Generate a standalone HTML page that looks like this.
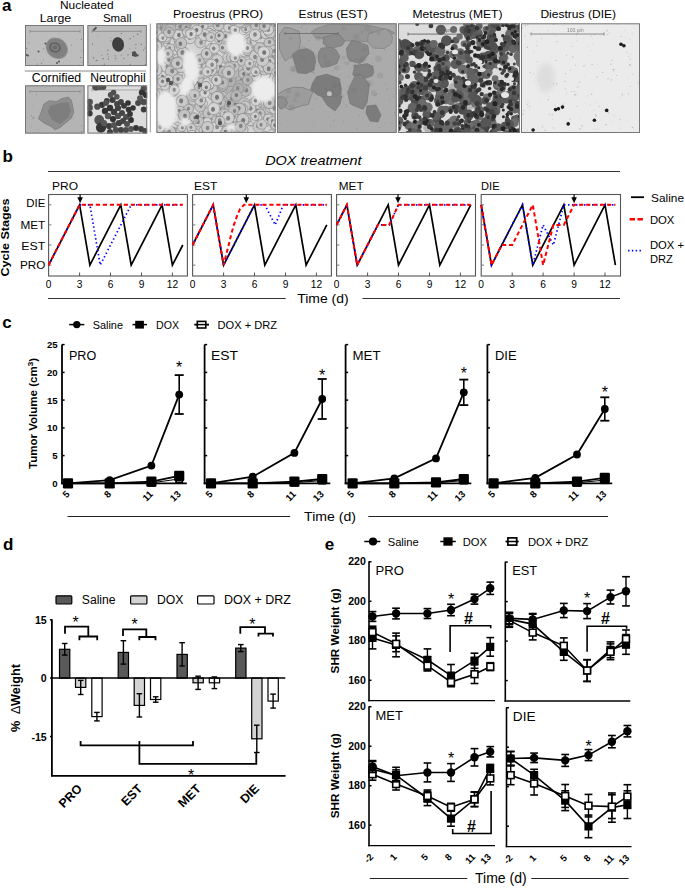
<!DOCTYPE html>
<html><head><meta charset="utf-8"><style>
html,body{margin:0;padding:0;background:#fff;}
body{width:685px;height:888px;overflow:hidden;}
svg{display:block;font-family:"Liberation Sans", sans-serif;}
</style></head><body>
<svg width="685" height="888" viewBox="0 0 685 888">
<rect width="685" height="888" fill="#fff"/>
<text x="2.0" y="11.2" font-size="17" font-weight="bold" text-anchor="start" fill="#000">a</text>
<text x="60.0" y="9.2" font-size="10.5" text-anchor="start" fill="#000" textLength="53.5" lengthAdjust="spacingAndGlyphs">Nucleated</text>
<text x="39.7" y="22.2" font-size="10.5" text-anchor="start" fill="#000" textLength="31.5" lengthAdjust="spacingAndGlyphs">Large</text>
<text x="102.9" y="22.3" font-size="10.8" text-anchor="start" fill="#000" textLength="28.6" lengthAdjust="spacingAndGlyphs">Small</text>
<text x="31.8" y="82.1" font-size="12.4" text-anchor="start" fill="#000" textLength="49.3" lengthAdjust="spacingAndGlyphs">Cornified</text>
<text x="90.2" y="82.1" font-size="12.4" text-anchor="start" fill="#000" textLength="55.4" lengthAdjust="spacingAndGlyphs">Neutrophil</text>
<line x1="24.7" y1="71.0" x2="146.2" y2="71.0" stroke="#888" stroke-width="1"/>
<line x1="150.3" y1="23.5" x2="150.3" y2="132.5" stroke="#999" stroke-width="1"/>
<text x="172.9" y="17.5" font-size="11.8" text-anchor="start" fill="#000" textLength="90.2" lengthAdjust="spacingAndGlyphs">Proestrus (PRO)</text>
<text x="298.6" y="17.5" font-size="11.8" text-anchor="start" fill="#000" textLength="69.1" lengthAdjust="spacingAndGlyphs">Estrus (EST)</text>
<text x="412.5" y="17.5" font-size="11.8" text-anchor="start" fill="#000" textLength="89.9" lengthAdjust="spacingAndGlyphs">Metestrus (MET)</text>
<text x="540.4" y="17.5" font-size="11.8" text-anchor="start" fill="#000" textLength="75.7" lengthAdjust="spacingAndGlyphs">Diestrus (DIE)</text>
<filter id="bl0" x="-20%" y="-20%" width="140%" height="140%"><feGaussianBlur stdDeviation="0.8"/></filter>
<clipPath id="cL"><rect x="25" y="25" width="59" height="41"/></clipPath>
<rect x="25" y="25" width="59" height="41" fill="#bdbdbd"/>
<g clip-path="url(#cL)">
<line x1="30.0" y1="31.4" x2="80.0" y2="31.4" stroke="#888" stroke-width="0.8"/>
<line x1="30.0" y1="29.9" x2="30.0" y2="32.9" stroke="#888" stroke-width="0.8"/>
<line x1="80.0" y1="29.9" x2="80.0" y2="32.9" stroke="#888" stroke-width="0.8"/>
<circle cx="61.8" cy="57.5" r="0.70" fill="#8a8a8a"/>
<circle cx="80.6" cy="57.4" r="0.76" fill="#8a8a8a"/>
<circle cx="26.7" cy="48.4" r="0.77" fill="#8a8a8a"/>
<circle cx="63.3" cy="62.7" r="0.36" fill="#8a8a8a"/>
<circle cx="52.7" cy="41.1" r="0.57" fill="#8a8a8a"/>
<circle cx="58.9" cy="33.4" r="0.41" fill="#8a8a8a"/>
<circle cx="41.5" cy="63.2" r="0.68" fill="#8a8a8a"/>
<circle cx="34.4" cy="59.3" r="0.37" fill="#8a8a8a"/>
<circle cx="61.4" cy="37.2" r="0.30" fill="#8a8a8a"/>
<circle cx="76.4" cy="39.9" r="0.41" fill="#8a8a8a"/>
<circle cx="83.0" cy="61.8" r="0.44" fill="#8a8a8a"/>
<circle cx="81.7" cy="50.8" r="0.64" fill="#8a8a8a"/>
<circle cx="37.1" cy="64.1" r="0.65" fill="#8a8a8a"/>
<circle cx="82.0" cy="62.5" r="0.45" fill="#8a8a8a"/>
<circle cx="46.3" cy="38.5" r="0.37" fill="#8a8a8a"/>
<circle cx="28.8" cy="42.9" r="0.60" fill="#8a8a8a"/>
<circle cx="25.2" cy="55.4" r="0.47" fill="#8a8a8a"/>
<circle cx="43.3" cy="60.0" r="0.54" fill="#8a8a8a"/>
<circle cx="43.6" cy="48.9" r="0.65" fill="#8a8a8a"/>
<circle cx="28.4" cy="65.2" r="0.31" fill="#8a8a8a"/>
<circle cx="69.2" cy="60.9" r="0.31" fill="#8a8a8a"/>
<circle cx="71.5" cy="45.1" r="0.59" fill="#8a8a8a"/>
<circle cx="25.5" cy="34.5" r="0.39" fill="#8a8a8a"/>
<circle cx="81.4" cy="39.5" r="0.68" fill="#8a8a8a"/>
<circle cx="79.8" cy="64.1" r="0.47" fill="#8a8a8a"/>
<ellipse cx="56.8" cy="48.2" rx="11.2" ry="9.6" fill="#808080" stroke="#8e8e8e" stroke-width="1" transform="rotate(40 56.8 48.2)"/>
<ellipse cx="55" cy="47.5" rx="5" ry="4.2" fill="none" stroke="#5e5e5e" stroke-width="1.6" transform="rotate(20 55 47.5)"/>
<ellipse cx="55" cy="47.5" rx="2.5" ry="2" fill="#6a6a6a"/>
<circle cx="38.5" cy="51.5" r="1" fill="#555"/>
<circle cx="26.5" cy="55" r="1" fill="#555"/>
<circle cx="28" cy="55.5" r="1" fill="#555"/>
<circle cx="57" cy="63" r="1" fill="#555"/>
<circle cx="59" cy="61.5" r="1" fill="#555"/>
<circle cx="45.5" cy="43.5" r="1" fill="#555"/>
</g>
<rect x="25.5" y="25.5" width="58" height="40" fill="none" stroke="#777" stroke-width="1"/>
<clipPath id="cS"><rect x="87.4" y="25" width="59.4" height="41"/></clipPath>
<rect x="87.4" y="25" width="59.4" height="41" fill="#bcbcbc"/>
<g clip-path="url(#cS)">
<line x1="92.0" y1="31.4" x2="141.0" y2="31.4" stroke="#888" stroke-width="0.8"/>
<line x1="92.0" y1="29.9" x2="92.0" y2="32.9" stroke="#888" stroke-width="0.8"/>
<line x1="141.0" y1="29.9" x2="141.0" y2="32.9" stroke="#888" stroke-width="0.8"/>
<circle cx="107.9" cy="50.3" r="0.69" fill="#777"/>
<circle cx="93.4" cy="57.7" r="0.70" fill="#777"/>
<circle cx="137.7" cy="34.2" r="0.77" fill="#777"/>
<circle cx="92.4" cy="44.2" r="0.61" fill="#777"/>
<circle cx="141.2" cy="44.2" r="0.76" fill="#777"/>
<circle cx="119.2" cy="43.3" r="0.46" fill="#777"/>
<circle cx="97.5" cy="35.6" r="0.37" fill="#777"/>
<circle cx="127.7" cy="65.9" r="0.38" fill="#777"/>
<circle cx="89.9" cy="65.6" r="0.57" fill="#777"/>
<circle cx="110.9" cy="40.8" r="0.60" fill="#777"/>
<circle cx="135.8" cy="48.0" r="0.51" fill="#777"/>
<circle cx="90.3" cy="63.2" r="0.32" fill="#777"/>
<circle cx="116.1" cy="60.7" r="0.37" fill="#777"/>
<circle cx="130.2" cy="64.3" r="0.62" fill="#777"/>
<circle cx="133.5" cy="36.5" r="0.52" fill="#777"/>
<circle cx="95.8" cy="60.9" r="0.45" fill="#777"/>
<circle cx="113.7" cy="66.0" r="0.73" fill="#777"/>
<circle cx="144.6" cy="48.0" r="0.54" fill="#777"/>
<circle cx="130.0" cy="48.8" r="0.45" fill="#777"/>
<circle cx="110.8" cy="37.8" r="0.49" fill="#777"/>
<circle cx="145.3" cy="64.7" r="0.61" fill="#777"/>
<circle cx="116.5" cy="44.2" r="0.34" fill="#777"/>
<circle cx="103.1" cy="58.8" r="0.73" fill="#777"/>
<circle cx="108.3" cy="58.9" r="0.69" fill="#777"/>
<circle cx="128.0" cy="54.9" r="0.68" fill="#777"/>
<circle cx="108.4" cy="56.2" r="0.44" fill="#777"/>
<circle cx="115.7" cy="58.4" r="0.65" fill="#777"/>
<circle cx="104.3" cy="64.2" r="0.62" fill="#777"/>
<circle cx="121.3" cy="33.4" r="0.57" fill="#777"/>
<circle cx="101.8" cy="55.2" r="0.53" fill="#777"/>
<circle cx="135.2" cy="54.4" r="0.70" fill="#777"/>
<circle cx="107.5" cy="54.3" r="0.67" fill="#777"/>
<circle cx="135.9" cy="44.6" r="0.72" fill="#777"/>
<circle cx="138.3" cy="55.7" r="0.79" fill="#777"/>
<circle cx="143.4" cy="50.1" r="0.56" fill="#777"/>
<circle cx="96.8" cy="60.6" r="0.77" fill="#777"/>
<circle cx="115.2" cy="55.8" r="0.66" fill="#777"/>
<circle cx="130.1" cy="38.7" r="0.69" fill="#777"/>
<circle cx="121.3" cy="55.0" r="0.51" fill="#777"/>
<circle cx="123.8" cy="58.6" r="0.62" fill="#777"/>
<ellipse cx="118.1" cy="44.4" rx="5.9" ry="7.3" fill="#3e3e3e" transform="rotate(-12 118.1 44.4)"/>
<path d="M132 52 L135 51 L137 54 L139 55 L136 57 L132 56 Z" fill="#505050"/>
<path d="M92.5 30 L96 26.5 L97 28 L94 31 Z" fill="#4a4a4a"/>
</g>
<rect x="87.9" y="25.5" width="58.4" height="40" fill="none" stroke="#777" stroke-width="1"/>
<clipPath id="cC"><rect x="25" y="85.3" width="59.6" height="48.3"/></clipPath>
<rect x="25" y="85.3" width="59.6" height="48.3" fill="#b4b4b4"/>
<g clip-path="url(#cC)">
<line x1="30.0" y1="91.5" x2="80.0" y2="91.5" stroke="#888" stroke-width="0.8"/>
<line x1="30.0" y1="90.0" x2="30.0" y2="93.0" stroke="#888" stroke-width="0.8"/>
<line x1="80.0" y1="90.0" x2="80.0" y2="93.0" stroke="#888" stroke-width="0.8"/>
<circle cx="67.5" cy="94.1" r="0.38" fill="#8a8a8a"/>
<circle cx="51.0" cy="119.0" r="0.41" fill="#8a8a8a"/>
<circle cx="65.5" cy="118.2" r="0.32" fill="#8a8a8a"/>
<circle cx="52.8" cy="102.0" r="0.33" fill="#8a8a8a"/>
<circle cx="32.9" cy="105.7" r="0.39" fill="#8a8a8a"/>
<circle cx="36.4" cy="94.4" r="0.53" fill="#8a8a8a"/>
<circle cx="47.4" cy="117.5" r="0.60" fill="#8a8a8a"/>
<circle cx="39.0" cy="129.1" r="0.30" fill="#8a8a8a"/>
<circle cx="48.9" cy="104.1" r="0.51" fill="#8a8a8a"/>
<circle cx="31.8" cy="126.3" r="0.49" fill="#8a8a8a"/>
<circle cx="27.1" cy="117.5" r="0.35" fill="#8a8a8a"/>
<circle cx="57.2" cy="106.6" r="0.59" fill="#8a8a8a"/>
<circle cx="81.5" cy="125.7" r="0.51" fill="#8a8a8a"/>
<circle cx="73.0" cy="118.7" r="0.48" fill="#8a8a8a"/>
<circle cx="33.4" cy="116.8" r="0.58" fill="#8a8a8a"/>
<circle cx="81.5" cy="131.7" r="0.60" fill="#8a8a8a"/>
<circle cx="45.7" cy="128.7" r="0.30" fill="#8a8a8a"/>
<circle cx="31.4" cy="115.6" r="0.61" fill="#8a8a8a"/>
<circle cx="33.3" cy="118.2" r="0.75" fill="#8a8a8a"/>
<circle cx="47.2" cy="110.3" r="0.41" fill="#8a8a8a"/>
<path d="M38.5 118.8 L41.2 112.1 L43.9 103.9 L49.3 100.7 L56.6 101.6 L62 98.5 L68.3 97.1 L71.1 99.8 L72 103 L73.8 112.1 L71.1 118.4 L65.6 122.9 L60.2 127.4 L55.2 129.7 L51.1 126.5 L43.9 122.9 Z" fill="#8e8e8e" stroke="#7c7c7c" stroke-width="0.8"/>
<path d="M50 106 L60 103 L68 102 L71 110 L68 118 L60 124 L52 120 L48 112 Z" fill="#7e7e7e"/>
</g>
<rect x="25.5" y="85.8" width="58.6" height="47.3" fill="none" stroke="#777" stroke-width="1"/>
<clipPath id="cN"><rect x="87.4" y="85.3" width="59.8" height="48.3"/></clipPath>
<rect x="87.4" y="85.3" width="59.8" height="48.3" fill="#dcdcdc"/>
<g clip-path="url(#cN)">
<line x1="92.0" y1="90.0" x2="141.0" y2="90.0" stroke="#999" stroke-width="0.8"/>
<line x1="92.0" y1="88.5" x2="92.0" y2="91.5" stroke="#999" stroke-width="0.8"/>
<line x1="141.0" y1="88.5" x2="141.0" y2="91.5" stroke="#999" stroke-width="0.8"/>
<circle cx="96.0" cy="86.8" r="3.8" fill="#4e4e4e"/>
<circle cx="100.0" cy="87.0" r="3.1" fill="#555555"/>
<circle cx="103.5" cy="87.2" r="2.8" fill="#4f4f4f"/>
<circle cx="113.5" cy="92.5" r="2.8" fill="#4e4e4e"/>
<circle cx="110.6" cy="94.9" r="2.8" fill="#525252"/>
<circle cx="116.8" cy="96.8" r="2.8" fill="#575757"/>
<circle cx="112.5" cy="100.1" r="3.0" fill="#3e3e3e"/>
<circle cx="106.8" cy="101.0" r="2.9" fill="#3d3d3d"/>
<circle cx="89.7" cy="102.0" r="3.2" fill="#525252"/>
<circle cx="89.7" cy="107.7" r="3.2" fill="#505050"/>
<circle cx="89.7" cy="113.4" r="3.0" fill="#3d3d3d"/>
<circle cx="102.0" cy="104.8" r="3.1" fill="#383838"/>
<circle cx="97.3" cy="106.7" r="3.1" fill="#4e4e4e"/>
<circle cx="121.0" cy="102.0" r="2.9" fill="#454545"/>
<circle cx="124.0" cy="105.8" r="2.9" fill="#3b3b3b"/>
<circle cx="128.6" cy="109.6" r="2.9" fill="#373737"/>
<circle cx="143.8" cy="88.7" r="3.2" fill="#545454"/>
<circle cx="141.9" cy="92.5" r="3.1" fill="#343434"/>
<circle cx="140.0" cy="98.2" r="3.0" fill="#585858"/>
<circle cx="138.1" cy="103.0" r="3.0" fill="#4b4b4b"/>
<circle cx="143.8" cy="102.0" r="3.2" fill="#4e4e4e"/>
<circle cx="143.8" cy="109.6" r="3.0" fill="#3c3c3c"/>
<circle cx="146.0" cy="95.0" r="3.1" fill="#323232"/>
<circle cx="99.2" cy="120.0" r="4.9" fill="#535353"/>
<circle cx="101.0" cy="127.6" r="5.1" fill="#363636"/>
<circle cx="105.0" cy="111.0" r="3.2" fill="#353535"/>
<circle cx="110.0" cy="108.0" r="3.2" fill="#343434"/>
<circle cx="114.0" cy="112.0" r="3.2" fill="#3e3e3e"/>
<circle cx="118.0" cy="108.0" r="3.1" fill="#414141"/>
<circle cx="108.0" cy="116.0" r="3.2" fill="#585858"/>
<circle cx="113.0" cy="119.0" r="3.1" fill="#333333"/>
<circle cx="118.0" cy="116.0" r="3.1" fill="#4f4f4f"/>
<circle cx="122.0" cy="113.0" r="3.0" fill="#464646"/>
<circle cx="126.0" cy="117.0" r="3.0" fill="#4e4e4e"/>
<circle cx="104.0" cy="123.0" r="3.1" fill="#575757"/>
<circle cx="109.0" cy="126.0" r="3.1" fill="#3e3e3e"/>
<circle cx="114.0" cy="125.0" r="3.1" fill="#535353"/>
<circle cx="119.0" cy="123.0" r="3.1" fill="#404040"/>
<circle cx="123.0" cy="121.0" r="3.0" fill="#444444"/>
<circle cx="127.0" cy="124.0" r="3.0" fill="#515151"/>
<circle cx="131.0" cy="120.0" r="2.9" fill="#323232"/>
<circle cx="130.0" cy="114.0" r="2.9" fill="#373737"/>
<circle cx="116.0" cy="130.0" r="3.1" fill="#4f4f4f"/>
<circle cx="121.0" cy="130.0" r="3.0" fill="#434343"/>
<circle cx="126.0" cy="130.0" r="3.0" fill="#4c4c4c"/>
<circle cx="131.0" cy="129.0" r="2.9" fill="#555555"/>
<circle cx="136.0" cy="128.0" r="2.9" fill="#373737"/>
<circle cx="141.0" cy="129.0" r="2.9" fill="#424242"/>
<circle cx="145.0" cy="131.0" r="2.9" fill="#464646"/>
<circle cx="110.0" cy="132.0" r="3.0" fill="#404040"/>
<circle cx="106.0" cy="103.0" r="2.9" fill="#525252"/>
<circle cx="117.0" cy="104.0" r="2.9" fill="#444444"/>
<circle cx="128.0" cy="103.0" r="2.8" fill="#333333"/>
<circle cx="133.0" cy="108.0" r="2.8" fill="#363636"/>
</g>
<rect x="87.9" y="85.8" width="58.8" height="47.3" fill="none" stroke="#777" stroke-width="1"/>
<filter id="bl" x="-5%" y="-5%" width="110%" height="110%"><feGaussianBlur stdDeviation="0.55"/></filter>
<filter id="bl2" x="-20%" y="-20%" width="140%" height="140%"><feGaussianBlur stdDeviation="2.5"/></filter>
<clipPath id="cP"><rect x="156.4" y="23.3" width="119.3" height="109.7"/></clipPath>
<g clip-path="url(#cP)"><g filter="url(#bl)">
<rect x="153.4" y="20.3" width="125.3" height="115.7" fill="#d4d4d4"/>
<filter id="bl3" x="-30%" y="-30%" width="160%" height="160%"><feGaussianBlur stdDeviation="1.6"/></filter>
<circle cx="233.2" cy="75.7" r="4.6" fill="#c0c0c0" stroke="#9c9c9c" stroke-width="0.9"/>
<ellipse cx="233.2" cy="75.2" rx="1.5" ry="1.9" fill="#797979"/>
<circle cx="152.8" cy="63.0" r="5.4" fill="#c6c6c6" stroke="#909090" stroke-width="0.9"/>
<ellipse cx="152.3" cy="62.4" rx="1.8" ry="2.1" fill="#8c8c8c"/>
<circle cx="157.8" cy="136.7" r="5.7" fill="#d1d1d1" stroke="#9f9f9f" stroke-width="0.9"/>
<ellipse cx="156.9" cy="136.4" rx="1.9" ry="2.3" fill="#828282"/>
<circle cx="215.7" cy="32.9" r="6.1" fill="#cecece" stroke="#8c8c8c" stroke-width="0.9"/>
<ellipse cx="216.2" cy="32.1" rx="2.0" ry="2.4" fill="#787878"/>
<circle cx="255.3" cy="21.6" r="4.5" fill="#cdcdcd" stroke="#989898" stroke-width="0.9"/>
<ellipse cx="254.6" cy="21.9" rx="1.5" ry="1.8" fill="#838383"/>
<circle cx="212.2" cy="115.8" r="4.3" fill="#c9c9c9" stroke="#929292" stroke-width="0.9"/>
<ellipse cx="213.2" cy="116.6" rx="1.4" ry="1.7" fill="#898989"/>
<circle cx="248.5" cy="109.1" r="5.4" fill="#c2c2c2" stroke="#8f8f8f" stroke-width="0.9"/>
<ellipse cx="248.4" cy="109.7" rx="1.8" ry="2.1" fill="#858585"/>
<circle cx="178.0" cy="128.0" r="6.0" fill="#d0d0d0" stroke="#959595" stroke-width="0.9"/>
<ellipse cx="178.9" cy="128.0" rx="2.0" ry="2.4" fill="#7f7f7f"/>
<circle cx="277.5" cy="19.6" r="4.3" fill="#d3d3d3" stroke="#939393" stroke-width="0.9"/>
<ellipse cx="277.7" cy="19.7" rx="1.4" ry="1.7" fill="#868686"/>
<circle cx="174.1" cy="60.3" r="6.1" fill="#cecece" stroke="#9f9f9f" stroke-width="0.9"/>
<ellipse cx="173.5" cy="59.6" rx="2.0" ry="2.4" fill="#7d7d7d"/>
<circle cx="269.9" cy="39.8" r="5.1" fill="#c8c8c8" stroke="#8d8d8d" stroke-width="0.9"/>
<ellipse cx="270.0" cy="40.1" rx="1.7" ry="2.0" fill="#898989"/>
<circle cx="183.1" cy="127.3" r="4.5" fill="#d5d5d5" stroke="#8c8c8c" stroke-width="0.9"/>
<ellipse cx="183.1" cy="127.1" rx="1.5" ry="1.8" fill="#7f7f7f"/>
<circle cx="173.1" cy="27.5" r="5.8" fill="#d2d2d2" stroke="#8d8d8d" stroke-width="0.9"/>
<ellipse cx="172.2" cy="27.0" rx="1.9" ry="2.3" fill="#7d7d7d"/>
<circle cx="174.1" cy="27.5" r="4.9" fill="#c7c7c7" stroke="#909090" stroke-width="0.9"/>
<ellipse cx="174.6" cy="26.6" rx="1.6" ry="2.0" fill="#8b8b8b"/>
<circle cx="268.4" cy="75.7" r="6.1" fill="#cecece" stroke="#909090" stroke-width="0.9"/>
<ellipse cx="268.6" cy="75.5" rx="2.0" ry="2.4" fill="#7f7f7f"/>
<circle cx="226.4" cy="119.3" r="4.8" fill="#d4d4d4" stroke="#9e9e9e" stroke-width="0.9"/>
<ellipse cx="225.7" cy="119.7" rx="1.6" ry="1.9" fill="#7c7c7c"/>
<circle cx="201.1" cy="34.1" r="5.6" fill="#cbcbcb" stroke="#9e9e9e" stroke-width="0.9"/>
<ellipse cx="201.4" cy="34.8" rx="1.9" ry="2.3" fill="#7e7e7e"/>
<circle cx="204.0" cy="132.1" r="6.0" fill="#c7c7c7" stroke="#909090" stroke-width="0.9"/>
<ellipse cx="203.8" cy="131.5" rx="2.0" ry="2.4" fill="#777777"/>
<circle cx="234.1" cy="111.8" r="4.3" fill="#c1c1c1" stroke="#a0a0a0" stroke-width="0.9"/>
<ellipse cx="233.3" cy="111.9" rx="1.4" ry="1.7" fill="#7d7d7d"/>
<circle cx="180.4" cy="38.8" r="4.6" fill="#cfcfcf" stroke="#929292" stroke-width="0.9"/>
<ellipse cx="180.8" cy="39.4" rx="1.5" ry="1.8" fill="#8a8a8a"/>
<circle cx="229.3" cy="78.7" r="5.7" fill="#b2b2b2" stroke="#8c8c8c" stroke-width="0.9"/>
<ellipse cx="229.2" cy="77.9" rx="1.9" ry="2.3" fill="#808080"/>
<circle cx="249.6" cy="39.9" r="5.6" fill="#cbcbcb" stroke="#9f9f9f" stroke-width="0.9"/>
<ellipse cx="250.1" cy="39.4" rx="1.9" ry="2.2" fill="#7e7e7e"/>
<circle cx="278.5" cy="115.5" r="5.8" fill="#d2d2d2" stroke="#9e9e9e" stroke-width="0.9"/>
<ellipse cx="278.6" cy="114.7" rx="1.9" ry="2.3" fill="#777777"/>
<circle cx="228.1" cy="57.4" r="5.2" fill="#cbcbcb" stroke="#9f9f9f" stroke-width="0.9"/>
<ellipse cx="228.6" cy="56.8" rx="1.7" ry="2.1" fill="#848484"/>
<circle cx="230.9" cy="57.6" r="4.6" fill="#c4c4c4" stroke="#969696" stroke-width="0.9"/>
<ellipse cx="231.9" cy="56.9" rx="1.5" ry="1.8" fill="#898989"/>
<circle cx="162.1" cy="27.9" r="5.8" fill="#d2d2d2" stroke="#9c9c9c" stroke-width="0.9"/>
<ellipse cx="163.0" cy="28.3" rx="1.9" ry="2.3" fill="#878787"/>
<circle cx="242.2" cy="74.7" r="5.2" fill="#c1c1c1" stroke="#8e8e8e" stroke-width="0.9"/>
<ellipse cx="241.3" cy="75.0" rx="1.7" ry="2.1" fill="#7b7b7b"/>
<circle cx="227.4" cy="66.9" r="5.1" fill="#c5c5c5" stroke="#989898" stroke-width="0.9"/>
<ellipse cx="227.1" cy="66.4" rx="1.7" ry="2.0" fill="#808080"/>
<circle cx="157.2" cy="39.6" r="4.9" fill="#cacaca" stroke="#9a9a9a" stroke-width="0.9"/>
<ellipse cx="157.4" cy="39.9" rx="1.6" ry="2.0" fill="#888888"/>
<circle cx="245.5" cy="90.6" r="5.8" fill="#b9b9b9" stroke="#939393" stroke-width="0.9"/>
<ellipse cx="246.3" cy="90.3" rx="1.9" ry="2.3" fill="#838383"/>
<circle cx="230.7" cy="116.4" r="6.1" fill="#c1c1c1" stroke="#919191" stroke-width="0.9"/>
<ellipse cx="230.1" cy="117.1" rx="2.0" ry="2.5" fill="#7e7e7e"/>
<circle cx="243.6" cy="30.0" r="4.6" fill="#d3d3d3" stroke="#959595" stroke-width="0.9"/>
<ellipse cx="244.5" cy="30.5" rx="1.5" ry="1.8" fill="#878787"/>
<circle cx="211.3" cy="32.0" r="6.1" fill="#d0d0d0" stroke="#929292" stroke-width="0.9"/>
<ellipse cx="210.9" cy="32.3" rx="2.0" ry="2.4" fill="#898989"/>
<circle cx="273.5" cy="57.2" r="4.7" fill="#c7c7c7" stroke="#9c9c9c" stroke-width="0.9"/>
<ellipse cx="273.0" cy="57.6" rx="1.6" ry="1.9" fill="#7a7a7a"/>
<circle cx="202.4" cy="66.6" r="5.1" fill="#cbcbcb" stroke="#919191" stroke-width="0.9"/>
<ellipse cx="202.2" cy="66.1" rx="1.7" ry="2.0" fill="#898989"/>
<circle cx="176.4" cy="132.4" r="4.3" fill="#cecece" stroke="#8c8c8c" stroke-width="0.9"/>
<ellipse cx="176.4" cy="131.5" rx="1.4" ry="1.7" fill="#767676"/>
<circle cx="229.8" cy="101.7" r="4.7" fill="#b6b6b6" stroke="#9d9d9d" stroke-width="0.9"/>
<ellipse cx="229.0" cy="101.4" rx="1.5" ry="1.9" fill="#787878"/>
<circle cx="210.2" cy="124.6" r="4.9" fill="#c7c7c7" stroke="#9e9e9e" stroke-width="0.9"/>
<ellipse cx="210.3" cy="123.7" rx="1.6" ry="2.0" fill="#818181"/>
<circle cx="176.3" cy="66.7" r="5.3" fill="#cacaca" stroke="#9e9e9e" stroke-width="0.9"/>
<ellipse cx="177.1" cy="67.5" rx="1.8" ry="2.1" fill="#868686"/>
<circle cx="154.6" cy="87.8" r="4.4" fill="#c9c9c9" stroke="#909090" stroke-width="0.9"/>
<ellipse cx="154.6" cy="87.9" rx="1.4" ry="1.7" fill="#757575"/>
<circle cx="220.6" cy="77.1" r="5.6" fill="#c7c7c7" stroke="#909090" stroke-width="0.9"/>
<ellipse cx="219.9" cy="76.7" rx="1.8" ry="2.2" fill="#7c7c7c"/>
<circle cx="233.9" cy="20.4" r="5.8" fill="#c5c5c5" stroke="#919191" stroke-width="0.9"/>
<ellipse cx="233.1" cy="21.0" rx="1.9" ry="2.3" fill="#848484"/>
<circle cx="173.0" cy="88.2" r="4.8" fill="#cfcfcf" stroke="#919191" stroke-width="0.9"/>
<ellipse cx="172.2" cy="89.0" rx="1.6" ry="1.9" fill="#757575"/>
<circle cx="221.0" cy="67.4" r="5.6" fill="#d1d1d1" stroke="#999999" stroke-width="0.9"/>
<ellipse cx="220.6" cy="66.8" rx="1.8" ry="2.2" fill="#767676"/>
<circle cx="216.4" cy="105.0" r="5.4" fill="#c7c7c7" stroke="#8c8c8c" stroke-width="0.9"/>
<ellipse cx="216.1" cy="104.9" rx="1.8" ry="2.2" fill="#8a8a8a"/>
<circle cx="262.4" cy="71.3" r="4.2" fill="#cbcbcb" stroke="#8d8d8d" stroke-width="0.9"/>
<ellipse cx="262.8" cy="71.6" rx="1.4" ry="1.7" fill="#7a7a7a"/>
<circle cx="230.8" cy="90.3" r="4.4" fill="#b3b3b3" stroke="#989898" stroke-width="0.9"/>
<ellipse cx="231.7" cy="91.2" rx="1.5" ry="1.8" fill="#7a7a7a"/>
<circle cx="253.5" cy="20.6" r="4.9" fill="#cbcbcb" stroke="#9f9f9f" stroke-width="0.9"/>
<ellipse cx="254.0" cy="20.9" rx="1.6" ry="2.0" fill="#747474"/>
<circle cx="173.0" cy="128.9" r="5.3" fill="#d0d0d0" stroke="#929292" stroke-width="0.9"/>
<ellipse cx="174.0" cy="129.0" rx="1.7" ry="2.1" fill="#7b7b7b"/>
<circle cx="251.1" cy="106.4" r="6.0" fill="#cbcbcb" stroke="#8e8e8e" stroke-width="0.9"/>
<ellipse cx="250.9" cy="105.8" rx="2.0" ry="2.4" fill="#7b7b7b"/>
<circle cx="221.1" cy="115.2" r="4.9" fill="#c7c7c7" stroke="#8c8c8c" stroke-width="0.9"/>
<ellipse cx="222.0" cy="115.7" rx="1.6" ry="2.0" fill="#818181"/>
<circle cx="277.7" cy="106.4" r="5.7" fill="#c9c9c9" stroke="#9d9d9d" stroke-width="0.9"/>
<ellipse cx="277.4" cy="107.4" rx="1.9" ry="2.3" fill="#848484"/>
<circle cx="190.1" cy="38.3" r="5.5" fill="#d1d1d1" stroke="#9b9b9b" stroke-width="0.9"/>
<ellipse cx="189.5" cy="37.7" rx="1.8" ry="2.2" fill="#8c8c8c"/>
<circle cx="180.7" cy="75.5" r="4.3" fill="#d1d1d1" stroke="#929292" stroke-width="0.9"/>
<ellipse cx="181.3" cy="75.1" rx="1.4" ry="1.7" fill="#757575"/>
<circle cx="208.5" cy="54.8" r="4.5" fill="#cacaca" stroke="#919191" stroke-width="0.9"/>
<ellipse cx="207.7" cy="53.9" rx="1.5" ry="1.8" fill="#808080"/>
<circle cx="251.4" cy="121.3" r="4.8" fill="#d1d1d1" stroke="#929292" stroke-width="0.9"/>
<ellipse cx="250.8" cy="121.8" rx="1.6" ry="1.9" fill="#838383"/>
<circle cx="255.8" cy="76.1" r="4.3" fill="#cccccc" stroke="#909090" stroke-width="0.9"/>
<ellipse cx="255.5" cy="75.8" rx="1.4" ry="1.7" fill="#838383"/>
<circle cx="224.0" cy="72.0" r="5.6" fill="#bfbfbf" stroke="#949494" stroke-width="0.9"/>
<ellipse cx="223.2" cy="72.3" rx="1.9" ry="2.3" fill="#8c8c8c"/>
<circle cx="245.9" cy="73.3" r="4.4" fill="#c0c0c0" stroke="#9f9f9f" stroke-width="0.9"/>
<ellipse cx="246.7" cy="72.5" rx="1.5" ry="1.8" fill="#7e7e7e"/>
<circle cx="191.6" cy="93.9" r="4.5" fill="#cbcbcb" stroke="#8f8f8f" stroke-width="0.9"/>
<ellipse cx="191.8" cy="94.2" rx="1.5" ry="1.8" fill="#898989"/>
<circle cx="217.8" cy="35.1" r="5.7" fill="#d2d2d2" stroke="#929292" stroke-width="0.9"/>
<ellipse cx="218.2" cy="34.7" rx="1.9" ry="2.3" fill="#757575"/>
<circle cx="235.1" cy="62.6" r="4.6" fill="#c3c3c3" stroke="#959595" stroke-width="0.9"/>
<ellipse cx="234.6" cy="63.3" rx="1.5" ry="1.8" fill="#757575"/>
<circle cx="229.0" cy="79.4" r="6.2" fill="#b8b8b8" stroke="#9f9f9f" stroke-width="0.9"/>
<ellipse cx="228.9" cy="79.4" rx="2.0" ry="2.5" fill="#8a8a8a"/>
<circle cx="274.9" cy="63.3" r="5.5" fill="#cecece" stroke="#909090" stroke-width="0.9"/>
<ellipse cx="274.7" cy="63.2" rx="1.8" ry="2.2" fill="#7f7f7f"/>
<circle cx="234.9" cy="103.9" r="5.4" fill="#c4c4c4" stroke="#939393" stroke-width="0.9"/>
<ellipse cx="235.6" cy="104.7" rx="1.8" ry="2.1" fill="#747474"/>
<circle cx="259.8" cy="110.5" r="6.0" fill="#c5c5c5" stroke="#979797" stroke-width="0.9"/>
<ellipse cx="259.1" cy="109.5" rx="2.0" ry="2.4" fill="#838383"/>
<circle cx="186.9" cy="100.8" r="4.8" fill="#c4c4c4" stroke="#9a9a9a" stroke-width="0.9"/>
<ellipse cx="186.3" cy="99.8" rx="1.6" ry="1.9" fill="#797979"/>
<circle cx="172.5" cy="37.3" r="5.3" fill="#c8c8c8" stroke="#9d9d9d" stroke-width="0.9"/>
<ellipse cx="171.8" cy="37.1" rx="1.7" ry="2.1" fill="#888888"/>
<circle cx="249.3" cy="43.2" r="5.6" fill="#d4d4d4" stroke="#8c8c8c" stroke-width="0.9"/>
<ellipse cx="249.8" cy="42.7" rx="1.8" ry="2.2" fill="#767676"/>
<circle cx="224.7" cy="48.1" r="5.1" fill="#d3d3d3" stroke="#8c8c8c" stroke-width="0.9"/>
<ellipse cx="224.3" cy="47.7" rx="1.7" ry="2.0" fill="#808080"/>
<circle cx="268.7" cy="61.4" r="5.8" fill="#c4c4c4" stroke="#9e9e9e" stroke-width="0.9"/>
<ellipse cx="267.8" cy="61.2" rx="1.9" ry="2.3" fill="#838383"/>
<circle cx="255.1" cy="76.0" r="4.3" fill="#c2c2c2" stroke="#949494" stroke-width="0.9"/>
<ellipse cx="255.0" cy="75.6" rx="1.4" ry="1.7" fill="#8c8c8c"/>
<circle cx="257.4" cy="53.3" r="4.9" fill="#d2d2d2" stroke="#a0a0a0" stroke-width="0.9"/>
<ellipse cx="257.2" cy="53.9" rx="1.6" ry="2.0" fill="#7c7c7c"/>
<circle cx="253.3" cy="108.0" r="4.5" fill="#cbcbcb" stroke="#989898" stroke-width="0.9"/>
<ellipse cx="252.9" cy="108.3" rx="1.5" ry="1.8" fill="#777777"/>
<circle cx="267.8" cy="25.1" r="5.7" fill="#d0d0d0" stroke="#9c9c9c" stroke-width="0.9"/>
<ellipse cx="267.0" cy="26.0" rx="1.9" ry="2.3" fill="#8a8a8a"/>
<circle cx="244.8" cy="24.8" r="5.5" fill="#cdcdcd" stroke="#999999" stroke-width="0.9"/>
<ellipse cx="245.3" cy="23.8" rx="1.8" ry="2.2" fill="#797979"/>
<circle cx="216.4" cy="38.5" r="4.6" fill="#c8c8c8" stroke="#969696" stroke-width="0.9"/>
<ellipse cx="216.7" cy="37.9" rx="1.5" ry="1.9" fill="#747474"/>
<circle cx="235.2" cy="72.3" r="5.7" fill="#c6c6c6" stroke="#989898" stroke-width="0.9"/>
<ellipse cx="234.8" cy="72.5" rx="1.9" ry="2.3" fill="#7a7a7a"/>
<circle cx="213.5" cy="58.0" r="6.0" fill="#c7c7c7" stroke="#959595" stroke-width="0.9"/>
<ellipse cx="214.0" cy="58.4" rx="2.0" ry="2.4" fill="#898989"/>
<circle cx="246.0" cy="28.5" r="4.3" fill="#cccccc" stroke="#969696" stroke-width="0.9"/>
<ellipse cx="245.7" cy="29.5" rx="1.4" ry="1.7" fill="#858585"/>
<circle cx="173.7" cy="65.8" r="5.5" fill="#cbcbcb" stroke="#949494" stroke-width="0.9"/>
<ellipse cx="174.3" cy="66.1" rx="1.8" ry="2.2" fill="#7a7a7a"/>
<circle cx="247.1" cy="112.3" r="5.9" fill="#c7c7c7" stroke="#989898" stroke-width="0.9"/>
<ellipse cx="247.1" cy="112.7" rx="2.0" ry="2.4" fill="#7a7a7a"/>
<circle cx="217.8" cy="133.4" r="5.5" fill="#d0d0d0" stroke="#989898" stroke-width="0.9"/>
<ellipse cx="218.7" cy="133.9" rx="1.8" ry="2.2" fill="#898989"/>
<circle cx="218.5" cy="25.0" r="5.6" fill="#c5c5c5" stroke="#919191" stroke-width="0.9"/>
<ellipse cx="217.7" cy="24.9" rx="1.9" ry="2.3" fill="#828282"/>
<circle cx="174.9" cy="87.9" r="5.5" fill="#cccccc" stroke="#999999" stroke-width="0.9"/>
<ellipse cx="174.7" cy="88.4" rx="1.8" ry="2.2" fill="#8c8c8c"/>
<circle cx="167.1" cy="60.4" r="5.6" fill="#cbcbcb" stroke="#9a9a9a" stroke-width="0.9"/>
<ellipse cx="168.0" cy="61.1" rx="1.8" ry="2.2" fill="#888888"/>
<circle cx="219.9" cy="96.0" r="5.5" fill="#c3c3c3" stroke="#a0a0a0" stroke-width="0.9"/>
<ellipse cx="220.5" cy="95.5" rx="1.8" ry="2.2" fill="#797979"/>
<circle cx="252.1" cy="19.7" r="4.9" fill="#c8c8c8" stroke="#979797" stroke-width="0.9"/>
<ellipse cx="251.6" cy="18.8" rx="1.6" ry="2.0" fill="#8a8a8a"/>
<circle cx="254.6" cy="39.7" r="5.3" fill="#d4d4d4" stroke="#939393" stroke-width="0.9"/>
<ellipse cx="255.3" cy="40.0" rx="1.8" ry="2.1" fill="#787878"/>
<circle cx="180.0" cy="65.9" r="5.8" fill="#cccccc" stroke="#8d8d8d" stroke-width="0.9"/>
<ellipse cx="179.6" cy="65.4" rx="1.9" ry="2.3" fill="#7b7b7b"/>
<circle cx="257.0" cy="109.9" r="4.6" fill="#c5c5c5" stroke="#9f9f9f" stroke-width="0.9"/>
<ellipse cx="256.9" cy="110.3" rx="1.5" ry="1.8" fill="#828282"/>
<circle cx="252.3" cy="41.3" r="5.4" fill="#c4c4c4" stroke="#989898" stroke-width="0.9"/>
<ellipse cx="251.4" cy="41.7" rx="1.8" ry="2.2" fill="#838383"/>
<circle cx="214.3" cy="126.3" r="4.5" fill="#d4d4d4" stroke="#8f8f8f" stroke-width="0.9"/>
<ellipse cx="214.9" cy="126.8" rx="1.5" ry="1.8" fill="#878787"/>
<circle cx="232.6" cy="26.7" r="6.1" fill="#d1d1d1" stroke="#8e8e8e" stroke-width="0.9"/>
<ellipse cx="232.4" cy="27.6" rx="2.0" ry="2.4" fill="#868686"/>
<circle cx="262.3" cy="112.0" r="5.2" fill="#cbcbcb" stroke="#919191" stroke-width="0.9"/>
<ellipse cx="261.9" cy="112.6" rx="1.7" ry="2.1" fill="#868686"/>
<circle cx="181.0" cy="27.4" r="6.0" fill="#c8c8c8" stroke="#999999" stroke-width="0.9"/>
<ellipse cx="180.7" cy="26.9" rx="2.0" ry="2.4" fill="#888888"/>
<circle cx="197.3" cy="82.5" r="4.4" fill="#d4d4d4" stroke="#9c9c9c" stroke-width="0.9"/>
<ellipse cx="198.1" cy="82.8" rx="1.5" ry="1.8" fill="#757575"/>
<circle cx="265.5" cy="73.5" r="5.1" fill="#d3d3d3" stroke="#939393" stroke-width="0.9"/>
<ellipse cx="265.6" cy="73.0" rx="1.7" ry="2.1" fill="#898989"/>
<circle cx="177.2" cy="86.6" r="4.8" fill="#d5d5d5" stroke="#9b9b9b" stroke-width="0.9"/>
<ellipse cx="177.0" cy="86.1" rx="1.6" ry="1.9" fill="#858585"/>
<circle cx="266.7" cy="121.7" r="4.6" fill="#c8c8c8" stroke="#9d9d9d" stroke-width="0.9"/>
<ellipse cx="267.6" cy="121.0" rx="1.5" ry="1.8" fill="#848484"/>
<circle cx="272.5" cy="41.1" r="5.9" fill="#d2d2d2" stroke="#999999" stroke-width="0.9"/>
<ellipse cx="272.6" cy="40.6" rx="1.9" ry="2.3" fill="#878787"/>
<circle cx="234.3" cy="93.3" r="4.4" fill="#b1b1b1" stroke="#9e9e9e" stroke-width="0.9"/>
<ellipse cx="233.7" cy="93.4" rx="1.5" ry="1.8" fill="#767676"/>
<circle cx="241.1" cy="79.4" r="5.3" fill="#b6b6b6" stroke="#a0a0a0" stroke-width="0.9"/>
<ellipse cx="241.5" cy="80.4" rx="1.8" ry="2.1" fill="#818181"/>
<circle cx="260.3" cy="66.0" r="5.4" fill="#c8c8c8" stroke="#999999" stroke-width="0.9"/>
<ellipse cx="259.3" cy="65.6" rx="1.8" ry="2.2" fill="#7a7a7a"/>
<circle cx="200.4" cy="42.5" r="5.5" fill="#cbcbcb" stroke="#a0a0a0" stroke-width="0.9"/>
<ellipse cx="201.1" cy="42.5" rx="1.8" ry="2.2" fill="#898989"/>
<circle cx="200.0" cy="59.4" r="5.1" fill="#c4c4c4" stroke="#949494" stroke-width="0.9"/>
<ellipse cx="199.3" cy="60.2" rx="1.7" ry="2.0" fill="#898989"/>
<circle cx="262.3" cy="31.5" r="5.5" fill="#cacaca" stroke="#919191" stroke-width="0.9"/>
<ellipse cx="262.5" cy="31.1" rx="1.8" ry="2.2" fill="#8c8c8c"/>
<circle cx="219.4" cy="127.5" r="5.4" fill="#c4c4c4" stroke="#8d8d8d" stroke-width="0.9"/>
<ellipse cx="219.4" cy="128.2" rx="1.8" ry="2.2" fill="#898989"/>
<circle cx="202.9" cy="115.9" r="5.1" fill="#c4c4c4" stroke="#919191" stroke-width="0.9"/>
<ellipse cx="202.3" cy="116.1" rx="1.7" ry="2.1" fill="#787878"/>
<circle cx="234.4" cy="72.0" r="5.0" fill="#c2c2c2" stroke="#969696" stroke-width="0.9"/>
<ellipse cx="234.7" cy="71.4" rx="1.7" ry="2.0" fill="#777777"/>
<circle cx="217.8" cy="40.4" r="4.4" fill="#cdcdcd" stroke="#8d8d8d" stroke-width="0.9"/>
<ellipse cx="218.8" cy="41.0" rx="1.5" ry="1.8" fill="#777777"/>
<circle cx="245.4" cy="51.4" r="5.8" fill="#cfcfcf" stroke="#8d8d8d" stroke-width="0.9"/>
<ellipse cx="245.9" cy="52.3" rx="1.9" ry="2.3" fill="#8c8c8c"/>
<circle cx="225.7" cy="36.6" r="5.2" fill="#c5c5c5" stroke="#969696" stroke-width="0.9"/>
<ellipse cx="225.6" cy="36.4" rx="1.7" ry="2.1" fill="#777777"/>
<circle cx="209.9" cy="75.7" r="4.8" fill="#c4c4c4" stroke="#999999" stroke-width="0.9"/>
<ellipse cx="210.2" cy="74.8" rx="1.6" ry="1.9" fill="#7b7b7b"/>
<circle cx="253.5" cy="102.6" r="4.7" fill="#cfcfcf" stroke="#949494" stroke-width="0.9"/>
<ellipse cx="253.6" cy="102.7" rx="1.6" ry="1.9" fill="#7c7c7c"/>
<circle cx="182.0" cy="129.8" r="5.7" fill="#d0d0d0" stroke="#989898" stroke-width="0.9"/>
<ellipse cx="182.8" cy="130.6" rx="1.9" ry="2.3" fill="#7e7e7e"/>
<circle cx="255.1" cy="56.1" r="5.9" fill="#cccccc" stroke="#959595" stroke-width="0.9"/>
<ellipse cx="255.0" cy="57.1" rx="1.9" ry="2.4" fill="#898989"/>
<circle cx="237.0" cy="126.1" r="6.1" fill="#d2d2d2" stroke="#969696" stroke-width="0.9"/>
<ellipse cx="236.6" cy="125.6" rx="2.0" ry="2.4" fill="#818181"/>
<circle cx="185.4" cy="111.4" r="4.5" fill="#d4d4d4" stroke="#8e8e8e" stroke-width="0.9"/>
<ellipse cx="185.2" cy="111.2" rx="1.5" ry="1.8" fill="#7a7a7a"/>
<circle cx="222.3" cy="130.7" r="5.0" fill="#c6c6c6" stroke="#9c9c9c" stroke-width="0.9"/>
<ellipse cx="223.1" cy="129.9" rx="1.6" ry="2.0" fill="#8c8c8c"/>
<circle cx="243.5" cy="129.6" r="4.6" fill="#cacaca" stroke="#939393" stroke-width="0.9"/>
<ellipse cx="244.1" cy="128.7" rx="1.5" ry="1.8" fill="#7c7c7c"/>
<circle cx="166.5" cy="66.6" r="5.9" fill="#d5d5d5" stroke="#949494" stroke-width="0.9"/>
<ellipse cx="167.3" cy="67.0" rx="1.9" ry="2.4" fill="#8c8c8c"/>
<circle cx="258.5" cy="48.1" r="5.2" fill="#cfcfcf" stroke="#999999" stroke-width="0.9"/>
<ellipse cx="257.6" cy="49.0" rx="1.7" ry="2.1" fill="#7f7f7f"/>
<circle cx="247.0" cy="51.4" r="4.2" fill="#c7c7c7" stroke="#8d8d8d" stroke-width="0.9"/>
<ellipse cx="247.1" cy="51.5" rx="1.4" ry="1.7" fill="#838383"/>
<circle cx="192.5" cy="102.4" r="5.6" fill="#c5c5c5" stroke="#9e9e9e" stroke-width="0.9"/>
<ellipse cx="193.1" cy="102.7" rx="1.9" ry="2.2" fill="#7c7c7c"/>
<circle cx="175.8" cy="24.2" r="6.1" fill="#c8c8c8" stroke="#9e9e9e" stroke-width="0.9"/>
<ellipse cx="176.5" cy="24.2" rx="2.0" ry="2.4" fill="#757575"/>
<circle cx="173.0" cy="91.9" r="4.7" fill="#c3c3c3" stroke="#8e8e8e" stroke-width="0.9"/>
<ellipse cx="172.8" cy="92.1" rx="1.5" ry="1.9" fill="#7c7c7c"/>
<circle cx="163.5" cy="81.0" r="5.0" fill="#d2d2d2" stroke="#949494" stroke-width="0.9"/>
<ellipse cx="163.5" cy="81.3" rx="1.6" ry="2.0" fill="#767676"/>
<circle cx="260.8" cy="48.0" r="5.5" fill="#c9c9c9" stroke="#8c8c8c" stroke-width="0.9"/>
<ellipse cx="261.4" cy="48.4" rx="1.8" ry="2.2" fill="#797979"/>
<circle cx="233.2" cy="65.8" r="5.4" fill="#bdbdbd" stroke="#9c9c9c" stroke-width="0.9"/>
<ellipse cx="233.2" cy="65.3" rx="1.8" ry="2.1" fill="#747474"/>
<circle cx="269.2" cy="36.2" r="4.7" fill="#c4c4c4" stroke="#909090" stroke-width="0.9"/>
<ellipse cx="270.0" cy="36.4" rx="1.6" ry="1.9" fill="#888888"/>
<circle cx="213.3" cy="94.5" r="5.9" fill="#c8c8c8" stroke="#979797" stroke-width="0.9"/>
<ellipse cx="212.9" cy="95.2" rx="1.9" ry="2.3" fill="#838383"/>
<circle cx="169.0" cy="60.2" r="5.0" fill="#cbcbcb" stroke="#959595" stroke-width="0.9"/>
<ellipse cx="168.8" cy="59.7" rx="1.7" ry="2.0" fill="#7f7f7f"/>
<circle cx="256.7" cy="40.9" r="5.9" fill="#cdcdcd" stroke="#9d9d9d" stroke-width="0.9"/>
<ellipse cx="257.5" cy="40.4" rx="1.9" ry="2.4" fill="#757575"/>
<circle cx="219.7" cy="94.2" r="5.4" fill="#cacaca" stroke="#939393" stroke-width="0.9"/>
<ellipse cx="219.9" cy="93.8" rx="1.8" ry="2.1" fill="#888888"/>
<circle cx="222.5" cy="106.7" r="4.3" fill="#c0c0c0" stroke="#9a9a9a" stroke-width="0.9"/>
<ellipse cx="222.5" cy="106.6" rx="1.4" ry="1.7" fill="#797979"/>
<circle cx="260.2" cy="37.5" r="6.1" fill="#d0d0d0" stroke="#999999" stroke-width="0.9"/>
<ellipse cx="260.5" cy="36.8" rx="2.0" ry="2.5" fill="#898989"/>
<circle cx="157.8" cy="76.0" r="6.1" fill="#d3d3d3" stroke="#999999" stroke-width="0.9"/>
<ellipse cx="157.3" cy="76.8" rx="2.0" ry="2.4" fill="#7e7e7e"/>
<circle cx="188.6" cy="21.4" r="4.7" fill="#d2d2d2" stroke="#919191" stroke-width="0.9"/>
<ellipse cx="188.3" cy="21.3" rx="1.5" ry="1.9" fill="#767676"/>
<circle cx="233.0" cy="71.5" r="6.2" fill="#c4c4c4" stroke="#979797" stroke-width="0.9"/>
<ellipse cx="233.6" cy="70.9" rx="2.0" ry="2.5" fill="#8a8a8a"/>
<circle cx="230.5" cy="120.5" r="4.4" fill="#c8c8c8" stroke="#8e8e8e" stroke-width="0.9"/>
<ellipse cx="231.2" cy="121.1" rx="1.4" ry="1.7" fill="#7f7f7f"/>
<circle cx="250.0" cy="120.4" r="5.3" fill="#d2d2d2" stroke="#989898" stroke-width="0.9"/>
<ellipse cx="249.2" cy="120.2" rx="1.7" ry="2.1" fill="#7e7e7e"/>
<circle cx="225.1" cy="115.6" r="5.2" fill="#cccccc" stroke="#979797" stroke-width="0.9"/>
<ellipse cx="225.5" cy="116.2" rx="1.7" ry="2.1" fill="#7d7d7d"/>
<circle cx="228.8" cy="21.8" r="5.5" fill="#c3c3c3" stroke="#989898" stroke-width="0.9"/>
<ellipse cx="228.7" cy="22.3" rx="1.8" ry="2.2" fill="#7d7d7d"/>
<circle cx="244.5" cy="23.0" r="4.7" fill="#d0d0d0" stroke="#8e8e8e" stroke-width="0.9"/>
<ellipse cx="244.9" cy="22.3" rx="1.5" ry="1.9" fill="#878787"/>
<circle cx="178.3" cy="71.5" r="5.3" fill="#d2d2d2" stroke="#999999" stroke-width="0.9"/>
<ellipse cx="177.4" cy="71.4" rx="1.8" ry="2.1" fill="#878787"/>
<circle cx="207.2" cy="88.8" r="4.5" fill="#c3c3c3" stroke="#8d8d8d" stroke-width="0.9"/>
<ellipse cx="207.7" cy="89.3" rx="1.5" ry="1.8" fill="#868686"/>
<circle cx="168.8" cy="42.5" r="5.8" fill="#d3d3d3" stroke="#8f8f8f" stroke-width="0.9"/>
<ellipse cx="168.2" cy="42.2" rx="1.9" ry="2.3" fill="#7d7d7d"/>
<circle cx="202.8" cy="103.7" r="4.7" fill="#d4d4d4" stroke="#9d9d9d" stroke-width="0.9"/>
<ellipse cx="202.7" cy="104.5" rx="1.6" ry="1.9" fill="#828282"/>
<circle cx="157.6" cy="45.5" r="4.3" fill="#cdcdcd" stroke="#9b9b9b" stroke-width="0.9"/>
<ellipse cx="158.0" cy="46.2" rx="1.4" ry="1.7" fill="#888888"/>
<circle cx="189.4" cy="103.9" r="5.3" fill="#cfcfcf" stroke="#a0a0a0" stroke-width="0.9"/>
<ellipse cx="190.2" cy="104.1" rx="1.7" ry="2.1" fill="#858585"/>
<circle cx="157.1" cy="45.9" r="4.7" fill="#d1d1d1" stroke="#8f8f8f" stroke-width="0.9"/>
<ellipse cx="156.1" cy="46.8" rx="1.6" ry="1.9" fill="#7f7f7f"/>
<circle cx="195.6" cy="132.9" r="4.2" fill="#c7c7c7" stroke="#959595" stroke-width="0.9"/>
<ellipse cx="194.8" cy="132.7" rx="1.4" ry="1.7" fill="#7f7f7f"/>
<circle cx="170.7" cy="26.4" r="4.5" fill="#c8c8c8" stroke="#909090" stroke-width="0.9"/>
<ellipse cx="171.6" cy="26.6" rx="1.5" ry="1.8" fill="#828282"/>
<circle cx="209.2" cy="33.3" r="5.1" fill="#d5d5d5" stroke="#919191" stroke-width="0.9"/>
<ellipse cx="208.3" cy="33.9" rx="1.7" ry="2.0" fill="#787878"/>
<circle cx="161.9" cy="28.7" r="5.8" fill="#cccccc" stroke="#8e8e8e" stroke-width="0.9"/>
<ellipse cx="161.7" cy="28.9" rx="1.9" ry="2.3" fill="#7a7a7a"/>
<circle cx="213.4" cy="57.5" r="5.2" fill="#c5c5c5" stroke="#959595" stroke-width="0.9"/>
<ellipse cx="213.3" cy="58.0" rx="1.7" ry="2.1" fill="#797979"/>
<circle cx="207.2" cy="68.2" r="5.5" fill="#cbcbcb" stroke="#9d9d9d" stroke-width="0.9"/>
<ellipse cx="206.6" cy="68.4" rx="1.8" ry="2.2" fill="#7c7c7c"/>
<circle cx="221.0" cy="96.3" r="5.9" fill="#c3c3c3" stroke="#8e8e8e" stroke-width="0.9"/>
<ellipse cx="220.9" cy="96.7" rx="2.0" ry="2.4" fill="#828282"/>
<circle cx="168.2" cy="85.8" r="5.9" fill="#cccccc" stroke="#9f9f9f" stroke-width="0.9"/>
<ellipse cx="167.8" cy="85.2" rx="1.9" ry="2.4" fill="#777777"/>
<circle cx="234.3" cy="31.0" r="4.7" fill="#cdcdcd" stroke="#8d8d8d" stroke-width="0.9"/>
<ellipse cx="234.8" cy="31.1" rx="1.5" ry="1.9" fill="#828282"/>
<circle cx="217.0" cy="136.3" r="5.9" fill="#cccccc" stroke="#9f9f9f" stroke-width="0.9"/>
<ellipse cx="216.1" cy="136.7" rx="1.9" ry="2.4" fill="#828282"/>
<circle cx="232.3" cy="120.2" r="5.1" fill="#c6c6c6" stroke="#999999" stroke-width="0.9"/>
<ellipse cx="233.3" cy="121.1" rx="1.7" ry="2.0" fill="#747474"/>
<circle cx="218.0" cy="121.8" r="5.8" fill="#c9c9c9" stroke="#9a9a9a" stroke-width="0.9"/>
<ellipse cx="217.6" cy="122.6" rx="1.9" ry="2.3" fill="#787878"/>
<circle cx="170.2" cy="48.4" r="4.5" fill="#cccccc" stroke="#979797" stroke-width="0.9"/>
<ellipse cx="169.6" cy="48.1" rx="1.5" ry="1.8" fill="#8b8b8b"/>
<circle cx="216.9" cy="126.1" r="5.7" fill="#c6c6c6" stroke="#939393" stroke-width="0.9"/>
<ellipse cx="217.0" cy="125.3" rx="1.9" ry="2.3" fill="#818181"/>
<circle cx="166.1" cy="38.4" r="5.1" fill="#d3d3d3" stroke="#9e9e9e" stroke-width="0.9"/>
<ellipse cx="166.3" cy="39.0" rx="1.7" ry="2.0" fill="#8c8c8c"/>
<circle cx="175.2" cy="62.8" r="5.4" fill="#cfcfcf" stroke="#a0a0a0" stroke-width="0.9"/>
<ellipse cx="175.3" cy="63.6" rx="1.8" ry="2.1" fill="#747474"/>
<circle cx="153.5" cy="112.7" r="4.6" fill="#cccccc" stroke="#959595" stroke-width="0.9"/>
<ellipse cx="153.7" cy="113.2" rx="1.5" ry="1.8" fill="#7e7e7e"/>
<circle cx="270.4" cy="101.8" r="5.8" fill="#d4d4d4" stroke="#949494" stroke-width="0.9"/>
<ellipse cx="270.8" cy="102.2" rx="1.9" ry="2.3" fill="#7e7e7e"/>
<circle cx="152.5" cy="22.5" r="5.7" fill="#d1d1d1" stroke="#9a9a9a" stroke-width="0.9"/>
<ellipse cx="151.7" cy="22.6" rx="1.9" ry="2.3" fill="#7f7f7f"/>
<circle cx="156.9" cy="79.9" r="5.1" fill="#cccccc" stroke="#989898" stroke-width="0.9"/>
<ellipse cx="156.0" cy="79.4" rx="1.7" ry="2.1" fill="#7b7b7b"/>
<circle cx="153.7" cy="114.7" r="4.3" fill="#d3d3d3" stroke="#9a9a9a" stroke-width="0.9"/>
<ellipse cx="153.9" cy="114.3" rx="1.4" ry="1.7" fill="#888888"/>
<circle cx="277.3" cy="114.4" r="5.0" fill="#d0d0d0" stroke="#919191" stroke-width="0.9"/>
<ellipse cx="278.0" cy="114.6" rx="1.7" ry="2.0" fill="#787878"/>
<circle cx="224.6" cy="82.0" r="5.4" fill="#b8b8b8" stroke="#9f9f9f" stroke-width="0.9"/>
<ellipse cx="224.6" cy="81.5" rx="1.8" ry="2.2" fill="#7b7b7b"/>
<circle cx="243.3" cy="23.2" r="4.3" fill="#cacaca" stroke="#989898" stroke-width="0.9"/>
<ellipse cx="242.4" cy="23.9" rx="1.4" ry="1.7" fill="#808080"/>
<circle cx="193.7" cy="99.4" r="5.8" fill="#c7c7c7" stroke="#909090" stroke-width="0.9"/>
<ellipse cx="192.9" cy="99.2" rx="1.9" ry="2.3" fill="#858585"/>
<circle cx="278.2" cy="20.6" r="4.5" fill="#c6c6c6" stroke="#8f8f8f" stroke-width="0.9"/>
<ellipse cx="279.1" cy="20.5" rx="1.5" ry="1.8" fill="#838383"/>
<circle cx="162.7" cy="77.8" r="6.1" fill="#c3c3c3" stroke="#949494" stroke-width="0.9"/>
<ellipse cx="162.1" cy="78.7" rx="2.0" ry="2.5" fill="#8c8c8c"/>
<circle cx="181.1" cy="107.5" r="6.0" fill="#d3d3d3" stroke="#959595" stroke-width="0.9"/>
<ellipse cx="181.4" cy="107.6" rx="2.0" ry="2.4" fill="#7d7d7d"/>
<circle cx="181.6" cy="127.6" r="4.2" fill="#d0d0d0" stroke="#959595" stroke-width="0.9"/>
<ellipse cx="182.4" cy="127.8" rx="1.4" ry="1.7" fill="#838383"/>
<circle cx="210.8" cy="44.7" r="5.9" fill="#d5d5d5" stroke="#9e9e9e" stroke-width="0.9"/>
<ellipse cx="211.6" cy="45.5" rx="2.0" ry="2.4" fill="#7f7f7f"/>
<circle cx="237.2" cy="59.2" r="5.4" fill="#cbcbcb" stroke="#a0a0a0" stroke-width="0.9"/>
<ellipse cx="237.4" cy="59.9" rx="1.8" ry="2.2" fill="#868686"/>
<circle cx="265.9" cy="108.1" r="4.6" fill="#cdcdcd" stroke="#9d9d9d" stroke-width="0.9"/>
<ellipse cx="266.6" cy="107.7" rx="1.5" ry="1.8" fill="#767676"/>
<circle cx="203.9" cy="80.6" r="5.3" fill="#c5c5c5" stroke="#9d9d9d" stroke-width="0.9"/>
<ellipse cx="204.4" cy="80.0" rx="1.7" ry="2.1" fill="#808080"/>
<circle cx="155.0" cy="29.4" r="5.8" fill="#c4c4c4" stroke="#989898" stroke-width="0.9"/>
<ellipse cx="154.2" cy="29.7" rx="1.9" ry="2.3" fill="#797979"/>
<circle cx="225.4" cy="120.8" r="4.6" fill="#c4c4c4" stroke="#8f8f8f" stroke-width="0.9"/>
<ellipse cx="225.5" cy="119.9" rx="1.5" ry="1.8" fill="#7c7c7c"/>
<circle cx="277.5" cy="66.1" r="4.6" fill="#cdcdcd" stroke="#8f8f8f" stroke-width="0.9"/>
<ellipse cx="278.2" cy="65.2" rx="1.5" ry="1.9" fill="#7b7b7b"/>
<circle cx="175.7" cy="22.1" r="5.1" fill="#cecece" stroke="#8e8e8e" stroke-width="0.9"/>
<ellipse cx="175.2" cy="21.7" rx="1.7" ry="2.0" fill="#777777"/>
<circle cx="241.7" cy="61.3" r="4.5" fill="#c6c6c6" stroke="#9d9d9d" stroke-width="0.9"/>
<ellipse cx="241.2" cy="60.6" rx="1.5" ry="1.8" fill="#767676"/>
<circle cx="200.1" cy="106.8" r="5.1" fill="#c4c4c4" stroke="#a0a0a0" stroke-width="0.9"/>
<ellipse cx="200.9" cy="106.1" rx="1.7" ry="2.1" fill="#828282"/>
<circle cx="278.0" cy="52.9" r="5.7" fill="#d2d2d2" stroke="#939393" stroke-width="0.9"/>
<ellipse cx="278.4" cy="53.8" rx="1.9" ry="2.3" fill="#777777"/>
<circle cx="231.4" cy="97.4" r="5.7" fill="#b9b9b9" stroke="#9d9d9d" stroke-width="0.9"/>
<ellipse cx="232.0" cy="98.3" rx="1.9" ry="2.3" fill="#808080"/>
<circle cx="155.4" cy="26.2" r="5.2" fill="#c4c4c4" stroke="#8d8d8d" stroke-width="0.9"/>
<ellipse cx="155.0" cy="26.3" rx="1.7" ry="2.1" fill="#818181"/>
<circle cx="264.1" cy="69.4" r="5.7" fill="#c7c7c7" stroke="#8c8c8c" stroke-width="0.9"/>
<ellipse cx="263.4" cy="69.4" rx="1.9" ry="2.3" fill="#828282"/>
<circle cx="249.7" cy="108.0" r="6.0" fill="#d0d0d0" stroke="#9a9a9a" stroke-width="0.9"/>
<ellipse cx="250.5" cy="108.3" rx="2.0" ry="2.4" fill="#7e7e7e"/>
<circle cx="211.9" cy="88.1" r="5.6" fill="#c5c5c5" stroke="#8d8d8d" stroke-width="0.9"/>
<ellipse cx="211.3" cy="87.3" rx="1.8" ry="2.2" fill="#777777"/>
<circle cx="160.1" cy="84.7" r="6.1" fill="#cbcbcb" stroke="#989898" stroke-width="0.9"/>
<ellipse cx="161.0" cy="83.8" rx="2.0" ry="2.4" fill="#767676"/>
<circle cx="169.5" cy="131.7" r="6.1" fill="#c8c8c8" stroke="#919191" stroke-width="0.9"/>
<ellipse cx="169.1" cy="131.9" rx="2.0" ry="2.5" fill="#8a8a8a"/>
<circle cx="256.1" cy="25.3" r="5.4" fill="#c3c3c3" stroke="#8f8f8f" stroke-width="0.9"/>
<ellipse cx="256.3" cy="25.0" rx="1.8" ry="2.2" fill="#7f7f7f"/>
<circle cx="206.4" cy="121.4" r="5.7" fill="#cbcbcb" stroke="#8c8c8c" stroke-width="0.9"/>
<ellipse cx="205.9" cy="120.5" rx="1.9" ry="2.3" fill="#7a7a7a"/>
<circle cx="243.8" cy="103.8" r="6.2" fill="#bebebe" stroke="#969696" stroke-width="0.9"/>
<ellipse cx="244.8" cy="103.1" rx="2.0" ry="2.5" fill="#818181"/>
<circle cx="270.1" cy="61.7" r="4.7" fill="#cfcfcf" stroke="#9a9a9a" stroke-width="0.9"/>
<ellipse cx="269.8" cy="61.0" rx="1.5" ry="1.9" fill="#7c7c7c"/>
<circle cx="204.1" cy="118.2" r="4.9" fill="#c6c6c6" stroke="#979797" stroke-width="0.9"/>
<ellipse cx="204.0" cy="118.7" rx="1.6" ry="2.0" fill="#7f7f7f"/>
<circle cx="268.5" cy="118.7" r="5.0" fill="#d1d1d1" stroke="#969696" stroke-width="0.9"/>
<ellipse cx="267.9" cy="119.2" rx="1.7" ry="2.0" fill="#787878"/>
<circle cx="228.4" cy="27.6" r="4.7" fill="#d1d1d1" stroke="#9b9b9b" stroke-width="0.9"/>
<ellipse cx="229.4" cy="28.0" rx="1.5" ry="1.9" fill="#888888"/>
<circle cx="269.3" cy="42.9" r="5.1" fill="#c5c5c5" stroke="#9e9e9e" stroke-width="0.9"/>
<ellipse cx="269.5" cy="42.0" rx="1.7" ry="2.0" fill="#868686"/>
<circle cx="272.9" cy="121.4" r="5.1" fill="#c7c7c7" stroke="#a0a0a0" stroke-width="0.9"/>
<ellipse cx="272.7" cy="121.2" rx="1.7" ry="2.0" fill="#7a7a7a"/>
<circle cx="263.9" cy="66.0" r="6.0" fill="#cacaca" stroke="#9d9d9d" stroke-width="0.9"/>
<ellipse cx="263.1" cy="65.6" rx="2.0" ry="2.4" fill="#888888"/>
<circle cx="274.0" cy="50.4" r="5.4" fill="#c9c9c9" stroke="#959595" stroke-width="0.9"/>
<ellipse cx="274.7" cy="50.9" rx="1.8" ry="2.2" fill="#8b8b8b"/>
<circle cx="171.4" cy="71.7" r="6.0" fill="#c6c6c6" stroke="#9e9e9e" stroke-width="0.9"/>
<ellipse cx="172.2" cy="71.1" rx="2.0" ry="2.4" fill="#848484"/>
<circle cx="249.3" cy="67.5" r="4.3" fill="#c0c0c0" stroke="#9d9d9d" stroke-width="0.9"/>
<ellipse cx="248.7" cy="68.2" rx="1.4" ry="1.7" fill="#868686"/>
<circle cx="211.1" cy="119.5" r="5.4" fill="#c6c6c6" stroke="#9c9c9c" stroke-width="0.9"/>
<ellipse cx="210.7" cy="119.3" rx="1.8" ry="2.1" fill="#8b8b8b"/>
<circle cx="219.5" cy="107.5" r="5.6" fill="#d2d2d2" stroke="#8c8c8c" stroke-width="0.9"/>
<ellipse cx="219.8" cy="108.2" rx="1.9" ry="2.2" fill="#7b7b7b"/>
<circle cx="269.0" cy="108.2" r="6.1" fill="#c3c3c3" stroke="#9b9b9b" stroke-width="0.9"/>
<ellipse cx="268.2" cy="107.5" rx="2.0" ry="2.4" fill="#838383"/>
<circle cx="158.7" cy="128.2" r="5.8" fill="#d2d2d2" stroke="#9e9e9e" stroke-width="0.9"/>
<ellipse cx="157.7" cy="127.5" rx="1.9" ry="2.3" fill="#858585"/>
<circle cx="203.3" cy="25.6" r="4.8" fill="#d3d3d3" stroke="#9d9d9d" stroke-width="0.9"/>
<ellipse cx="202.6" cy="26.6" rx="1.6" ry="1.9" fill="#797979"/>
<circle cx="245.0" cy="106.3" r="5.2" fill="#c8c8c8" stroke="#9e9e9e" stroke-width="0.9"/>
<ellipse cx="244.6" cy="105.5" rx="1.7" ry="2.1" fill="#848484"/>
<circle cx="153.7" cy="47.9" r="4.6" fill="#cfcfcf" stroke="#9b9b9b" stroke-width="0.9"/>
<ellipse cx="153.4" cy="48.5" rx="1.5" ry="1.8" fill="#7d7d7d"/>
<circle cx="200.3" cy="100.4" r="5.4" fill="#cccccc" stroke="#8e8e8e" stroke-width="0.9"/>
<ellipse cx="201.3" cy="100.4" rx="1.8" ry="2.2" fill="#858585"/>
<circle cx="230.0" cy="80.6" r="5.9" fill="#b2b2b2" stroke="#969696" stroke-width="0.9"/>
<ellipse cx="230.6" cy="80.3" rx="2.0" ry="2.4" fill="#868686"/>
<circle cx="164.9" cy="136.4" r="4.8" fill="#c4c4c4" stroke="#969696" stroke-width="0.9"/>
<ellipse cx="164.7" cy="136.6" rx="1.6" ry="1.9" fill="#7d7d7d"/>
<circle cx="243.6" cy="108.6" r="4.4" fill="#c2c2c2" stroke="#9d9d9d" stroke-width="0.9"/>
<ellipse cx="244.6" cy="108.0" rx="1.5" ry="1.8" fill="#858585"/>
<circle cx="176.0" cy="26.9" r="5.6" fill="#cccccc" stroke="#9f9f9f" stroke-width="0.9"/>
<ellipse cx="176.7" cy="26.0" rx="1.9" ry="2.2" fill="#7b7b7b"/>
<circle cx="249.7" cy="72.9" r="5.3" fill="#c4c4c4" stroke="#9c9c9c" stroke-width="0.9"/>
<ellipse cx="249.2" cy="73.4" rx="1.7" ry="2.1" fill="#7c7c7c"/>
<circle cx="180.1" cy="27.5" r="4.9" fill="#cccccc" stroke="#a0a0a0" stroke-width="0.9"/>
<ellipse cx="179.9" cy="26.7" rx="1.6" ry="2.0" fill="#808080"/>
<circle cx="174.3" cy="90.0" r="5.2" fill="#d4d4d4" stroke="#929292" stroke-width="0.9"/>
<ellipse cx="174.2" cy="89.8" rx="1.7" ry="2.1" fill="#8b8b8b"/>
<circle cx="175.4" cy="62.6" r="4.4" fill="#c5c5c5" stroke="#9c9c9c" stroke-width="0.9"/>
<ellipse cx="174.9" cy="61.9" rx="1.5" ry="1.8" fill="#868686"/>
<circle cx="244.1" cy="71.3" r="4.2" fill="#c6c6c6" stroke="#969696" stroke-width="0.9"/>
<ellipse cx="244.5" cy="70.9" rx="1.4" ry="1.7" fill="#757575"/>
<circle cx="210.7" cy="68.0" r="4.5" fill="#d1d1d1" stroke="#949494" stroke-width="0.9"/>
<ellipse cx="210.2" cy="67.6" rx="1.5" ry="1.8" fill="#7f7f7f"/>
<circle cx="169.6" cy="32.4" r="6.2" fill="#c5c5c5" stroke="#989898" stroke-width="0.9"/>
<ellipse cx="170.0" cy="32.9" rx="2.0" ry="2.5" fill="#888888"/>
<circle cx="177.9" cy="79.1" r="5.1" fill="#c6c6c6" stroke="#8c8c8c" stroke-width="0.9"/>
<ellipse cx="178.0" cy="79.1" rx="1.7" ry="2.0" fill="#7c7c7c"/>
<circle cx="234.9" cy="29.5" r="4.9" fill="#d5d5d5" stroke="#969696" stroke-width="0.9"/>
<ellipse cx="235.3" cy="30.2" rx="1.6" ry="2.0" fill="#7e7e7e"/>
<circle cx="161.8" cy="75.7" r="4.6" fill="#d3d3d3" stroke="#9d9d9d" stroke-width="0.9"/>
<ellipse cx="162.5" cy="76.6" rx="1.5" ry="1.8" fill="#757575"/>
<circle cx="260.4" cy="113.7" r="4.7" fill="#c4c4c4" stroke="#929292" stroke-width="0.9"/>
<ellipse cx="260.1" cy="113.2" rx="1.6" ry="1.9" fill="#838383"/>
<circle cx="265.9" cy="33.5" r="5.3" fill="#cecece" stroke="#949494" stroke-width="0.9"/>
<ellipse cx="266.4" cy="32.8" rx="1.7" ry="2.1" fill="#8a8a8a"/>
<circle cx="269.2" cy="67.8" r="6.1" fill="#c8c8c8" stroke="#8e8e8e" stroke-width="0.9"/>
<ellipse cx="268.7" cy="68.7" rx="2.0" ry="2.5" fill="#7e7e7e"/>
<circle cx="237.6" cy="70.4" r="5.4" fill="#c4c4c4" stroke="#999999" stroke-width="0.9"/>
<ellipse cx="237.2" cy="70.8" rx="1.8" ry="2.1" fill="#868686"/>
<circle cx="273.9" cy="134.1" r="5.8" fill="#d0d0d0" stroke="#979797" stroke-width="0.9"/>
<ellipse cx="274.4" cy="134.7" rx="1.9" ry="2.3" fill="#787878"/>
<circle cx="270.2" cy="31.9" r="6.0" fill="#c9c9c9" stroke="#8f8f8f" stroke-width="0.9"/>
<ellipse cx="270.2" cy="31.0" rx="2.0" ry="2.4" fill="#818181"/>
<circle cx="182.1" cy="101.2" r="6.0" fill="#cacaca" stroke="#949494" stroke-width="0.9"/>
<ellipse cx="181.2" cy="101.0" rx="2.0" ry="2.4" fill="#797979"/>
<circle cx="267.3" cy="51.6" r="5.4" fill="#c4c4c4" stroke="#949494" stroke-width="0.9"/>
<ellipse cx="267.4" cy="51.8" rx="1.8" ry="2.2" fill="#8b8b8b"/>
<circle cx="276.1" cy="72.2" r="4.4" fill="#c6c6c6" stroke="#9d9d9d" stroke-width="0.9"/>
<ellipse cx="275.6" cy="72.9" rx="1.5" ry="1.8" fill="#787878"/>
<circle cx="155.8" cy="70.0" r="6.2" fill="#d0d0d0" stroke="#8c8c8c" stroke-width="0.9"/>
<ellipse cx="156.0" cy="70.3" rx="2.0" ry="2.5" fill="#828282"/>
<circle cx="226.3" cy="131.7" r="5.5" fill="#c8c8c8" stroke="#949494" stroke-width="0.9"/>
<ellipse cx="225.5" cy="132.0" rx="1.8" ry="2.2" fill="#767676"/>
<circle cx="270.8" cy="106.7" r="6.0" fill="#c7c7c7" stroke="#949494" stroke-width="0.9"/>
<ellipse cx="270.0" cy="105.8" rx="2.0" ry="2.4" fill="#797979"/>
<circle cx="245.3" cy="118.8" r="5.8" fill="#c9c9c9" stroke="#949494" stroke-width="0.9"/>
<ellipse cx="246.0" cy="118.0" rx="1.9" ry="2.3" fill="#757575"/>
<circle cx="167.6" cy="24.7" r="5.4" fill="#c4c4c4" stroke="#8c8c8c" stroke-width="0.9"/>
<ellipse cx="167.8" cy="24.3" rx="1.8" ry="2.1" fill="#8a8a8a"/>
<circle cx="199.4" cy="121.0" r="4.4" fill="#d4d4d4" stroke="#9e9e9e" stroke-width="0.9"/>
<ellipse cx="199.2" cy="120.4" rx="1.4" ry="1.7" fill="#7c7c7c"/>
<circle cx="218.9" cy="80.4" r="5.1" fill="#bebebe" stroke="#919191" stroke-width="0.9"/>
<ellipse cx="219.8" cy="80.5" rx="1.7" ry="2.0" fill="#868686"/>
<circle cx="164.9" cy="85.5" r="4.6" fill="#d2d2d2" stroke="#9b9b9b" stroke-width="0.9"/>
<ellipse cx="165.0" cy="84.9" rx="1.5" ry="1.8" fill="#8c8c8c"/>
<circle cx="222.9" cy="87.0" r="4.6" fill="#c3c3c3" stroke="#8e8e8e" stroke-width="0.9"/>
<ellipse cx="222.8" cy="86.1" rx="1.5" ry="1.8" fill="#858585"/>
<circle cx="168.3" cy="79.4" r="4.6" fill="#d3d3d3" stroke="#929292" stroke-width="0.9"/>
<ellipse cx="168.4" cy="79.4" rx="1.5" ry="1.8" fill="#898989"/>
<circle cx="259.9" cy="48.3" r="5.7" fill="#c4c4c4" stroke="#969696" stroke-width="0.9"/>
<ellipse cx="259.7" cy="48.2" rx="1.9" ry="2.3" fill="#8b8b8b"/>
<circle cx="158.6" cy="93.4" r="4.5" fill="#cecece" stroke="#8f8f8f" stroke-width="0.9"/>
<ellipse cx="158.9" cy="93.5" rx="1.5" ry="1.8" fill="#858585"/>
<circle cx="156.5" cy="32.7" r="5.2" fill="#d0d0d0" stroke="#979797" stroke-width="0.9"/>
<ellipse cx="156.0" cy="32.3" rx="1.7" ry="2.1" fill="#787878"/>
<circle cx="234.2" cy="73.1" r="5.1" fill="#b8b8b8" stroke="#979797" stroke-width="0.9"/>
<ellipse cx="233.4" cy="72.6" rx="1.7" ry="2.0" fill="#8c8c8c"/>
<circle cx="243.1" cy="74.0" r="4.6" fill="#bebebe" stroke="#909090" stroke-width="0.9"/>
<ellipse cx="243.7" cy="73.9" rx="1.5" ry="1.8" fill="#757575"/>
<circle cx="191.5" cy="128.1" r="4.6" fill="#cfcfcf" stroke="#949494" stroke-width="0.9"/>
<ellipse cx="190.9" cy="127.3" rx="1.5" ry="1.8" fill="#888888"/>
<circle cx="256.2" cy="118.6" r="5.7" fill="#d1d1d1" stroke="#9f9f9f" stroke-width="0.9"/>
<ellipse cx="256.8" cy="119.1" rx="1.9" ry="2.3" fill="#858585"/>
<circle cx="243.4" cy="20.7" r="4.7" fill="#cdcdcd" stroke="#8e8e8e" stroke-width="0.9"/>
<ellipse cx="244.0" cy="19.7" rx="1.5" ry="1.9" fill="#898989"/>
<circle cx="275.2" cy="108.1" r="6.2" fill="#d2d2d2" stroke="#969696" stroke-width="0.9"/>
<ellipse cx="274.5" cy="108.2" rx="2.0" ry="2.5" fill="#898989"/>
<circle cx="234.5" cy="117.7" r="4.2" fill="#c4c4c4" stroke="#9a9a9a" stroke-width="0.9"/>
<ellipse cx="234.2" cy="116.7" rx="1.4" ry="1.7" fill="#7c7c7c"/>
<circle cx="191.9" cy="135.2" r="5.0" fill="#d4d4d4" stroke="#959595" stroke-width="0.9"/>
<ellipse cx="191.8" cy="134.8" rx="1.7" ry="2.0" fill="#787878"/>
<circle cx="208.7" cy="113.2" r="5.7" fill="#c5c5c5" stroke="#949494" stroke-width="0.9"/>
<ellipse cx="209.0" cy="113.2" rx="1.9" ry="2.3" fill="#8c8c8c"/>
<circle cx="275.4" cy="126.0" r="4.9" fill="#cdcdcd" stroke="#969696" stroke-width="0.9"/>
<ellipse cx="275.4" cy="125.2" rx="1.6" ry="1.9" fill="#777777"/>
<circle cx="259.1" cy="126.7" r="6.1" fill="#c7c7c7" stroke="#9f9f9f" stroke-width="0.9"/>
<ellipse cx="258.1" cy="126.1" rx="2.0" ry="2.4" fill="#838383"/>
<circle cx="219.2" cy="97.3" r="5.4" fill="#cbcbcb" stroke="#969696" stroke-width="0.9"/>
<ellipse cx="219.7" cy="97.3" rx="1.8" ry="2.2" fill="#868686"/>
<circle cx="225.0" cy="114.0" r="4.8" fill="#cacaca" stroke="#9b9b9b" stroke-width="0.9"/>
<ellipse cx="225.0" cy="113.1" rx="1.6" ry="1.9" fill="#767676"/>
<circle cx="216.4" cy="127.4" r="5.9" fill="#d4d4d4" stroke="#8f8f8f" stroke-width="0.9"/>
<ellipse cx="217.1" cy="126.9" rx="2.0" ry="2.4" fill="#8a8a8a"/>
<circle cx="159.7" cy="127.2" r="5.5" fill="#d2d2d2" stroke="#919191" stroke-width="0.9"/>
<ellipse cx="160.3" cy="126.8" rx="1.8" ry="2.2" fill="#898989"/>
<circle cx="207.3" cy="121.8" r="4.3" fill="#d4d4d4" stroke="#979797" stroke-width="0.9"/>
<ellipse cx="207.9" cy="122.6" rx="1.4" ry="1.7" fill="#7a7a7a"/>
<circle cx="223.0" cy="84.7" r="5.5" fill="#b7b7b7" stroke="#9c9c9c" stroke-width="0.9"/>
<ellipse cx="223.3" cy="85.1" rx="1.8" ry="2.2" fill="#7f7f7f"/>
<circle cx="265.6" cy="103.0" r="4.5" fill="#c9c9c9" stroke="#9d9d9d" stroke-width="0.9"/>
<ellipse cx="264.8" cy="103.9" rx="1.5" ry="1.8" fill="#7f7f7f"/>
<circle cx="239.7" cy="109.0" r="5.9" fill="#c4c4c4" stroke="#8f8f8f" stroke-width="0.9"/>
<ellipse cx="238.7" cy="108.3" rx="1.9" ry="2.4" fill="#7a7a7a"/>
<circle cx="179.3" cy="48.4" r="4.7" fill="#c9c9c9" stroke="#909090" stroke-width="0.9"/>
<ellipse cx="180.0" cy="47.6" rx="1.5" ry="1.9" fill="#787878"/>
<circle cx="212.2" cy="34.8" r="4.7" fill="#c7c7c7" stroke="#959595" stroke-width="0.9"/>
<ellipse cx="211.3" cy="35.6" rx="1.5" ry="1.9" fill="#7f7f7f"/>
<circle cx="255.8" cy="101.0" r="4.8" fill="#d1d1d1" stroke="#a0a0a0" stroke-width="0.9"/>
<ellipse cx="255.5" cy="100.5" rx="1.6" ry="1.9" fill="#757575"/>
<circle cx="269.1" cy="102.8" r="5.8" fill="#c6c6c6" stroke="#909090" stroke-width="0.9"/>
<ellipse cx="269.6" cy="102.8" rx="1.9" ry="2.3" fill="#7d7d7d"/>
<circle cx="274.8" cy="25.6" r="4.6" fill="#d5d5d5" stroke="#8f8f8f" stroke-width="0.9"/>
<ellipse cx="274.7" cy="25.4" rx="1.5" ry="1.9" fill="#878787"/>
<circle cx="254.1" cy="36.3" r="4.4" fill="#c5c5c5" stroke="#9c9c9c" stroke-width="0.9"/>
<ellipse cx="254.4" cy="37.2" rx="1.5" ry="1.8" fill="#838383"/>
<circle cx="167.5" cy="30.3" r="5.7" fill="#c9c9c9" stroke="#9e9e9e" stroke-width="0.9"/>
<ellipse cx="167.5" cy="30.6" rx="1.9" ry="2.3" fill="#8b8b8b"/>
<circle cx="233.7" cy="66.3" r="5.4" fill="#c2c2c2" stroke="#9a9a9a" stroke-width="0.9"/>
<ellipse cx="234.2" cy="65.9" rx="1.8" ry="2.2" fill="#888888"/>
<circle cx="270.1" cy="19.7" r="5.3" fill="#cecece" stroke="#8f8f8f" stroke-width="0.9"/>
<ellipse cx="270.7" cy="19.4" rx="1.8" ry="2.1" fill="#858585"/>
<circle cx="219.8" cy="36.0" r="4.6" fill="#cbcbcb" stroke="#8e8e8e" stroke-width="0.9"/>
<ellipse cx="219.0" cy="35.4" rx="1.5" ry="1.8" fill="#767676"/>
<circle cx="204.1" cy="34.8" r="5.8" fill="#cfcfcf" stroke="#9b9b9b" stroke-width="0.9"/>
<ellipse cx="204.7" cy="34.6" rx="1.9" ry="2.3" fill="#797979"/>
<circle cx="277.3" cy="79.5" r="4.8" fill="#c4c4c4" stroke="#949494" stroke-width="0.9"/>
<ellipse cx="278.2" cy="79.7" rx="1.6" ry="1.9" fill="#848484"/>
<circle cx="255.0" cy="35.2" r="5.8" fill="#d2d2d2" stroke="#9a9a9a" stroke-width="0.9"/>
<ellipse cx="255.0" cy="34.5" rx="1.9" ry="2.3" fill="#858585"/>
<circle cx="229.4" cy="67.4" r="4.9" fill="#c3c3c3" stroke="#9e9e9e" stroke-width="0.9"/>
<ellipse cx="229.5" cy="67.6" rx="1.6" ry="2.0" fill="#848484"/>
<circle cx="223.3" cy="102.8" r="5.6" fill="#bdbdbd" stroke="#929292" stroke-width="0.9"/>
<ellipse cx="222.3" cy="103.4" rx="1.8" ry="2.2" fill="#838383"/>
<circle cx="233.3" cy="20.2" r="5.4" fill="#c4c4c4" stroke="#8d8d8d" stroke-width="0.9"/>
<ellipse cx="233.7" cy="20.5" rx="1.8" ry="2.2" fill="#767676"/>
<circle cx="255.1" cy="75.1" r="6.0" fill="#cecece" stroke="#8c8c8c" stroke-width="0.9"/>
<ellipse cx="254.2" cy="74.7" rx="2.0" ry="2.4" fill="#797979"/>
<circle cx="181.0" cy="46.4" r="4.4" fill="#d4d4d4" stroke="#979797" stroke-width="0.9"/>
<ellipse cx="181.0" cy="46.5" rx="1.4" ry="1.8" fill="#797979"/>
<circle cx="228.9" cy="105.1" r="5.1" fill="#bababa" stroke="#969696" stroke-width="0.9"/>
<ellipse cx="228.0" cy="105.4" rx="1.7" ry="2.0" fill="#858585"/>
<circle cx="240.4" cy="86.3" r="6.1" fill="#aeaeae" stroke="#9e9e9e" stroke-width="0.9"/>
<ellipse cx="240.1" cy="86.2" rx="2.0" ry="2.5" fill="#858585"/>
<circle cx="180.1" cy="111.3" r="4.9" fill="#cbcbcb" stroke="#949494" stroke-width="0.9"/>
<ellipse cx="179.1" cy="110.7" rx="1.6" ry="1.9" fill="#797979"/>
<circle cx="178.0" cy="34.9" r="5.5" fill="#d1d1d1" stroke="#8d8d8d" stroke-width="0.9"/>
<ellipse cx="178.9" cy="34.9" rx="1.8" ry="2.2" fill="#767676"/>
<circle cx="155.1" cy="94.0" r="4.6" fill="#d3d3d3" stroke="#9f9f9f" stroke-width="0.9"/>
<ellipse cx="156.0" cy="95.0" rx="1.5" ry="1.8" fill="#888888"/>
<circle cx="200.5" cy="72.8" r="5.3" fill="#c5c5c5" stroke="#8e8e8e" stroke-width="0.9"/>
<ellipse cx="200.7" cy="72.7" rx="1.8" ry="2.1" fill="#8c8c8c"/>
<circle cx="208.0" cy="83.7" r="6.1" fill="#d2d2d2" stroke="#9a9a9a" stroke-width="0.9"/>
<ellipse cx="207.4" cy="83.8" rx="2.0" ry="2.4" fill="#808080"/>
<circle cx="228.6" cy="72.5" r="6.2" fill="#c6c6c6" stroke="#9c9c9c" stroke-width="0.9"/>
<ellipse cx="228.9" cy="73.1" rx="2.0" ry="2.5" fill="#757575"/>
<circle cx="188.7" cy="109.2" r="4.8" fill="#c4c4c4" stroke="#9c9c9c" stroke-width="0.9"/>
<ellipse cx="188.4" cy="108.6" rx="1.6" ry="1.9" fill="#868686"/>
<circle cx="220.7" cy="102.5" r="4.8" fill="#c0c0c0" stroke="#929292" stroke-width="0.9"/>
<ellipse cx="220.4" cy="103.0" rx="1.6" ry="1.9" fill="#868686"/>
<circle cx="170.2" cy="29.6" r="5.6" fill="#d0d0d0" stroke="#9e9e9e" stroke-width="0.9"/>
<ellipse cx="169.3" cy="29.6" rx="1.8" ry="2.2" fill="#888888"/>
<circle cx="166.2" cy="37.6" r="4.3" fill="#cfcfcf" stroke="#989898" stroke-width="0.9"/>
<ellipse cx="165.3" cy="38.2" rx="1.4" ry="1.7" fill="#797979"/>
<circle cx="242.9" cy="119.5" r="6.1" fill="#cacaca" stroke="#8f8f8f" stroke-width="0.9"/>
<ellipse cx="243.2" cy="120.3" rx="2.0" ry="2.4" fill="#787878"/>
<circle cx="154.0" cy="66.6" r="4.3" fill="#cecece" stroke="#929292" stroke-width="0.9"/>
<ellipse cx="154.2" cy="66.6" rx="1.4" ry="1.7" fill="#777777"/>
<circle cx="184.4" cy="116.0" r="5.8" fill="#c3c3c3" stroke="#9d9d9d" stroke-width="0.9"/>
<ellipse cx="184.3" cy="116.4" rx="1.9" ry="2.3" fill="#898989"/>
<circle cx="247.2" cy="48.4" r="5.0" fill="#d1d1d1" stroke="#9d9d9d" stroke-width="0.9"/>
<ellipse cx="247.4" cy="48.1" rx="1.6" ry="2.0" fill="#828282"/>
<circle cx="207.8" cy="56.6" r="5.2" fill="#cccccc" stroke="#969696" stroke-width="0.9"/>
<ellipse cx="206.8" cy="55.8" rx="1.7" ry="2.1" fill="#7c7c7c"/>
<circle cx="262.7" cy="60.1" r="6.1" fill="#cacaca" stroke="#a0a0a0" stroke-width="0.9"/>
<ellipse cx="262.1" cy="59.4" rx="2.0" ry="2.5" fill="#7f7f7f"/>
<circle cx="217.2" cy="97.5" r="6.1" fill="#cbcbcb" stroke="#929292" stroke-width="0.9"/>
<ellipse cx="217.0" cy="97.3" rx="2.0" ry="2.5" fill="#747474"/>
<circle cx="204.9" cy="92.9" r="5.0" fill="#d5d5d5" stroke="#a0a0a0" stroke-width="0.9"/>
<ellipse cx="205.1" cy="92.5" rx="1.6" ry="2.0" fill="#777777"/>
<circle cx="177.7" cy="58.2" r="4.3" fill="#cecece" stroke="#969696" stroke-width="0.9"/>
<ellipse cx="178.4" cy="58.0" rx="1.4" ry="1.7" fill="#808080"/>
<circle cx="198.7" cy="87.3" r="4.3" fill="#c4c4c4" stroke="#8d8d8d" stroke-width="0.9"/>
<ellipse cx="198.9" cy="87.8" rx="1.4" ry="1.7" fill="#858585"/>
<circle cx="217.2" cy="60.3" r="5.8" fill="#cdcdcd" stroke="#9b9b9b" stroke-width="0.9"/>
<ellipse cx="216.7" cy="60.7" rx="1.9" ry="2.3" fill="#7a7a7a"/>
<circle cx="184.2" cy="21.9" r="4.3" fill="#cbcbcb" stroke="#9a9a9a" stroke-width="0.9"/>
<ellipse cx="183.3" cy="22.1" rx="1.4" ry="1.7" fill="#7e7e7e"/>
<circle cx="214.4" cy="77.7" r="5.4" fill="#c3c3c3" stroke="#9d9d9d" stroke-width="0.9"/>
<ellipse cx="214.4" cy="78.2" rx="1.8" ry="2.2" fill="#747474"/>
<circle cx="211.7" cy="49.3" r="5.6" fill="#cfcfcf" stroke="#939393" stroke-width="0.9"/>
<ellipse cx="212.4" cy="48.4" rx="1.8" ry="2.2" fill="#787878"/>
<circle cx="176.6" cy="63.7" r="6.0" fill="#d2d2d2" stroke="#929292" stroke-width="0.9"/>
<ellipse cx="175.6" cy="64.5" rx="2.0" ry="2.4" fill="#7f7f7f"/>
<circle cx="247.4" cy="80.0" r="5.1" fill="#b7b7b7" stroke="#8d8d8d" stroke-width="0.9"/>
<ellipse cx="247.9" cy="80.0" rx="1.7" ry="2.0" fill="#878787"/>
<circle cx="206.6" cy="53.8" r="5.5" fill="#cbcbcb" stroke="#919191" stroke-width="0.9"/>
<ellipse cx="206.7" cy="53.5" rx="1.8" ry="2.2" fill="#797979"/>
<circle cx="237.3" cy="89.9" r="5.0" fill="#b0b0b0" stroke="#9b9b9b" stroke-width="0.9"/>
<ellipse cx="237.9" cy="89.1" rx="1.7" ry="2.0" fill="#7c7c7c"/>
<circle cx="211.0" cy="69.5" r="6.1" fill="#cccccc" stroke="#909090" stroke-width="0.9"/>
<ellipse cx="211.8" cy="70.3" rx="2.0" ry="2.4" fill="#7e7e7e"/>
<circle cx="255.0" cy="116.2" r="4.2" fill="#cecece" stroke="#a0a0a0" stroke-width="0.9"/>
<ellipse cx="255.4" cy="116.5" rx="1.4" ry="1.7" fill="#797979"/>
<circle cx="180.9" cy="66.6" r="5.9" fill="#cbcbcb" stroke="#929292" stroke-width="0.9"/>
<ellipse cx="181.3" cy="66.5" rx="1.9" ry="2.4" fill="#858585"/>
<circle cx="261.8" cy="124.4" r="4.9" fill="#cacaca" stroke="#9f9f9f" stroke-width="0.9"/>
<ellipse cx="261.0" cy="124.8" rx="1.6" ry="2.0" fill="#868686"/>
<circle cx="211.3" cy="64.6" r="5.5" fill="#d3d3d3" stroke="#949494" stroke-width="0.9"/>
<ellipse cx="212.1" cy="64.7" rx="1.8" ry="2.2" fill="#888888"/>
<circle cx="240.5" cy="126.8" r="5.4" fill="#c5c5c5" stroke="#989898" stroke-width="0.9"/>
<ellipse cx="240.8" cy="125.9" rx="1.8" ry="2.2" fill="#818181"/>
<circle cx="239.5" cy="21.4" r="5.8" fill="#cfcfcf" stroke="#919191" stroke-width="0.9"/>
<ellipse cx="240.5" cy="20.8" rx="1.9" ry="2.3" fill="#888888"/>
<circle cx="197.0" cy="30.3" r="5.3" fill="#d2d2d2" stroke="#909090" stroke-width="0.9"/>
<ellipse cx="196.6" cy="30.1" rx="1.8" ry="2.1" fill="#767676"/>
<circle cx="217.4" cy="19.7" r="4.8" fill="#c9c9c9" stroke="#959595" stroke-width="0.9"/>
<ellipse cx="217.4" cy="20.5" rx="1.6" ry="1.9" fill="#777777"/>
<circle cx="207.1" cy="71.5" r="4.7" fill="#d3d3d3" stroke="#a0a0a0" stroke-width="0.9"/>
<ellipse cx="207.9" cy="71.8" rx="1.5" ry="1.9" fill="#888888"/>
<circle cx="205.9" cy="86.3" r="4.9" fill="#d1d1d1" stroke="#909090" stroke-width="0.9"/>
<ellipse cx="206.3" cy="87.3" rx="1.6" ry="1.9" fill="#787878"/>
<circle cx="183.5" cy="53.4" r="6.2" fill="#cacaca" stroke="#929292" stroke-width="0.9"/>
<ellipse cx="182.5" cy="52.5" rx="2.0" ry="2.5" fill="#787878"/>
<circle cx="198.1" cy="121.6" r="5.4" fill="#c4c4c4" stroke="#9e9e9e" stroke-width="0.9"/>
<ellipse cx="198.0" cy="121.9" rx="1.8" ry="2.2" fill="#838383"/>
<circle cx="223.1" cy="47.8" r="4.6" fill="#c5c5c5" stroke="#9b9b9b" stroke-width="0.9"/>
<ellipse cx="222.4" cy="47.7" rx="1.5" ry="1.8" fill="#767676"/>
<circle cx="248.9" cy="67.7" r="5.8" fill="#c5c5c5" stroke="#a0a0a0" stroke-width="0.9"/>
<ellipse cx="248.3" cy="68.3" rx="1.9" ry="2.3" fill="#7c7c7c"/>
<circle cx="266.1" cy="25.7" r="4.6" fill="#cbcbcb" stroke="#939393" stroke-width="0.9"/>
<ellipse cx="266.0" cy="26.7" rx="1.5" ry="1.8" fill="#838383"/>
<circle cx="184.3" cy="115.3" r="5.8" fill="#c3c3c3" stroke="#8f8f8f" stroke-width="0.9"/>
<ellipse cx="185.0" cy="116.1" rx="1.9" ry="2.3" fill="#757575"/>
<circle cx="268.1" cy="29.6" r="5.6" fill="#d4d4d4" stroke="#8d8d8d" stroke-width="0.9"/>
<ellipse cx="268.2" cy="29.7" rx="1.8" ry="2.2" fill="#858585"/>
<circle cx="194.6" cy="119.1" r="4.2" fill="#c4c4c4" stroke="#909090" stroke-width="0.9"/>
<ellipse cx="193.7" cy="119.3" rx="1.4" ry="1.7" fill="#8b8b8b"/>
<circle cx="233.6" cy="110.3" r="5.1" fill="#bfbfbf" stroke="#9c9c9c" stroke-width="0.9"/>
<ellipse cx="234.5" cy="111.0" rx="1.7" ry="2.1" fill="#848484"/>
<circle cx="238.4" cy="88.7" r="5.2" fill="#afafaf" stroke="#969696" stroke-width="0.9"/>
<ellipse cx="237.7" cy="88.2" rx="1.7" ry="2.1" fill="#878787"/>
<circle cx="162.4" cy="37.4" r="4.5" fill="#d6d6d6" stroke="#8c8c8c" stroke-width="0.9"/>
<ellipse cx="162.9" cy="38.1" rx="1.5" ry="1.8" fill="#8b8b8b"/>
<circle cx="185.6" cy="26.9" r="4.4" fill="#c4c4c4" stroke="#8f8f8f" stroke-width="0.9"/>
<ellipse cx="186.3" cy="27.2" rx="1.4" ry="1.7" fill="#7a7a7a"/>
<circle cx="228.2" cy="117.8" r="6.1" fill="#d0d0d0" stroke="#9a9a9a" stroke-width="0.9"/>
<ellipse cx="228.1" cy="118.3" rx="2.0" ry="2.4" fill="#7f7f7f"/>
<circle cx="275.8" cy="124.8" r="4.8" fill="#d1d1d1" stroke="#9b9b9b" stroke-width="0.9"/>
<ellipse cx="274.8" cy="125.2" rx="1.6" ry="1.9" fill="#7b7b7b"/>
<circle cx="210.5" cy="37.2" r="4.6" fill="#cccccc" stroke="#9a9a9a" stroke-width="0.9"/>
<ellipse cx="211.5" cy="37.2" rx="1.5" ry="1.8" fill="#888888"/>
<circle cx="255.4" cy="71.3" r="4.6" fill="#cfcfcf" stroke="#949494" stroke-width="0.9"/>
<ellipse cx="256.0" cy="72.2" rx="1.5" ry="1.9" fill="#878787"/>
<circle cx="249.2" cy="63.3" r="4.5" fill="#cfcfcf" stroke="#989898" stroke-width="0.9"/>
<ellipse cx="249.8" cy="63.6" rx="1.5" ry="1.8" fill="#898989"/>
<circle cx="222.8" cy="83.0" r="5.6" fill="#bbbbbb" stroke="#9e9e9e" stroke-width="0.9"/>
<ellipse cx="222.1" cy="82.4" rx="1.9" ry="2.2" fill="#7f7f7f"/>
<circle cx="169.0" cy="32.3" r="5.4" fill="#c4c4c4" stroke="#959595" stroke-width="0.9"/>
<ellipse cx="169.1" cy="31.9" rx="1.8" ry="2.2" fill="#848484"/>
<circle cx="207.5" cy="127.4" r="5.9" fill="#cbcbcb" stroke="#9a9a9a" stroke-width="0.9"/>
<ellipse cx="207.6" cy="128.0" rx="1.9" ry="2.3" fill="#8a8a8a"/>
<circle cx="178.7" cy="61.3" r="4.5" fill="#d1d1d1" stroke="#969696" stroke-width="0.9"/>
<ellipse cx="178.2" cy="60.7" rx="1.5" ry="1.8" fill="#7d7d7d"/>
<circle cx="236.5" cy="95.8" r="5.4" fill="#b7b7b7" stroke="#999999" stroke-width="0.9"/>
<ellipse cx="236.4" cy="95.1" rx="1.8" ry="2.1" fill="#797979"/>
<circle cx="234.7" cy="57.2" r="4.8" fill="#cfcfcf" stroke="#8f8f8f" stroke-width="0.9"/>
<ellipse cx="235.4" cy="57.8" rx="1.6" ry="1.9" fill="#878787"/>
<circle cx="265.4" cy="136.1" r="4.6" fill="#d2d2d2" stroke="#949494" stroke-width="0.9"/>
<ellipse cx="264.4" cy="135.4" rx="1.5" ry="1.8" fill="#7f7f7f"/>
<circle cx="220.0" cy="121.3" r="5.1" fill="#cacaca" stroke="#949494" stroke-width="0.9"/>
<ellipse cx="219.6" cy="120.4" rx="1.7" ry="2.1" fill="#868686"/>
<circle cx="192.4" cy="95.5" r="5.7" fill="#c3c3c3" stroke="#9c9c9c" stroke-width="0.9"/>
<ellipse cx="191.8" cy="94.7" rx="1.9" ry="2.3" fill="#838383"/>
<circle cx="263.8" cy="52.5" r="5.9" fill="#d5d5d5" stroke="#a0a0a0" stroke-width="0.9"/>
<ellipse cx="264.2" cy="52.6" rx="2.0" ry="2.4" fill="#747474"/>
<circle cx="181.2" cy="43.1" r="5.5" fill="#c3c3c3" stroke="#989898" stroke-width="0.9"/>
<ellipse cx="180.3" cy="43.8" rx="1.8" ry="2.2" fill="#787878"/>
<circle cx="213.9" cy="108.6" r="6.0" fill="#d4d4d4" stroke="#a0a0a0" stroke-width="0.9"/>
<ellipse cx="213.0" cy="109.4" rx="2.0" ry="2.4" fill="#777777"/>
<circle cx="177.1" cy="63.2" r="5.7" fill="#c7c7c7" stroke="#959595" stroke-width="0.9"/>
<ellipse cx="177.8" cy="63.6" rx="1.9" ry="2.3" fill="#787878"/>
<circle cx="188.4" cy="33.4" r="4.4" fill="#cccccc" stroke="#8e8e8e" stroke-width="0.9"/>
<ellipse cx="187.7" cy="34.4" rx="1.4" ry="1.8" fill="#8b8b8b"/>
<circle cx="194.0" cy="117.1" r="4.3" fill="#c7c7c7" stroke="#979797" stroke-width="0.9"/>
<ellipse cx="194.8" cy="117.8" rx="1.4" ry="1.7" fill="#757575"/>
<circle cx="162.5" cy="81.7" r="4.8" fill="#cfcfcf" stroke="#989898" stroke-width="0.9"/>
<ellipse cx="162.5" cy="81.3" rx="1.6" ry="1.9" fill="#7e7e7e"/>
<circle cx="194.5" cy="94.7" r="5.0" fill="#c9c9c9" stroke="#9f9f9f" stroke-width="0.9"/>
<ellipse cx="195.0" cy="95.7" rx="1.6" ry="2.0" fill="#7e7e7e"/>
<circle cx="214.4" cy="48.4" r="5.0" fill="#d2d2d2" stroke="#9d9d9d" stroke-width="0.9"/>
<ellipse cx="213.7" cy="48.5" rx="1.7" ry="2.0" fill="#808080"/>
<circle cx="187.0" cy="32.1" r="4.7" fill="#cdcdcd" stroke="#8f8f8f" stroke-width="0.9"/>
<ellipse cx="187.0" cy="32.2" rx="1.5" ry="1.9" fill="#8a8a8a"/>
<circle cx="264.8" cy="25.9" r="5.4" fill="#c5c5c5" stroke="#929292" stroke-width="0.9"/>
<ellipse cx="264.0" cy="26.1" rx="1.8" ry="2.1" fill="#7e7e7e"/>
<circle cx="191.0" cy="33.7" r="5.3" fill="#d4d4d4" stroke="#9f9f9f" stroke-width="0.9"/>
<ellipse cx="191.1" cy="34.1" rx="1.7" ry="2.1" fill="#747474"/>
<circle cx="168.1" cy="53.5" r="5.0" fill="#c8c8c8" stroke="#8f8f8f" stroke-width="0.9"/>
<ellipse cx="167.8" cy="53.8" rx="1.6" ry="2.0" fill="#878787"/>
<circle cx="216.8" cy="80.4" r="5.2" fill="#d1d1d1" stroke="#969696" stroke-width="0.9"/>
<ellipse cx="216.0" cy="79.7" rx="1.7" ry="2.1" fill="#7a7a7a"/>
<ellipse cx="236" cy="44" rx="10" ry="12" fill="#ececec" transform="rotate(0 236 44)" filter="url(#bl3)"/>
<ellipse cx="191" cy="66" rx="8" ry="16" fill="#ececec" transform="rotate(-10 191 66)" filter="url(#bl3)"/>
<ellipse cx="186" cy="86" rx="6" ry="10" fill="#ececec" transform="rotate(20 186 86)" filter="url(#bl3)"/>
<ellipse cx="166" cy="110" rx="11" ry="19" fill="#ececec" transform="rotate(0 166 110)" filter="url(#bl3)"/>
<ellipse cx="264" cy="89" rx="12" ry="13" fill="#ececec" transform="rotate(0 264 89)" filter="url(#bl3)"/>
<ellipse cx="161" cy="57" rx="5" ry="9" fill="#ececec" transform="rotate(0 161 57)" filter="url(#bl3)"/>
<ellipse cx="185" cy="122" rx="5" ry="4" fill="#ececec" transform="rotate(0 185 122)" filter="url(#bl3)"/>
<ellipse cx="231" cy="127" rx="5" ry="3" fill="#ececec" transform="rotate(0 231 127)" filter="url(#bl3)"/>
<rect x="157" y="23" width="35" height="8" fill="#909090" opacity="0.3"/>
<circle cx="168" cy="80" r="2.2" fill="#555"/>
<circle cx="171" cy="83" r="2.2" fill="#555"/>
<circle cx="197" cy="117" r="2.2" fill="#555"/>
<circle cx="229" cy="103" r="2.2" fill="#555"/>
<circle cx="200" cy="85" r="2.2" fill="#555"/>
<circle cx="220" cy="123" r="2.2" fill="#555"/>
</g></g>
<rect x="156.9" y="23.8" width="118.3" height="108.7" fill="none" stroke="#777" stroke-width="1"/>
<clipPath id="cE"><rect x="277" y="23.3" width="119.7" height="109.7"/></clipPath>
<g clip-path="url(#cE)"><g filter="url(#bl)">
<rect x="274" y="20.3" width="125.7" height="115.7" fill="#ababab"/>
<circle cx="311.9" cy="130.0" r="0.41" fill="#8a8a8a"/>
<circle cx="392.0" cy="123.5" r="0.48" fill="#8a8a8a"/>
<circle cx="308.1" cy="130.9" r="0.45" fill="#8a8a8a"/>
<circle cx="326.7" cy="58.3" r="0.60" fill="#8a8a8a"/>
<circle cx="335.9" cy="54.7" r="0.44" fill="#8a8a8a"/>
<circle cx="291.6" cy="91.5" r="0.43" fill="#8a8a8a"/>
<circle cx="312.1" cy="109.1" r="0.55" fill="#8a8a8a"/>
<circle cx="278.6" cy="81.7" r="0.38" fill="#8a8a8a"/>
<circle cx="388.9" cy="109.1" r="0.37" fill="#8a8a8a"/>
<circle cx="309.0" cy="40.3" r="0.60" fill="#8a8a8a"/>
<circle cx="312.1" cy="90.0" r="0.44" fill="#8a8a8a"/>
<circle cx="354.2" cy="89.5" r="0.52" fill="#8a8a8a"/>
<circle cx="291.1" cy="106.7" r="0.39" fill="#8a8a8a"/>
<circle cx="340.9" cy="60.2" r="0.39" fill="#8a8a8a"/>
<circle cx="340.4" cy="74.2" r="0.41" fill="#8a8a8a"/>
<circle cx="366.2" cy="88.1" r="0.31" fill="#8a8a8a"/>
<circle cx="307.2" cy="73.3" r="0.57" fill="#8a8a8a"/>
<circle cx="383.3" cy="83.2" r="0.30" fill="#8a8a8a"/>
<circle cx="370.2" cy="70.2" r="0.47" fill="#8a8a8a"/>
<circle cx="361.8" cy="92.7" r="0.44" fill="#8a8a8a"/>
<circle cx="386.1" cy="65.6" r="0.42" fill="#8a8a8a"/>
<circle cx="379.0" cy="44.9" r="0.39" fill="#8a8a8a"/>
<circle cx="376.4" cy="30.5" r="0.55" fill="#8a8a8a"/>
<circle cx="360.1" cy="70.8" r="0.39" fill="#8a8a8a"/>
<circle cx="370.5" cy="123.2" r="0.34" fill="#8a8a8a"/>
<circle cx="334.3" cy="83.5" r="0.45" fill="#8a8a8a"/>
<circle cx="316.6" cy="40.1" r="0.48" fill="#8a8a8a"/>
<circle cx="374.2" cy="30.8" r="0.37" fill="#8a8a8a"/>
<circle cx="375.1" cy="110.2" r="0.50" fill="#8a8a8a"/>
<circle cx="280.1" cy="102.6" r="0.59" fill="#8a8a8a"/>
<circle cx="396.5" cy="100.2" r="0.31" fill="#8a8a8a"/>
<circle cx="377.8" cy="47.3" r="0.49" fill="#8a8a8a"/>
<circle cx="391.0" cy="101.5" r="0.34" fill="#8a8a8a"/>
<circle cx="312.0" cy="124.0" r="0.34" fill="#8a8a8a"/>
<circle cx="350.1" cy="68.7" r="0.35" fill="#8a8a8a"/>
<circle cx="351.5" cy="28.1" r="0.33" fill="#8a8a8a"/>
<circle cx="322.4" cy="31.2" r="0.32" fill="#8a8a8a"/>
<circle cx="345.9" cy="104.7" r="0.56" fill="#8a8a8a"/>
<circle cx="293.1" cy="70.7" r="0.39" fill="#8a8a8a"/>
<circle cx="348.8" cy="77.0" r="0.58" fill="#8a8a8a"/>
<circle cx="321.8" cy="29.4" r="0.51" fill="#8a8a8a"/>
<circle cx="295.1" cy="92.6" r="0.45" fill="#8a8a8a"/>
<circle cx="386.0" cy="84.2" r="0.49" fill="#8a8a8a"/>
<circle cx="308.5" cy="83.8" r="0.38" fill="#8a8a8a"/>
<circle cx="366.8" cy="80.0" r="0.34" fill="#8a8a8a"/>
<circle cx="305.1" cy="64.0" r="0.52" fill="#8a8a8a"/>
<circle cx="298.5" cy="101.5" r="0.50" fill="#8a8a8a"/>
<circle cx="287.2" cy="96.6" r="0.33" fill="#8a8a8a"/>
<circle cx="291.9" cy="88.5" r="0.37" fill="#8a8a8a"/>
<circle cx="382.0" cy="76.0" r="0.40" fill="#8a8a8a"/>
<circle cx="372.3" cy="26.5" r="0.52" fill="#8a8a8a"/>
<circle cx="283.4" cy="39.8" r="0.59" fill="#8a8a8a"/>
<circle cx="358.5" cy="47.8" r="0.33" fill="#8a8a8a"/>
<circle cx="393.4" cy="96.3" r="0.55" fill="#8a8a8a"/>
<circle cx="293.7" cy="91.8" r="0.41" fill="#8a8a8a"/>
<circle cx="305.1" cy="59.9" r="0.48" fill="#8a8a8a"/>
<circle cx="318.7" cy="65.6" r="0.34" fill="#8a8a8a"/>
<circle cx="376.5" cy="94.4" r="0.54" fill="#8a8a8a"/>
<circle cx="328.9" cy="116.7" r="0.46" fill="#8a8a8a"/>
<circle cx="347.9" cy="86.2" r="0.52" fill="#8a8a8a"/>
<circle cx="324.3" cy="33.9" r="0.31" fill="#8a8a8a"/>
<circle cx="301.2" cy="27.6" r="0.57" fill="#8a8a8a"/>
<circle cx="334.6" cy="106.7" r="0.30" fill="#8a8a8a"/>
<circle cx="333.3" cy="120.9" r="0.49" fill="#8a8a8a"/>
<circle cx="328.3" cy="74.4" r="0.33" fill="#8a8a8a"/>
<circle cx="295.5" cy="40.7" r="0.41" fill="#8a8a8a"/>
<circle cx="323.2" cy="119.9" r="0.35" fill="#8a8a8a"/>
<circle cx="307.4" cy="53.7" r="0.35" fill="#8a8a8a"/>
<circle cx="311.4" cy="49.1" r="0.44" fill="#8a8a8a"/>
<circle cx="280.8" cy="124.7" r="0.41" fill="#8a8a8a"/>
<circle cx="389.3" cy="98.7" r="0.50" fill="#8a8a8a"/>
<circle cx="333.5" cy="127.0" r="0.34" fill="#8a8a8a"/>
<circle cx="357.0" cy="55.2" r="0.50" fill="#8a8a8a"/>
<circle cx="364.3" cy="41.2" r="0.36" fill="#8a8a8a"/>
<circle cx="280.0" cy="48.6" r="0.32" fill="#8a8a8a"/>
<circle cx="325.0" cy="130.1" r="0.41" fill="#8a8a8a"/>
<circle cx="314.3" cy="74.6" r="0.38" fill="#8a8a8a"/>
<circle cx="364.7" cy="102.1" r="0.35" fill="#8a8a8a"/>
<circle cx="305.8" cy="97.0" r="0.58" fill="#8a8a8a"/>
<circle cx="354.3" cy="70.5" r="0.59" fill="#8a8a8a"/>
<circle cx="277.8" cy="30.0" r="0.53" fill="#8a8a8a"/>
<circle cx="326.1" cy="28.2" r="0.46" fill="#8a8a8a"/>
<circle cx="395.5" cy="80.2" r="0.41" fill="#8a8a8a"/>
<circle cx="288.2" cy="31.1" r="0.57" fill="#8a8a8a"/>
<circle cx="335.8" cy="126.0" r="0.32" fill="#8a8a8a"/>
<circle cx="306.1" cy="28.8" r="0.42" fill="#8a8a8a"/>
<circle cx="284.2" cy="51.3" r="0.42" fill="#8a8a8a"/>
<circle cx="313.6" cy="28.9" r="0.31" fill="#8a8a8a"/>
<circle cx="393.3" cy="43.0" r="0.45" fill="#8a8a8a"/>
<circle cx="325.2" cy="81.6" r="0.33" fill="#8a8a8a"/>
<circle cx="314.6" cy="35.1" r="0.46" fill="#8a8a8a"/>
<circle cx="387.3" cy="88.9" r="0.56" fill="#8a8a8a"/>
<circle cx="302.7" cy="25.2" r="0.46" fill="#8a8a8a"/>
<circle cx="335.2" cy="86.0" r="0.41" fill="#8a8a8a"/>
<circle cx="351.8" cy="102.9" r="0.57" fill="#8a8a8a"/>
<circle cx="313.8" cy="72.6" r="0.55" fill="#8a8a8a"/>
<circle cx="303.8" cy="36.0" r="0.39" fill="#8a8a8a"/>
<circle cx="287.5" cy="108.0" r="0.55" fill="#8a8a8a"/>
<circle cx="314.5" cy="37.5" r="0.32" fill="#8a8a8a"/>
<circle cx="306.3" cy="32.6" r="0.43" fill="#8a8a8a"/>
<circle cx="346.1" cy="50.2" r="0.32" fill="#8a8a8a"/>
<circle cx="360.9" cy="28.6" r="0.36" fill="#8a8a8a"/>
<circle cx="311.2" cy="64.3" r="0.33" fill="#8a8a8a"/>
<circle cx="327.3" cy="57.7" r="0.53" fill="#8a8a8a"/>
<circle cx="343.6" cy="121.6" r="0.50" fill="#8a8a8a"/>
<circle cx="367.9" cy="86.3" r="0.43" fill="#8a8a8a"/>
<circle cx="374.8" cy="95.2" r="0.59" fill="#8a8a8a"/>
<circle cx="364.1" cy="100.2" r="0.38" fill="#8a8a8a"/>
<circle cx="374.2" cy="65.2" r="0.34" fill="#8a8a8a"/>
<circle cx="284.9" cy="41.9" r="0.38" fill="#8a8a8a"/>
<circle cx="357.9" cy="54.6" r="0.32" fill="#8a8a8a"/>
<circle cx="368.4" cy="84.4" r="0.31" fill="#8a8a8a"/>
<circle cx="283.1" cy="37.6" r="0.41" fill="#8a8a8a"/>
<circle cx="379.9" cy="127.4" r="0.48" fill="#8a8a8a"/>
<circle cx="304.7" cy="70.4" r="0.41" fill="#8a8a8a"/>
<circle cx="316.5" cy="24.7" r="0.48" fill="#8a8a8a"/>
<circle cx="376.0" cy="103.0" r="0.33" fill="#8a8a8a"/>
<circle cx="340.5" cy="42.1" r="0.51" fill="#8a8a8a"/>
<circle cx="330.4" cy="126.3" r="0.54" fill="#8a8a8a"/>
<circle cx="291.1" cy="58.1" r="0.57" fill="#8a8a8a"/>
<circle cx="332.2" cy="70.9" r="0.43" fill="#8a8a8a"/>
<circle cx="368.9" cy="126.0" r="0.46" fill="#8a8a8a"/>
<circle cx="393.1" cy="88.7" r="0.33" fill="#8a8a8a"/>
<circle cx="374.5" cy="69.3" r="0.32" fill="#8a8a8a"/>
<circle cx="394.1" cy="26.9" r="0.47" fill="#8a8a8a"/>
<circle cx="334.7" cy="120.0" r="0.42" fill="#8a8a8a"/>
<circle cx="302.8" cy="53.7" r="0.36" fill="#8a8a8a"/>
<circle cx="344.3" cy="62.5" r="0.53" fill="#8a8a8a"/>
<circle cx="305.9" cy="61.9" r="0.37" fill="#8a8a8a"/>
<circle cx="394.6" cy="115.5" r="0.55" fill="#8a8a8a"/>
<circle cx="351.0" cy="67.3" r="0.34" fill="#8a8a8a"/>
<circle cx="376.6" cy="77.1" r="0.31" fill="#8a8a8a"/>
<circle cx="297.3" cy="34.1" r="0.52" fill="#8a8a8a"/>
<circle cx="384.8" cy="45.2" r="0.54" fill="#8a8a8a"/>
<circle cx="315.8" cy="98.2" r="0.56" fill="#8a8a8a"/>
<circle cx="351.6" cy="111.1" r="0.41" fill="#8a8a8a"/>
<circle cx="278.2" cy="79.4" r="0.48" fill="#8a8a8a"/>
<circle cx="299.1" cy="66.0" r="0.40" fill="#8a8a8a"/>
<circle cx="280.2" cy="57.5" r="0.41" fill="#8a8a8a"/>
<circle cx="334.0" cy="100.5" r="0.42" fill="#8a8a8a"/>
<circle cx="394.6" cy="112.8" r="0.58" fill="#8a8a8a"/>
<circle cx="359.9" cy="96.8" r="0.46" fill="#8a8a8a"/>
<circle cx="372.6" cy="63.1" r="0.48" fill="#8a8a8a"/>
<circle cx="358.3" cy="80.6" r="0.39" fill="#8a8a8a"/>
<circle cx="286.3" cy="32.9" r="0.41" fill="#8a8a8a"/>
<circle cx="346.5" cy="106.6" r="0.51" fill="#8a8a8a"/>
<circle cx="313.7" cy="125.2" r="0.38" fill="#8a8a8a"/>
<circle cx="362.7" cy="31.2" r="0.53" fill="#8a8a8a"/>
<circle cx="357.2" cy="128.3" r="0.57" fill="#8a8a8a"/>
<circle cx="359.3" cy="115.3" r="0.52" fill="#8a8a8a"/>
<circle cx="350.1" cy="46.2" r="0.46" fill="#8a8a8a"/>
<circle cx="384.3" cy="49.5" r="0.59" fill="#8a8a8a"/>
<circle cx="342.1" cy="66.5" r="0.30" fill="#8a8a8a"/>
<circle cx="323.7" cy="42.8" r="0.50" fill="#8a8a8a"/>
<circle cx="384.7" cy="123.1" r="0.48" fill="#8a8a8a"/>
<circle cx="323.3" cy="35.2" r="0.51" fill="#8a8a8a"/>
<circle cx="343.2" cy="101.8" r="0.41" fill="#8a8a8a"/>
<circle cx="383.1" cy="46.6" r="0.39" fill="#8a8a8a"/>
<circle cx="309.0" cy="91.6" r="0.57" fill="#8a8a8a"/>
<circle cx="297.0" cy="92.7" r="0.53" fill="#8a8a8a"/>
<polygon points="300.5,41.2 298.4,53.6 290.2,57.6 284.9,60.9 279.6,49.7 279.4,34.2 284.7,27.3 291.3,28.2 299.2,31.5" fill="#9c9c9c" stroke="#7a7a7a" stroke-width="0.7"/>
<polygon points="394.9,33.1 381.2,37.6 370.0,41.9 356.6,41.1 330.6,40.4 315.4,37.5 311.1,32.1 317.1,28.2 331.6,23.8 359.0,24.8 366.8,25.0 389.1,29.9" fill="#969696" stroke="#808080" stroke-width="0.7"/>
<polygon points="392.6,39.5 390.1,44.9 383.9,48.5 373.6,48.1 367.5,41.9 368.4,33.8 376.1,31.4 385.4,28.7 391.8,34.0" fill="#9c9c9c" stroke="#808080" stroke-width="0.7"/>
<polygon points="310.5,97.9 308.3,104.5 302.3,105.6 289.5,109.6 285.2,107.6 280.6,100.2 276.8,94.5 287.2,88.8 293.6,87.3 303.0,87.6 313.0,91.7" fill="#9c9c9c" stroke="#7a7a7a" stroke-width="0.7"/>
<polygon points="287.5,103.0 285.3,106.4 282.5,108.6 280.2,108.9 278.0,104.8 276.8,101.8 278.9,96.7 283.5,97.0 285.6,98.6" fill="#8e8e8e" stroke="#747474" stroke-width="0.7"/>
<polygon points="344.7,41.4 341.9,45.6 333.0,47.7 327.2,47.3 323.4,43.7 323.2,37.6 328.3,36.1 334.6,34.2 340.4,35.6" fill="#8a8a8a" stroke="#747474" stroke-width="0.7"/>
<polygon points="315.6,61.6 313.9,70.0 306.2,73.6 297.4,72.8 295.9,66.9 292.1,54.8 297.9,50.3 307.4,48.7 313.5,52.4" fill="#7f7f7f" stroke="#747474" stroke-width="0.7"/>
<polygon points="339.7,56.4 336.9,63.4 328.6,66.7 321.6,67.4 318.5,61.3 318.7,52.3 321.3,48.1 330.5,47.4 335.8,49.5" fill="#878787" stroke="#747474" stroke-width="0.7"/>
<polygon points="369.0,53.5 364.4,59.6 360.1,63.6 349.4,60.7 347.3,56.4 346.6,48.4 351.7,40.4 357.6,41.4 367.8,45.5" fill="#878787" stroke="#747474" stroke-width="0.7"/>
<polygon points="373.8,72.9 372.1,75.7 363.6,79.0 358.1,78.6 352.7,74.7 354.2,68.6 354.4,65.5 367.2,63.7 372.8,66.2" fill="#828282" stroke="#747474" stroke-width="0.7"/>
<polygon points="341.4,88.8 340.8,94.8 332.1,97.7 325.1,97.8 317.6,95.1 310.5,89.6 312.6,83.1 316.5,76.7 326.5,74.2 335.7,77.3 339.3,78.5" fill="#7b7b7b" stroke="#747474" stroke-width="0.7"/>
<circle cx="329.4" cy="93.8" r="2.5" fill="#c0c0c0"/>
<polygon points="322,97 342,96 340,104 335,111 327,105" fill="#7f7f7f" stroke="#747474" stroke-width="0.7"/>
<polygon points="368.7,90.0 367.1,102.4 363.1,109.3 355.5,106.4 350.3,104.0 347.6,92.2 351.0,84.1 355.6,75.0 361.1,74.7 369.3,84.1" fill="#848484" stroke="#747474" stroke-width="0.7"/>
<polygon points="367,106 376,105 381,115 378,122 370,121 366,113" fill="#7c7c7c" stroke="#747474" stroke-width="0.7"/>
<circle cx="367.3" cy="28.6" r="2.8" fill="#707070" opacity="0.18"/>
<circle cx="371.3" cy="32.1" r="2.0" fill="#707070" opacity="0.18"/>
<circle cx="311.9" cy="71.2" r="2.3" fill="#707070" opacity="0.18"/>
<circle cx="332.3" cy="91.7" r="1.5" fill="#707070" opacity="0.18"/>
<circle cx="290.5" cy="38.4" r="1.7" fill="#707070" opacity="0.18"/>
<circle cx="291.8" cy="107.9" r="3.2" fill="#707070" opacity="0.18"/>
<circle cx="293.6" cy="69.2" r="2.1" fill="#707070" opacity="0.18"/>
<circle cx="316.5" cy="56.8" r="2.8" fill="#707070" opacity="0.18"/>
<circle cx="343.7" cy="57.6" r="1.9" fill="#707070" opacity="0.18"/>
<circle cx="317.9" cy="38.1" r="2.6" fill="#707070" opacity="0.18"/>
<circle cx="356.6" cy="59.2" r="1.7" fill="#707070" opacity="0.18"/>
<circle cx="302.9" cy="58.6" r="2.7" fill="#707070" opacity="0.18"/>
<circle cx="363.3" cy="59.2" r="3.1" fill="#707070" opacity="0.18"/>
<circle cx="347.3" cy="63.4" r="2.2" fill="#707070" opacity="0.18"/>
<circle cx="334.6" cy="85.6" r="2.3" fill="#707070" opacity="0.18"/>
<circle cx="354.4" cy="65.8" r="2.0" fill="#707070" opacity="0.18"/>
<circle cx="338.6" cy="85.0" r="1.6" fill="#707070" opacity="0.18"/>
<circle cx="327.5" cy="62.9" r="3.3" fill="#707070" opacity="0.18"/>
<circle cx="378.6" cy="58.7" r="3.3" fill="#707070" opacity="0.18"/>
<circle cx="364.1" cy="49.5" r="2.4" fill="#707070" opacity="0.18"/>
<circle cx="297.3" cy="94.7" r="2.8" fill="#707070" opacity="0.18"/>
<circle cx="373.7" cy="93.0" r="2.8" fill="#707070" opacity="0.18"/>
<circle cx="358.4" cy="74.2" r="1.7" fill="#707070" opacity="0.18"/>
<circle cx="343.8" cy="28.4" r="1.8" fill="#707070" opacity="0.18"/>
<circle cx="362.4" cy="31.6" r="1.7" fill="#707070" opacity="0.18"/>
<circle cx="294.9" cy="100.2" r="1.9" fill="#707070" opacity="0.18"/>
<circle cx="287.3" cy="97.0" r="1.7" fill="#707070" opacity="0.18"/>
<circle cx="369.4" cy="83.2" r="3.2" fill="#707070" opacity="0.18"/>
<circle cx="380.2" cy="75.5" r="3.1" fill="#707070" opacity="0.18"/>
<circle cx="288.6" cy="90.9" r="2.5" fill="#707070" opacity="0.18"/>
<circle cx="356.5" cy="36.8" r="3.0" fill="#707070" opacity="0.18"/>
<circle cx="378.5" cy="33.0" r="2.1" fill="#707070" opacity="0.18"/>
<circle cx="341.4" cy="95.9" r="2.0" fill="#707070" opacity="0.18"/>
<circle cx="303.0" cy="48.5" r="2.7" fill="#707070" opacity="0.18"/>
<circle cx="360.4" cy="60.3" r="2.2" fill="#707070" opacity="0.18"/>
<circle cx="324.7" cy="56.7" r="2.3" fill="#707070" opacity="0.18"/>
<circle cx="293.3" cy="69.0" r="3.4" fill="#707070" opacity="0.18"/>
<circle cx="326.3" cy="89.3" r="1.8" fill="#707070" opacity="0.18"/>
<circle cx="354.1" cy="90.0" r="2.8" fill="#707070" opacity="0.18"/>
<circle cx="336.7" cy="67.7" r="2.8" fill="#707070" opacity="0.18"/>
<line x1="285.0" y1="33.5" x2="338.0" y2="33.5" stroke="#666" stroke-width="0.8"/>
<line x1="285.0" y1="32.0" x2="285.0" y2="35.0" stroke="#666" stroke-width="0.8"/>
<line x1="338.0" y1="32.0" x2="338.0" y2="35.0" stroke="#666" stroke-width="0.8"/>
</g></g>
<rect x="277.5" y="23.8" width="118.7" height="108.7" fill="none" stroke="#777" stroke-width="1"/>
<clipPath id="cM"><rect x="398" y="23.3" width="122" height="109.7"/></clipPath>
<g clip-path="url(#cM)"><g filter="url(#bl)">
<rect x="395" y="20.3" width="128" height="115.7" fill="#dcdcdc"/>
<ellipse cx="428.4" cy="126.8" rx="5.5" ry="4.4" fill="#b4b4b4" transform="rotate(-33 428.4 126.8)"/>
<ellipse cx="430.7" cy="129.9" rx="5.8" ry="4.3" fill="#b4b4b4" transform="rotate(-3 430.7 129.9)"/>
<ellipse cx="453.8" cy="87.2" rx="5.8" ry="4.7" fill="#b4b4b4" transform="rotate(-33 453.8 87.2)"/>
<ellipse cx="429.2" cy="47.0" rx="6.1" ry="3.8" fill="#b4b4b4" transform="rotate(32 429.2 47.0)"/>
<ellipse cx="445.5" cy="54.9" rx="6.0" ry="5.0" fill="#b4b4b4" transform="rotate(-35 445.5 54.9)"/>
<ellipse cx="472.5" cy="77.2" rx="7.6" ry="3.7" fill="#b4b4b4" transform="rotate(15 472.5 77.2)"/>
<ellipse cx="458.7" cy="100.3" rx="8.6" ry="4.2" fill="#b4b4b4" transform="rotate(-29 458.7 100.3)"/>
<ellipse cx="410.2" cy="125.4" rx="7.0" ry="3.4" fill="#b4b4b4" transform="rotate(36 410.2 125.4)"/>
<ellipse cx="467.8" cy="107.0" rx="8.5" ry="3.6" fill="#b4b4b4" transform="rotate(-11 467.8 107.0)"/>
<ellipse cx="501.3" cy="56.7" rx="8.1" ry="3.2" fill="#b4b4b4" transform="rotate(15 501.3 56.7)"/>
<ellipse cx="481.6" cy="125.8" rx="8.4" ry="4.0" fill="#b4b4b4" transform="rotate(-24 481.6 125.8)"/>
<ellipse cx="419.8" cy="90.1" rx="7.0" ry="3.1" fill="#b4b4b4" transform="rotate(32 419.8 90.1)"/>
<ellipse cx="459.8" cy="104.7" rx="5.9" ry="3.5" fill="#b4b4b4" transform="rotate(-39 459.8 104.7)"/>
<ellipse cx="441.4" cy="67.9" rx="6.7" ry="3.8" fill="#b4b4b4" transform="rotate(27 441.4 67.9)"/>
<circle cx="509.1" cy="40.6" r="4.1" fill="#565656"/>
<circle cx="514.4" cy="118.9" r="3.3" fill="#565656"/>
<circle cx="424.7" cy="67.7" r="4.2" fill="#666666"/>
<circle cx="399.4" cy="97.0" r="4.9" fill="#6d6d6d"/>
<circle cx="441.1" cy="113.8" r="4.3" fill="#555555"/>
<circle cx="520.4" cy="27.6" r="3.2" fill="#545454"/>
<circle cx="438.6" cy="96.5" r="3.5" fill="#5f5f5f"/>
<circle cx="440.0" cy="131.9" r="3.2" fill="#6b6b6b"/>
<circle cx="421.9" cy="121.6" r="3.3" fill="#575757"/>
<circle cx="417.8" cy="132.5" r="4.2" fill="#515151"/>
<circle cx="420.7" cy="46.2" r="5.0" fill="#555555"/>
<circle cx="477.9" cy="103.5" r="4.3" fill="#515151"/>
<circle cx="486.6" cy="74.8" r="4.1" fill="#636363"/>
<circle cx="409.3" cy="44.7" r="3.2" fill="#4d4d4d"/>
<circle cx="478.9" cy="116.2" r="4.4" fill="#6c6c6c"/>
<circle cx="499.9" cy="86.1" r="4.3" fill="#606060"/>
<circle cx="462.3" cy="106.4" r="4.6" fill="#4c4c4c"/>
<circle cx="432.1" cy="54.6" r="3.4" fill="#606060"/>
<circle cx="513.7" cy="133.9" r="3.7" fill="#5e5e5e"/>
<circle cx="405.2" cy="68.8" r="4.8" fill="#606060"/>
<circle cx="461.1" cy="92.6" r="5.3" fill="#5e5e5e"/>
<circle cx="478.4" cy="32.9" r="4.3" fill="#646464"/>
<circle cx="517.7" cy="118.3" r="3.9" fill="#5e5e5e"/>
<circle cx="445.8" cy="64.7" r="5.2" fill="#6d6d6d"/>
<circle cx="514.8" cy="104.5" r="5.0" fill="#636363"/>
<circle cx="481.2" cy="43.0" r="5.0" fill="#6c6c6c"/>
<circle cx="502.3" cy="51.4" r="3.4" fill="#5d5d5d"/>
<circle cx="521.6" cy="110.6" r="4.6" fill="#5d5d5d"/>
<circle cx="521.3" cy="52.0" r="5.0" fill="#5d5d5d"/>
<circle cx="430.5" cy="123.1" r="4.1" fill="#636363"/>
<circle cx="426.5" cy="49.0" r="4.3" fill="#696969"/>
<circle cx="427.0" cy="114.4" r="4.5" fill="#585858"/>
<circle cx="442.1" cy="110.6" r="4.9" fill="#646464"/>
<circle cx="397.8" cy="42.4" r="3.8" fill="#525252"/>
<circle cx="454.2" cy="120.8" r="5.2" fill="#707070"/>
<circle cx="406.9" cy="90.5" r="5.1" fill="#505050"/>
<circle cx="505.0" cy="95.9" r="4.0" fill="#505050"/>
<circle cx="499.3" cy="104.1" r="4.5" fill="#606060"/>
<circle cx="423.5" cy="106.4" r="5.3" fill="#505050"/>
<circle cx="444.8" cy="70.2" r="4.9" fill="#525252"/>
<circle cx="463.4" cy="29.8" r="3.9" fill="#585858"/>
<circle cx="489.2" cy="115.8" r="4.4" fill="#606060"/>
<circle cx="432.8" cy="48.3" r="4.3" fill="#535353"/>
<circle cx="467.0" cy="128.6" r="5.4" fill="#545454"/>
<circle cx="423.9" cy="45.5" r="3.6" fill="#545454"/>
<circle cx="492.5" cy="27.3" r="5.2" fill="#5e5e5e"/>
<circle cx="448.1" cy="128.7" r="4.5" fill="#636363"/>
<circle cx="483.6" cy="134.1" r="4.3" fill="#636363"/>
<circle cx="489.0" cy="110.5" r="3.6" fill="#5d5d5d"/>
<circle cx="482.1" cy="75.4" r="3.5" fill="#5d5d5d"/>
<circle cx="459.0" cy="132.7" r="4.4" fill="#6c6c6c"/>
<circle cx="432.0" cy="45.5" r="4.4" fill="#545454"/>
<circle cx="500.6" cy="95.2" r="3.5" fill="#656565"/>
<circle cx="399.1" cy="120.8" r="4.3" fill="#5e5e5e"/>
<circle cx="439.4" cy="101.2" r="4.6" fill="#555555"/>
<circle cx="501.3" cy="22.0" r="5.0" fill="#686868"/>
<circle cx="469.2" cy="35.0" r="5.3" fill="#676767"/>
<circle cx="467.2" cy="87.3" r="5.1" fill="#636363"/>
<circle cx="522.9" cy="24.9" r="4.5" fill="#636363"/>
<circle cx="521.2" cy="61.7" r="5.3" fill="#525252"/>
<circle cx="441.7" cy="60.4" r="4.0" fill="#676767"/>
<circle cx="443.0" cy="93.0" r="3.3" fill="#555555"/>
<circle cx="513.9" cy="97.0" r="4.6" fill="#4f4f4f"/>
<circle cx="399.2" cy="47.2" r="4.0" fill="#636363"/>
<circle cx="455.9" cy="40.3" r="3.5" fill="#5d5d5d"/>
<circle cx="495.6" cy="110.9" r="4.8" fill="#5c5c5c"/>
<circle cx="453.2" cy="54.6" r="4.1" fill="#6b6b6b"/>
<circle cx="452.2" cy="93.1" r="4.3" fill="#686868"/>
<circle cx="438.7" cy="87.2" r="4.8" fill="#636363"/>
<circle cx="486.9" cy="97.5" r="4.0" fill="#707070"/>
<circle cx="444.1" cy="83.5" r="4.8" fill="#575757"/>
<circle cx="495.1" cy="78.6" r="3.3" fill="#6f6f6f"/>
<circle cx="496.5" cy="108.1" r="3.7" fill="#656565"/>
<circle cx="427.4" cy="122.3" r="3.6" fill="#535353"/>
<circle cx="396.8" cy="71.6" r="5.0" fill="#606060"/>
<circle cx="435.2" cy="133.3" r="4.8" fill="#545454"/>
<circle cx="468.7" cy="94.4" r="3.2" fill="#595959"/>
<circle cx="437.1" cy="119.2" r="4.1" fill="#4c4c4c"/>
<circle cx="506.3" cy="99.2" r="4.3" fill="#585858"/>
<circle cx="456.6" cy="134.4" r="4.8" fill="#666666"/>
<circle cx="510.9" cy="69.5" r="3.5" fill="#555555"/>
<circle cx="479.2" cy="110.4" r="4.9" fill="#626262"/>
<circle cx="514.8" cy="70.8" r="3.3" fill="#666666"/>
<circle cx="483.8" cy="43.3" r="3.3" fill="#505050"/>
<circle cx="493.5" cy="56.8" r="3.6" fill="#4f4f4f"/>
<circle cx="445.8" cy="100.5" r="3.8" fill="#6d6d6d"/>
<circle cx="485.0" cy="100.7" r="3.7" fill="#535353"/>
<circle cx="498.3" cy="96.1" r="5.1" fill="#6b6b6b"/>
<circle cx="415.0" cy="115.7" r="3.7" fill="#515151"/>
<circle cx="450.7" cy="123.6" r="5.0" fill="#6f6f6f"/>
<circle cx="482.5" cy="125.5" r="5.1" fill="#636363"/>
<circle cx="474.1" cy="91.7" r="4.2" fill="#5a5a5a"/>
<circle cx="461.4" cy="59.3" r="5.3" fill="#6f6f6f"/>
<circle cx="425.7" cy="45.9" r="4.8" fill="#585858"/>
<circle cx="404.2" cy="57.7" r="4.5" fill="#5b5b5b"/>
<circle cx="487.2" cy="66.3" r="3.2" fill="#606060"/>
<circle cx="446.1" cy="109.3" r="3.5" fill="#646464"/>
<circle cx="481.8" cy="127.3" r="5.1" fill="#666666"/>
<circle cx="471.6" cy="76.7" r="4.4" fill="#585858"/>
<circle cx="483.0" cy="57.2" r="4.8" fill="#525252"/>
<circle cx="473.3" cy="33.5" r="5.4" fill="#5d5d5d"/>
<circle cx="512.9" cy="27.2" r="4.0" fill="#606060"/>
<circle cx="513.4" cy="90.3" r="5.3" fill="#5d5d5d"/>
<circle cx="475.5" cy="132.5" r="5.3" fill="#6a6a6a"/>
<circle cx="502.2" cy="87.9" r="3.7" fill="#6e6e6e"/>
<circle cx="520.6" cy="110.9" r="3.3" fill="#6c6c6c"/>
<circle cx="478.2" cy="129.0" r="4.4" fill="#565656"/>
<circle cx="520.9" cy="86.7" r="4.6" fill="#565656"/>
<circle cx="512.2" cy="105.5" r="4.4" fill="#656565"/>
<circle cx="474.9" cy="72.0" r="3.6" fill="#565656"/>
<circle cx="490.8" cy="122.8" r="5.4" fill="#626262"/>
<circle cx="462.7" cy="98.8" r="4.5" fill="#5d5d5d"/>
<circle cx="404.0" cy="48.8" r="5.0" fill="#6a6a6a"/>
<circle cx="451.1" cy="101.4" r="3.6" fill="#6f6f6f"/>
<circle cx="403.7" cy="66.0" r="4.4" fill="#575757"/>
<circle cx="418.6" cy="76.5" r="4.5" fill="#585858"/>
<circle cx="451.1" cy="109.1" r="3.3" fill="#626262"/>
<circle cx="434.0" cy="81.3" r="4.3" fill="#4e4e4e"/>
<circle cx="469.7" cy="71.6" r="4.0" fill="#616161"/>
<circle cx="511.2" cy="32.5" r="5.1" fill="#676767"/>
<circle cx="467.7" cy="31.9" r="5.1" fill="#4d4d4d"/>
<circle cx="440.1" cy="65.4" r="5.2" fill="#6d6d6d"/>
<circle cx="511.7" cy="69.4" r="3.4" fill="#646464"/>
<circle cx="455.2" cy="98.5" r="4.1" fill="#545454"/>
<circle cx="494.5" cy="103.5" r="3.7" fill="#585858"/>
<circle cx="430.3" cy="85.2" r="4.7" fill="#555555"/>
<circle cx="422.1" cy="80.7" r="5.0" fill="#616161"/>
<circle cx="521.1" cy="62.5" r="5.0" fill="#6c6c6c"/>
<circle cx="435.9" cy="116.3" r="4.1" fill="#5f5f5f"/>
<circle cx="412.5" cy="63.9" r="3.2" fill="#525252"/>
<circle cx="510.4" cy="45.9" r="5.1" fill="#565656"/>
<circle cx="477.4" cy="77.5" r="5.1" fill="#6e6e6e"/>
<circle cx="444.6" cy="71.2" r="3.8" fill="#505050"/>
<circle cx="444.2" cy="126.9" r="4.2" fill="#6a6a6a"/>
<circle cx="488.5" cy="56.1" r="5.4" fill="#525252"/>
<circle cx="397.7" cy="125.7" r="4.0" fill="#676767"/>
<circle cx="396.6" cy="50.2" r="5.3" fill="#636363"/>
<circle cx="400.3" cy="93.0" r="4.6" fill="#6e6e6e"/>
<circle cx="457.3" cy="130.9" r="4.3" fill="#4f4f4f"/>
<circle cx="487.5" cy="31.9" r="3.5" fill="#636363"/>
<circle cx="503.1" cy="61.4" r="4.3" fill="#6e6e6e"/>
<circle cx="440.9" cy="29.8" r="5.1" fill="#585858"/>
<circle cx="460.1" cy="52.8" r="4.6" fill="#666666"/>
<circle cx="435.5" cy="78.2" r="3.7" fill="#4f4f4f"/>
<circle cx="514.5" cy="122.8" r="4.3" fill="#6d6d6d"/>
<circle cx="416.0" cy="92.1" r="5.3" fill="#5f5f5f"/>
<circle cx="415.5" cy="100.6" r="4.8" fill="#4d4d4d"/>
<circle cx="462.6" cy="92.4" r="5.0" fill="#5e5e5e"/>
<circle cx="465.8" cy="55.1" r="4.4" fill="#595959"/>
<circle cx="398.5" cy="100.9" r="4.8" fill="#545454"/>
<circle cx="440.2" cy="71.7" r="5.3" fill="#5c5c5c"/>
<circle cx="439.3" cy="132.4" r="3.9" fill="#545454"/>
<circle cx="441.6" cy="71.8" r="4.5" fill="#5a5a5a"/>
<circle cx="491.9" cy="122.5" r="4.6" fill="#6e6e6e"/>
<circle cx="468.1" cy="97.8" r="5.1" fill="#616161"/>
<circle cx="508.3" cy="33.9" r="3.2" fill="#696969"/>
<circle cx="483.8" cy="133.8" r="5.3" fill="#6d6d6d"/>
<circle cx="498.1" cy="85.0" r="5.2" fill="#616161"/>
<circle cx="466.5" cy="93.3" r="4.9" fill="#6f6f6f"/>
<circle cx="467.3" cy="44.1" r="4.2" fill="#5e5e5e"/>
<circle cx="446.9" cy="129.3" r="4.3" fill="#676767"/>
<circle cx="457.9" cy="106.7" r="3.4" fill="#646464"/>
<circle cx="462.8" cy="69.5" r="5.0" fill="#6e6e6e"/>
<circle cx="443.2" cy="97.5" r="5.3" fill="#585858"/>
<circle cx="497.9" cy="85.3" r="4.1" fill="#606060"/>
<circle cx="426.0" cy="83.9" r="5.0" fill="#4c4c4c"/>
<circle cx="505.3" cy="47.6" r="4.1" fill="#5c5c5c"/>
<circle cx="503.1" cy="58.9" r="4.3" fill="#5a5a5a"/>
<circle cx="504.9" cy="125.8" r="4.0" fill="#565656"/>
<circle cx="506.5" cy="38.8" r="3.7" fill="#4f4f4f"/>
<circle cx="516.8" cy="95.6" r="4.5" fill="#5a5a5a"/>
<circle cx="467.3" cy="122.6" r="3.5" fill="#5c5c5c"/>
<circle cx="462.8" cy="110.1" r="4.6" fill="#545454"/>
<circle cx="479.2" cy="26.0" r="3.4" fill="#5e5e5e"/>
<circle cx="439.9" cy="52.0" r="4.9" fill="#707070"/>
<circle cx="402.8" cy="94.6" r="4.7" fill="#656565"/>
<circle cx="396.1" cy="122.6" r="4.2" fill="#636363"/>
<circle cx="446.7" cy="97.1" r="4.0" fill="#696969"/>
<circle cx="437.9" cy="126.0" r="4.1" fill="#5d5d5d"/>
<circle cx="518.2" cy="28.3" r="3.7" fill="#585858"/>
<circle cx="489.6" cy="67.1" r="4.2" fill="#5b5b5b"/>
<circle cx="434.5" cy="57.7" r="3.8" fill="#4f4f4f"/>
<circle cx="395.2" cy="69.8" r="5.1" fill="#585858"/>
<circle cx="405.1" cy="91.5" r="4.5" fill="#575757"/>
<circle cx="516.7" cy="77.4" r="4.8" fill="#505050"/>
<circle cx="497.5" cy="84.4" r="3.8" fill="#6f6f6f"/>
<circle cx="513.8" cy="29.6" r="4.0" fill="#5f5f5f"/>
<circle cx="454.4" cy="47.3" r="3.3" fill="#5a5a5a"/>
<circle cx="508.8" cy="124.6" r="5.1" fill="#535353"/>
<circle cx="412.7" cy="107.9" r="5.1" fill="#626262"/>
<circle cx="496.8" cy="63.9" r="4.7" fill="#6c6c6c"/>
<circle cx="404.5" cy="65.7" r="4.0" fill="#666666"/>
<circle cx="434.4" cy="74.9" r="3.2" fill="#5b5b5b"/>
<circle cx="469.0" cy="112.8" r="3.3" fill="#4c4c4c"/>
<circle cx="408.9" cy="125.6" r="4.4" fill="#686868"/>
<circle cx="435.4" cy="76.6" r="5.1" fill="#686868"/>
<circle cx="440.0" cy="50.6" r="5.1" fill="#656565"/>
<circle cx="494.9" cy="23.6" r="4.7" fill="#4d4d4d"/>
<circle cx="487.6" cy="45.7" r="4.1" fill="#595959"/>
<circle cx="468.3" cy="115.7" r="5.1" fill="#525252"/>
<circle cx="417.6" cy="50.2" r="4.2" fill="#575757"/>
<circle cx="513.0" cy="48.9" r="4.0" fill="#666666"/>
<circle cx="473.5" cy="124.8" r="4.1" fill="#4d4d4d"/>
<circle cx="410.4" cy="52.2" r="3.3" fill="#5e5e5e"/>
<circle cx="476.6" cy="123.2" r="3.6" fill="#666666"/>
<circle cx="436.7" cy="68.7" r="3.3" fill="#4c4c4c"/>
<circle cx="518.2" cy="36.4" r="4.2" fill="#545454"/>
<circle cx="488.7" cy="72.4" r="3.8" fill="#6d6d6d"/>
<circle cx="491.0" cy="65.1" r="3.9" fill="#606060"/>
<circle cx="469.1" cy="60.0" r="3.7" fill="#565656"/>
<circle cx="445.1" cy="41.9" r="3.9" fill="#4e4e4e"/>
<circle cx="416.1" cy="50.6" r="3.5" fill="#686868"/>
<circle cx="449.9" cy="133.0" r="4.6" fill="#6f6f6f"/>
<circle cx="504.6" cy="56.7" r="3.3" fill="#5d5d5d"/>
<circle cx="460.9" cy="85.8" r="4.7" fill="#666666"/>
<circle cx="514.9" cy="108.5" r="5.0" fill="#696969"/>
<circle cx="405.2" cy="44.4" r="5.4" fill="#4c4c4c"/>
<circle cx="409.8" cy="51.2" r="4.7" fill="#595959"/>
<circle cx="479.5" cy="130.1" r="5.3" fill="#6b6b6b"/>
<circle cx="483.0" cy="130.1" r="4.9" fill="#707070"/>
<circle cx="433.7" cy="44.1" r="4.1" fill="#666666"/>
<circle cx="461.7" cy="55.1" r="4.1" fill="#636363"/>
<circle cx="453.6" cy="29.4" r="3.5" fill="#696969"/>
<circle cx="493.6" cy="131.8" r="3.6" fill="#595959"/>
<circle cx="437.5" cy="100.4" r="3.5" fill="#5c5c5c"/>
<circle cx="483.6" cy="125.7" r="3.6" fill="#4d4d4d"/>
<circle cx="462.0" cy="110.9" r="3.4" fill="#4e4e4e"/>
<circle cx="475.4" cy="103.1" r="4.6" fill="#6f6f6f"/>
<circle cx="500.2" cy="83.8" r="3.3" fill="#6a6a6a"/>
<circle cx="458.0" cy="80.3" r="4.8" fill="#555555"/>
<circle cx="469.9" cy="89.1" r="4.6" fill="#646464"/>
<circle cx="458.4" cy="84.5" r="4.7" fill="#656565"/>
<circle cx="519.2" cy="89.1" r="3.9" fill="#626262"/>
<circle cx="414.5" cy="94.8" r="5.1" fill="#6f6f6f"/>
<circle cx="410.6" cy="95.2" r="5.3" fill="#525252"/>
<circle cx="422.5" cy="99.1" r="3.5" fill="#575757"/>
<circle cx="432.9" cy="86.7" r="5.4" fill="#6e6e6e"/>
<circle cx="400.4" cy="77.4" r="3.5" fill="#707070"/>
<circle cx="496.5" cy="97.2" r="3.4" fill="#575757"/>
<circle cx="518.8" cy="133.8" r="3.8" fill="#666666"/>
<circle cx="500.8" cy="92.2" r="4.0" fill="#6f6f6f"/>
<circle cx="521.4" cy="38.2" r="5.2" fill="#656565"/>
<circle cx="497.9" cy="127.4" r="4.1" fill="#5a5a5a"/>
<circle cx="446.2" cy="57.8" r="3.6" fill="#4f4f4f"/>
<circle cx="412.9" cy="131.9" r="4.4" fill="#5e5e5e"/>
<circle cx="399.2" cy="63.1" r="4.3" fill="#575757"/>
<circle cx="464.0" cy="43.8" r="3.3" fill="#6e6e6e"/>
<circle cx="494.2" cy="49.1" r="5.1" fill="#5a5a5a"/>
<circle cx="472.9" cy="79.6" r="5.3" fill="#626262"/>
<circle cx="417.4" cy="124.7" r="4.0" fill="#656565"/>
<circle cx="422.8" cy="89.9" r="5.4" fill="#5a5a5a"/>
<circle cx="497.8" cy="98.8" r="5.3" fill="#545454"/>
<circle cx="439.4" cy="91.9" r="3.6" fill="#676767"/>
<circle cx="405.4" cy="93.9" r="5.2" fill="#5c5c5c"/>
<circle cx="508.7" cy="95.0" r="4.3" fill="#5b5b5b"/>
<circle cx="414.4" cy="86.2" r="5.1" fill="#636363"/>
<circle cx="415.6" cy="124.4" r="3.8" fill="#707070"/>
<circle cx="455.3" cy="64.2" r="4.8" fill="#5c5c5c"/>
<circle cx="486.0" cy="122.4" r="5.4" fill="#575757"/>
<circle cx="468.1" cy="102.0" r="3.2" fill="#555555"/>
<circle cx="424.2" cy="87.0" r="3.3" fill="#505050"/>
<circle cx="466.7" cy="23.2" r="3.8" fill="#6c6c6c"/>
<circle cx="519.2" cy="133.1" r="3.6" fill="#606060"/>
<circle cx="422.3" cy="103.2" r="4.2" fill="#6a6a6a"/>
<circle cx="472.8" cy="97.0" r="5.1" fill="#555555"/>
<circle cx="428.1" cy="107.2" r="4.6" fill="#6d6d6d"/>
<circle cx="414.6" cy="89.9" r="4.7" fill="#5e5e5e"/>
<circle cx="489.8" cy="106.0" r="3.7" fill="#585858"/>
<circle cx="418.7" cy="67.6" r="4.4" fill="#5c5c5c"/>
<circle cx="486.1" cy="29.5" r="3.6" fill="#6a6a6a"/>
<circle cx="446.5" cy="40.6" r="5.3" fill="#525252"/>
<circle cx="470.3" cy="124.8" r="3.3" fill="#6d6d6d"/>
<circle cx="419.4" cy="52.0" r="4.0" fill="#4e4e4e"/>
<circle cx="437.3" cy="74.7" r="4.4" fill="#5d5d5d"/>
<circle cx="518.9" cy="41.6" r="3.3" fill="#5f5f5f"/>
<circle cx="419.1" cy="54.2" r="5.1" fill="#505050"/>
<circle cx="517.8" cy="45.0" r="4.7" fill="#5f5f5f"/>
<circle cx="491.6" cy="38.1" r="5.0" fill="#4d4d4d"/>
<circle cx="459.2" cy="95.8" r="4.7" fill="#565656"/>
<circle cx="422.3" cy="47.9" r="4.0" fill="#696969"/>
<circle cx="472.5" cy="28.4" r="4.1" fill="#4e4e4e"/>
<circle cx="506.5" cy="134.3" r="4.2" fill="#636363"/>
<circle cx="518.8" cy="56.3" r="5.2" fill="#6e6e6e"/>
<circle cx="477.0" cy="99.8" r="4.8" fill="#525252"/>
<circle cx="492.7" cy="46.0" r="4.5" fill="#505050"/>
<circle cx="427.8" cy="95.7" r="4.7" fill="#676767"/>
<circle cx="493.6" cy="111.4" r="4.1" fill="#535353"/>
<circle cx="459.6" cy="36.6" r="3.2" fill="#6e6e6e"/>
<circle cx="456.2" cy="123.1" r="4.5" fill="#6f6f6f"/>
<circle cx="423.6" cy="81.7" r="4.9" fill="#636363"/>
<circle cx="437.5" cy="81.9" r="4.0" fill="#5d5d5d"/>
<circle cx="492.0" cy="33.3" r="3.3" fill="#595959"/>
<circle cx="479.5" cy="39.2" r="3.3" fill="#6c6c6c"/>
<circle cx="466.8" cy="100.5" r="3.5" fill="#6d6d6d"/>
<circle cx="420.8" cy="110.1" r="1.9" fill="#424242"/>
<circle cx="478.8" cy="124.8" r="1.9" fill="#252525"/>
<circle cx="514.5" cy="83.7" r="1.6" fill="#444444"/>
<circle cx="508.0" cy="84.4" r="1.6" fill="#333333"/>
<circle cx="494.9" cy="125.9" r="2.1" fill="#353535"/>
<circle cx="493.5" cy="127.9" r="1.6" fill="#343434"/>
<circle cx="488.6" cy="48.2" r="1.9" fill="#404040"/>
<circle cx="512.4" cy="33.6" r="1.8" fill="#272727"/>
<circle cx="398.3" cy="66.3" r="2.3" fill="#272727"/>
<circle cx="492.2" cy="112.2" r="2.4" fill="#424242"/>
<circle cx="471.7" cy="25.2" r="1.7" fill="#373737"/>
<circle cx="462.7" cy="128.2" r="1.7" fill="#2f2f2f"/>
<circle cx="435.1" cy="134.4" r="1.9" fill="#3e3e3e"/>
<circle cx="429.2" cy="66.3" r="1.7" fill="#232323"/>
<circle cx="408.0" cy="89.4" r="1.9" fill="#373737"/>
<circle cx="521.6" cy="94.1" r="1.6" fill="#3f3f3f"/>
<circle cx="428.0" cy="41.6" r="2.1" fill="#2b2b2b"/>
<circle cx="397.4" cy="51.1" r="1.9" fill="#444444"/>
<circle cx="507.9" cy="123.8" r="2.3" fill="#333333"/>
<circle cx="406.6" cy="63.9" r="1.8" fill="#3d3d3d"/>
<circle cx="401.3" cy="86.7" r="1.9" fill="#222222"/>
<circle cx="404.9" cy="65.8" r="2.0" fill="#2a2a2a"/>
<circle cx="476.2" cy="115.7" r="2.6" fill="#373737"/>
<circle cx="418.2" cy="44.3" r="1.5" fill="#222222"/>
<circle cx="454.4" cy="58.2" r="1.7" fill="#272727"/>
<circle cx="520.6" cy="21.4" r="2.1" fill="#363636"/>
<circle cx="494.3" cy="59.2" r="2.6" fill="#3e3e3e"/>
<circle cx="468.5" cy="126.8" r="2.0" fill="#393939"/>
<circle cx="406.1" cy="99.8" r="2.3" fill="#363636"/>
<circle cx="437.1" cy="56.6" r="1.9" fill="#272727"/>
<circle cx="485.4" cy="108.6" r="2.3" fill="#3c3c3c"/>
<circle cx="435.0" cy="77.6" r="1.8" fill="#414141"/>
<circle cx="519.1" cy="35.5" r="1.8" fill="#393939"/>
<circle cx="495.1" cy="82.8" r="1.8" fill="#2f2f2f"/>
<circle cx="509.8" cy="68.8" r="1.7" fill="#242424"/>
<circle cx="457.7" cy="130.3" r="2.4" fill="#444444"/>
<circle cx="466.3" cy="125.9" r="2.1" fill="#2e2e2e"/>
<circle cx="479.1" cy="48.8" r="2.1" fill="#2e2e2e"/>
<circle cx="427.1" cy="52.3" r="2.0" fill="#303030"/>
<circle cx="499.0" cy="28.9" r="2.0" fill="#424242"/>
<circle cx="408.2" cy="48.1" r="2.2" fill="#353535"/>
<circle cx="442.6" cy="46.4" r="2.6" fill="#363636"/>
<circle cx="469.6" cy="51.8" r="2.3" fill="#343434"/>
<circle cx="501.1" cy="54.1" r="1.7" fill="#272727"/>
<circle cx="468.8" cy="44.9" r="2.0" fill="#3a3a3a"/>
<circle cx="482.1" cy="85.0" r="2.4" fill="#3c3c3c"/>
<circle cx="405.9" cy="111.8" r="2.1" fill="#222222"/>
<circle cx="417.0" cy="110.0" r="2.2" fill="#434343"/>
<circle cx="467.6" cy="48.3" r="2.1" fill="#343434"/>
<circle cx="515.2" cy="74.7" r="2.4" fill="#232323"/>
<circle cx="446.0" cy="90.2" r="2.5" fill="#2b2b2b"/>
<circle cx="469.2" cy="121.3" r="1.6" fill="#242424"/>
<circle cx="467.5" cy="27.2" r="2.3" fill="#404040"/>
<circle cx="453.6" cy="54.4" r="1.8" fill="#414141"/>
<circle cx="488.5" cy="74.9" r="1.6" fill="#2d2d2d"/>
<circle cx="462.7" cy="71.7" r="1.6" fill="#2e2e2e"/>
<circle cx="415.1" cy="96.5" r="2.4" fill="#262626"/>
<circle cx="412.8" cy="55.0" r="2.6" fill="#303030"/>
<circle cx="505.5" cy="66.9" r="2.5" fill="#2b2b2b"/>
<circle cx="399.2" cy="105.9" r="1.5" fill="#242424"/>
<circle cx="459.6" cy="63.2" r="2.3" fill="#424242"/>
<circle cx="461.0" cy="52.8" r="2.1" fill="#414141"/>
<circle cx="475.2" cy="55.5" r="2.2" fill="#222222"/>
<circle cx="514.3" cy="63.9" r="1.5" fill="#414141"/>
<circle cx="406.3" cy="64.3" r="2.4" fill="#3a3a3a"/>
<circle cx="462.4" cy="126.6" r="1.6" fill="#424242"/>
<circle cx="486.9" cy="28.4" r="1.8" fill="#444444"/>
<circle cx="501.6" cy="89.4" r="1.9" fill="#2a2a2a"/>
<circle cx="492.9" cy="119.1" r="2.4" fill="#3c3c3c"/>
<circle cx="423.6" cy="42.7" r="2.1" fill="#434343"/>
<circle cx="478.7" cy="67.7" r="1.5" fill="#282828"/>
<circle cx="452.3" cy="41.4" r="1.8" fill="#313131"/>
<circle cx="484.5" cy="82.8" r="1.6" fill="#343434"/>
<circle cx="477.1" cy="37.3" r="1.8" fill="#323232"/>
<circle cx="510.6" cy="128.1" r="2.4" fill="#444444"/>
<circle cx="502.0" cy="21.5" r="1.9" fill="#414141"/>
<circle cx="484.5" cy="35.4" r="1.5" fill="#292929"/>
<circle cx="431.0" cy="100.0" r="2.0" fill="#323232"/>
<circle cx="450.2" cy="77.1" r="1.7" fill="#232323"/>
<circle cx="508.1" cy="64.4" r="1.9" fill="#333333"/>
<circle cx="501.3" cy="53.9" r="1.7" fill="#404040"/>
<circle cx="490.7" cy="36.2" r="1.6" fill="#414141"/>
<circle cx="468.9" cy="120.2" r="2.0" fill="#444444"/>
<circle cx="439.2" cy="88.7" r="1.7" fill="#252525"/>
<circle cx="465.4" cy="102.3" r="2.4" fill="#262626"/>
<circle cx="511.2" cy="109.3" r="2.2" fill="#333333"/>
<circle cx="458.0" cy="95.4" r="2.0" fill="#2e2e2e"/>
<circle cx="487.3" cy="82.8" r="2.6" fill="#353535"/>
<circle cx="506.4" cy="75.9" r="2.1" fill="#353535"/>
<circle cx="414.6" cy="51.8" r="2.2" fill="#434343"/>
<circle cx="431.2" cy="99.2" r="2.1" fill="#3a3a3a"/>
<circle cx="494.3" cy="35.0" r="1.9" fill="#303030"/>
<circle cx="447.3" cy="71.2" r="1.6" fill="#2c2c2c"/>
<circle cx="447.3" cy="74.7" r="2.5" fill="#292929"/>
<circle cx="487.7" cy="110.2" r="2.2" fill="#343434"/>
<circle cx="441.8" cy="79.6" r="1.7" fill="#3b3b3b"/>
<circle cx="499.1" cy="61.4" r="1.6" fill="#313131"/>
<circle cx="511.3" cy="113.8" r="1.7" fill="#242424"/>
<circle cx="431.6" cy="128.7" r="1.9" fill="#252525"/>
<circle cx="461.6" cy="120.8" r="2.4" fill="#2b2b2b"/>
<circle cx="476.3" cy="91.5" r="1.7" fill="#3f3f3f"/>
<circle cx="498.3" cy="28.4" r="2.5" fill="#3e3e3e"/>
<circle cx="521.5" cy="124.1" r="2.3" fill="#252525"/>
<circle cx="450.4" cy="72.9" r="2.0" fill="#2d2d2d"/>
<circle cx="425.2" cy="122.8" r="2.6" fill="#272727"/>
<circle cx="397.8" cy="122.6" r="2.5" fill="#2a2a2a"/>
<circle cx="509.8" cy="89.3" r="2.1" fill="#343434"/>
<circle cx="407.4" cy="92.1" r="2.3" fill="#3d3d3d"/>
<circle cx="440.8" cy="77.7" r="2.5" fill="#262626"/>
<circle cx="404.7" cy="95.9" r="1.8" fill="#3c3c3c"/>
<circle cx="406.9" cy="122.4" r="1.7" fill="#313131"/>
<circle cx="501.8" cy="106.4" r="1.9" fill="#393939"/>
<circle cx="517.3" cy="106.6" r="2.5" fill="#383838"/>
<circle cx="472.8" cy="42.6" r="2.6" fill="#2b2b2b"/>
<circle cx="442.7" cy="73.6" r="2.4" fill="#242424"/>
<circle cx="458.0" cy="62.5" r="2.3" fill="#404040"/>
<circle cx="513.3" cy="129.3" r="2.3" fill="#2a2a2a"/>
<circle cx="467.2" cy="47.1" r="1.9" fill="#3a3a3a"/>
<circle cx="486.1" cy="61.9" r="1.6" fill="#292929"/>
<circle cx="406.2" cy="112.9" r="2.1" fill="#3b3b3b"/>
<circle cx="484.0" cy="36.6" r="2.2" fill="#232323"/>
<circle cx="454.7" cy="123.5" r="2.3" fill="#434343"/>
<circle cx="463.2" cy="78.3" r="1.8" fill="#353535"/>
<circle cx="456.2" cy="111.5" r="2.1" fill="#2e2e2e"/>
<circle cx="477.2" cy="132.7" r="1.9" fill="#303030"/>
<circle cx="436.5" cy="130.1" r="2.3" fill="#3b3b3b"/>
<circle cx="407.7" cy="133.2" r="2.3" fill="#3a3a3a"/>
<circle cx="457.2" cy="119.7" r="1.6" fill="#404040"/>
<circle cx="455.9" cy="82.3" r="1.7" fill="#323232"/>
<circle cx="506.2" cy="134.2" r="2.4" fill="#333333"/>
<circle cx="422.1" cy="48.6" r="2.6" fill="#262626"/>
<circle cx="507.5" cy="74.6" r="1.8" fill="#323232"/>
<circle cx="450.3" cy="110.3" r="2.0" fill="#313131"/>
<circle cx="453.4" cy="91.5" r="1.9" fill="#414141"/>
<circle cx="519.9" cy="43.5" r="2.2" fill="#333333"/>
<circle cx="418.8" cy="106.6" r="2.5" fill="#373737"/>
<circle cx="509.3" cy="28.1" r="2.2" fill="#2e2e2e"/>
<circle cx="493.5" cy="125.9" r="2.0" fill="#282828"/>
<circle cx="419.6" cy="126.7" r="2.2" fill="#313131"/>
<circle cx="469.7" cy="83.1" r="1.7" fill="#313131"/>
<circle cx="437.8" cy="104.2" r="2.5" fill="#2d2d2d"/>
<circle cx="442.2" cy="112.4" r="2.5" fill="#383838"/>
<circle cx="517.4" cy="103.4" r="2.5" fill="#404040"/>
<circle cx="477.3" cy="103.5" r="2.6" fill="#3e3e3e"/>
<circle cx="430.4" cy="53.9" r="1.7" fill="#252525"/>
<circle cx="478.0" cy="90.4" r="2.0" fill="#343434"/>
<circle cx="465.2" cy="81.5" r="2.5" fill="#383838"/>
<circle cx="452.4" cy="48.4" r="1.9" fill="#222222"/>
<circle cx="456.2" cy="111.4" r="2.4" fill="#3a3a3a"/>
<circle cx="496.2" cy="96.9" r="1.7" fill="#2d2d2d"/>
<circle cx="494.2" cy="92.7" r="2.3" fill="#2b2b2b"/>
<circle cx="466.2" cy="30.8" r="2.0" fill="#434343"/>
<circle cx="447.5" cy="52.6" r="1.8" fill="#3e3e3e"/>
<circle cx="419.3" cy="117.3" r="2.1" fill="#3f3f3f"/>
<circle cx="404.4" cy="116.3" r="2.3" fill="#2a2a2a"/>
<circle cx="446.1" cy="77.2" r="2.6" fill="#383838"/>
<circle cx="439.6" cy="69.6" r="1.9" fill="#383838"/>
<circle cx="413.7" cy="85.4" r="2.0" fill="#3d3d3d"/>
<circle cx="492.5" cy="53.9" r="2.4" fill="#242424"/>
<circle cx="424.8" cy="118.8" r="2.4" fill="#3b3b3b"/>
<circle cx="443.0" cy="63.7" r="1.8" fill="#3c3c3c"/>
<circle cx="496.0" cy="40.0" r="2.0" fill="#2a2a2a"/>
<circle cx="396.9" cy="113.7" r="2.0" fill="#2f2f2f"/>
<circle cx="492.5" cy="58.3" r="1.6" fill="#424242"/>
<circle cx="511.5" cy="26.3" r="1.7" fill="#2e2e2e"/>
<circle cx="425.4" cy="108.8" r="2.2" fill="#434343"/>
<circle cx="514.1" cy="92.9" r="2.3" fill="#373737"/>
<circle cx="484.2" cy="37.6" r="1.8" fill="#3b3b3b"/>
<circle cx="472.0" cy="64.7" r="1.9" fill="#393939"/>
<circle cx="479.5" cy="40.8" r="1.6" fill="#363636"/>
<circle cx="489.0" cy="56.2" r="2.4" fill="#252525"/>
<circle cx="460.7" cy="121.2" r="1.6" fill="#353535"/>
<circle cx="425.5" cy="78.3" r="1.5" fill="#292929"/>
<circle cx="450.7" cy="111.9" r="2.0" fill="#2e2e2e"/>
<circle cx="425.5" cy="87.7" r="2.6" fill="#3f3f3f"/>
<circle cx="410.7" cy="52.3" r="1.8" fill="#383838"/>
<circle cx="405.5" cy="85.3" r="1.7" fill="#333333"/>
<circle cx="468.5" cy="115.2" r="2.2" fill="#2a2a2a"/>
<circle cx="440.4" cy="130.0" r="2.2" fill="#262626"/>
<circle cx="481.1" cy="112.1" r="1.8" fill="#2a2a2a"/>
<circle cx="401.7" cy="51.3" r="1.9" fill="#282828"/>
<circle cx="411.8" cy="85.9" r="2.6" fill="#3a3a3a"/>
<circle cx="461.9" cy="133.1" r="1.9" fill="#393939"/>
<circle cx="417.1" cy="43.7" r="2.2" fill="#2e2e2e"/>
<circle cx="514.1" cy="43.0" r="2.0" fill="#222222"/>
<circle cx="474.9" cy="47.3" r="1.9" fill="#222222"/>
<circle cx="504.7" cy="84.2" r="2.2" fill="#303030"/>
<circle cx="425.0" cy="48.3" r="1.7" fill="#3c3c3c"/>
<circle cx="478.0" cy="109.3" r="2.5" fill="#353535"/>
<circle cx="412.4" cy="45.2" r="2.2" fill="#313131"/>
<circle cx="507.1" cy="117.3" r="1.7" fill="#383838"/>
<circle cx="485.6" cy="56.8" r="2.2" fill="#3c3c3c"/>
<circle cx="513.4" cy="41.5" r="2.1" fill="#272727"/>
<circle cx="464.4" cy="44.8" r="1.8" fill="#3b3b3b"/>
<circle cx="489.5" cy="82.7" r="2.6" fill="#373737"/>
<circle cx="419.2" cy="97.1" r="1.7" fill="#242424"/>
<circle cx="440.0" cy="60.8" r="1.8" fill="#3b3b3b"/>
<circle cx="414.9" cy="121.8" r="2.0" fill="#222222"/>
<circle cx="407.5" cy="76.4" r="2.5" fill="#373737"/>
<circle cx="430.1" cy="84.6" r="2.6" fill="#343434"/>
<circle cx="478.0" cy="56.1" r="2.4" fill="#2f2f2f"/>
<circle cx="419.3" cy="97.6" r="1.9" fill="#353535"/>
<circle cx="498.5" cy="28.3" r="1.9" fill="#252525"/>
<circle cx="495.6" cy="61.1" r="2.5" fill="#262626"/>
<circle cx="504.9" cy="42.6" r="1.6" fill="#232323"/>
<circle cx="398.4" cy="128.8" r="2.3" fill="#2e2e2e"/>
<circle cx="517.1" cy="106.0" r="2.3" fill="#2f2f2f"/>
<circle cx="503.4" cy="62.5" r="2.0" fill="#2a2a2a"/>
<circle cx="424.8" cy="64.8" r="2.1" fill="#2c2c2c"/>
<circle cx="427.1" cy="95.4" r="2.2" fill="#3d3d3d"/>
<circle cx="477.0" cy="117.2" r="2.1" fill="#353535"/>
<circle cx="398.7" cy="73.0" r="1.9" fill="#313131"/>
<circle cx="422.0" cy="41.5" r="1.7" fill="#353535"/>
<circle cx="486.9" cy="130.1" r="1.9" fill="#353535"/>
<circle cx="407.6" cy="121.7" r="1.8" fill="#434343"/>
<circle cx="489.6" cy="88.4" r="1.7" fill="#2d2d2d"/>
<circle cx="437.1" cy="89.2" r="2.3" fill="#2e2e2e"/>
<circle cx="486.6" cy="100.5" r="2.4" fill="#323232"/>
<circle cx="483.7" cy="85.7" r="1.9" fill="#2e2e2e"/>
<circle cx="521.4" cy="54.5" r="1.5" fill="#262626"/>
<circle cx="396.1" cy="107.6" r="1.9" fill="#2c2c2c"/>
<circle cx="516.0" cy="76.8" r="1.8" fill="#303030"/>
<circle cx="406.1" cy="114.5" r="2.5" fill="#2a2a2a"/>
<circle cx="474.0" cy="63.9" r="1.9" fill="#3a3a3a"/>
<circle cx="490.9" cy="131.8" r="1.6" fill="#3a3a3a"/>
<circle cx="431.6" cy="59.0" r="2.5" fill="#252525"/>
<circle cx="399.6" cy="82.5" r="2.0" fill="#414141"/>
<circle cx="472.4" cy="86.8" r="2.0" fill="#333333"/>
<circle cx="441.5" cy="122.5" r="2.5" fill="#2e2e2e"/>
<circle cx="488.1" cy="117.1" r="1.9" fill="#373737"/>
<circle cx="404.1" cy="69.9" r="2.0" fill="#282828"/>
<circle cx="475.9" cy="66.0" r="1.9" fill="#323232"/>
<circle cx="488.3" cy="128.0" r="1.5" fill="#3e3e3e"/>
<circle cx="429.3" cy="126.9" r="2.4" fill="#343434"/>
<circle cx="508.4" cy="107.1" r="1.9" fill="#292929"/>
<circle cx="471.8" cy="51.5" r="1.6" fill="#323232"/>
<circle cx="479.5" cy="74.1" r="2.4" fill="#242424"/>
<circle cx="447.3" cy="123.1" r="2.5" fill="#3a3a3a"/>
<circle cx="443.5" cy="58.7" r="2.2" fill="#2c2c2c"/>
<circle cx="501.0" cy="21.6" r="1.9" fill="#383838"/>
<circle cx="502.3" cy="73.3" r="1.8" fill="#434343"/>
<circle cx="452.2" cy="133.6" r="1.9" fill="#424242"/>
<circle cx="424.5" cy="40.6" r="1.7" fill="#232323"/>
<circle cx="510.1" cy="130.7" r="1.6" fill="#232323"/>
<circle cx="501.9" cy="44.0" r="2.1" fill="#3e3e3e"/>
<circle cx="501.0" cy="85.2" r="2.2" fill="#343434"/>
<circle cx="477.0" cy="130.3" r="2.4" fill="#222222"/>
<circle cx="416.1" cy="116.1" r="2.4" fill="#414141"/>
<circle cx="477.0" cy="28.2" r="2.3" fill="#323232"/>
<circle cx="430.9" cy="25.9" r="2.4" fill="#3d3d3d"/>
<circle cx="511.1" cy="54.3" r="1.8" fill="#3a3a3a"/>
<circle cx="431.9" cy="96.0" r="1.7" fill="#393939"/>
<circle cx="513.2" cy="42.2" r="1.6" fill="#343434"/>
<circle cx="422.0" cy="133.6" r="1.6" fill="#232323"/>
<circle cx="513.7" cy="87.5" r="2.0" fill="#2b2b2b"/>
<circle cx="519.0" cy="95.7" r="1.8" fill="#3f3f3f"/>
<circle cx="434.6" cy="111.9" r="2.0" fill="#353535"/>
<circle cx="467.7" cy="38.8" r="2.0" fill="#323232"/>
<circle cx="465.5" cy="103.7" r="2.2" fill="#272727"/>
<circle cx="468.4" cy="66.0" r="2.1" fill="#2b2b2b"/>
<circle cx="499.0" cy="84.8" r="1.5" fill="#323232"/>
<circle cx="503.1" cy="25.4" r="1.6" fill="#313131"/>
<circle cx="479.2" cy="89.5" r="2.2" fill="#383838"/>
<circle cx="424.8" cy="67.0" r="1.6" fill="#404040"/>
<circle cx="519.4" cy="27.1" r="2.1" fill="#424242"/>
<circle cx="483.0" cy="44.2" r="2.1" fill="#262626"/>
<circle cx="430.8" cy="134.0" r="1.9" fill="#252525"/>
<circle cx="477.7" cy="48.6" r="2.3" fill="#313131"/>
<circle cx="485.8" cy="46.4" r="2.0" fill="#404040"/>
<circle cx="514.9" cy="36.2" r="2.2" fill="#282828"/>
<circle cx="515.9" cy="72.8" r="2.5" fill="#2d2d2d"/>
<circle cx="481.7" cy="94.1" r="2.2" fill="#383838"/>
<circle cx="501.7" cy="82.0" r="2.3" fill="#292929"/>
<circle cx="418.3" cy="87.4" r="2.1" fill="#414141"/>
<circle cx="418.9" cy="65.6" r="2.5" fill="#232323"/>
<circle cx="432.2" cy="115.4" r="2.4" fill="#303030"/>
<circle cx="442.4" cy="124.2" r="1.6" fill="#353535"/>
<circle cx="507.5" cy="120.0" r="2.6" fill="#444444"/>
<circle cx="415.4" cy="66.4" r="1.5" fill="#303030"/>
<circle cx="467.7" cy="66.5" r="1.5" fill="#2c2c2c"/>
<circle cx="416.5" cy="115.0" r="1.5" fill="#424242"/>
<circle cx="402.7" cy="97.4" r="2.5" fill="#3c3c3c"/>
<circle cx="437.8" cy="101.1" r="1.5" fill="#3d3d3d"/>
<circle cx="441.7" cy="73.2" r="2.6" fill="#323232"/>
<circle cx="414.3" cy="117.7" r="1.9" fill="#303030"/>
<circle cx="510.1" cy="101.4" r="2.0" fill="#353535"/>
<circle cx="484.1" cy="66.4" r="1.6" fill="#444444"/>
<circle cx="451.1" cy="131.1" r="2.5" fill="#242424"/>
<circle cx="485.5" cy="32.8" r="1.8" fill="#272727"/>
<circle cx="413.2" cy="134.7" r="2.6" fill="#2f2f2f"/>
<circle cx="487.2" cy="82.6" r="1.5" fill="#242424"/>
<circle cx="475.3" cy="114.7" r="1.6" fill="#222222"/>
<circle cx="440.6" cy="45.1" r="2.6" fill="#303030"/>
<circle cx="515.9" cy="35.1" r="1.8" fill="#303030"/>
<circle cx="513.3" cy="79.8" r="2.2" fill="#2b2b2b"/>
<circle cx="472.0" cy="22.8" r="1.7" fill="#353535"/>
<circle cx="494.9" cy="103.8" r="2.5" fill="#232323"/>
<circle cx="517.9" cy="35.0" r="1.6" fill="#222222"/>
<circle cx="482.0" cy="61.8" r="2.2" fill="#303030"/>
<circle cx="433.9" cy="87.6" r="2.0" fill="#222222"/>
<circle cx="404.6" cy="124.1" r="2.3" fill="#343434"/>
<circle cx="443.0" cy="78.5" r="1.9" fill="#434343"/>
<circle cx="510.0" cy="108.5" r="1.8" fill="#272727"/>
<circle cx="477.2" cy="132.1" r="2.2" fill="#3e3e3e"/>
<circle cx="469.0" cy="31.0" r="2.2" fill="#393939"/>
<circle cx="474.6" cy="86.6" r="2.3" fill="#393939"/>
<circle cx="481.7" cy="114.3" r="2.6" fill="#262626"/>
<circle cx="454.3" cy="107.0" r="2.6" fill="#2f2f2f"/>
<circle cx="519.7" cy="116.6" r="1.9" fill="#343434"/>
<circle cx="455.3" cy="94.3" r="2.4" fill="#272727"/>
<circle cx="475.6" cy="84.7" r="1.8" fill="#313131"/>
<circle cx="482.4" cy="57.4" r="2.6" fill="#333333"/>
<circle cx="439.5" cy="60.1" r="2.4" fill="#2a2a2a"/>
<circle cx="503.0" cy="104.1" r="1.6" fill="#383838"/>
<circle cx="507.5" cy="114.3" r="1.9" fill="#2a2a2a"/>
<circle cx="473.7" cy="113.1" r="2.1" fill="#303030"/>
<circle cx="480.7" cy="80.3" r="2.6" fill="#414141"/>
<circle cx="503.0" cy="128.7" r="2.5" fill="#232323"/>
<circle cx="428.0" cy="77.2" r="2.1" fill="#3f3f3f"/>
<circle cx="501.3" cy="96.2" r="1.5" fill="#2c2c2c"/>
<circle cx="490.1" cy="94.8" r="2.3" fill="#262626"/>
<circle cx="479.4" cy="39.5" r="1.6" fill="#232323"/>
<circle cx="417.2" cy="24.1" r="2.0" fill="#373737"/>
<circle cx="502.8" cy="35.8" r="1.7" fill="#303030"/>
<circle cx="478.2" cy="108.3" r="2.2" fill="#3b3b3b"/>
<circle cx="500.4" cy="134.1" r="2.4" fill="#282828"/>
<circle cx="412.3" cy="91.9" r="2.3" fill="#303030"/>
<circle cx="396.1" cy="70.9" r="1.7" fill="#2e2e2e"/>
<circle cx="414.4" cy="72.1" r="1.7" fill="#373737"/>
<circle cx="417.0" cy="98.9" r="2.1" fill="#252525"/>
<circle cx="421.6" cy="43.8" r="2.4" fill="#333333"/>
<circle cx="509.1" cy="112.4" r="2.0" fill="#404040"/>
<circle cx="447.6" cy="134.2" r="1.6" fill="#393939"/>
<circle cx="486.0" cy="129.1" r="2.3" fill="#444444"/>
<circle cx="405.8" cy="96.3" r="2.1" fill="#323232"/>
<circle cx="459.1" cy="123.6" r="2.0" fill="#2d2d2d"/>
<circle cx="507.9" cy="53.2" r="1.6" fill="#414141"/>
<circle cx="411.1" cy="134.8" r="2.6" fill="#323232"/>
<circle cx="428.6" cy="54.2" r="1.9" fill="#252525"/>
<circle cx="477.8" cy="110.5" r="2.5" fill="#3f3f3f"/>
<circle cx="514.8" cy="130.7" r="2.4" fill="#222222"/>
<circle cx="463.0" cy="107.6" r="2.3" fill="#2c2c2c"/>
<circle cx="513.3" cy="26.2" r="2.3" fill="#2d2d2d"/>
<circle cx="424.4" cy="107.6" r="2.5" fill="#363636"/>
<circle cx="503.1" cy="88.3" r="1.8" fill="#2a2a2a"/>
<circle cx="401.2" cy="53.1" r="2.6" fill="#2a2a2a"/>
<circle cx="432.1" cy="98.0" r="2.0" fill="#2c2c2c"/>
<circle cx="425.9" cy="80.1" r="2.2" fill="#3c3c3c"/>
<circle cx="467.1" cy="80.5" r="1.5" fill="#3c3c3c"/>
<circle cx="460.0" cy="96.7" r="2.1" fill="#272727"/>
<circle cx="462.1" cy="125.6" r="1.7" fill="#363636"/>
<circle cx="509.8" cy="26.8" r="2.2" fill="#2a2a2a"/>
<circle cx="471.6" cy="115.1" r="2.5" fill="#3a3a3a"/>
<circle cx="418.2" cy="83.3" r="1.9" fill="#222222"/>
<circle cx="503.8" cy="70.7" r="2.3" fill="#444444"/>
<circle cx="466.3" cy="51.9" r="2.1" fill="#3f3f3f"/>
<circle cx="454.9" cy="53.1" r="2.2" fill="#242424"/>
<circle cx="500.3" cy="48.3" r="2.5" fill="#282828"/>
<circle cx="438.7" cy="66.2" r="2.4" fill="#414141"/>
<circle cx="456.8" cy="107.1" r="2.1" fill="#424242"/>
<circle cx="506.9" cy="25.2" r="2.1" fill="#2c2c2c"/>
<circle cx="396.7" cy="134.0" r="1.7" fill="#343434"/>
<circle cx="500.2" cy="69.0" r="1.6" fill="#262626"/>
<circle cx="510.7" cy="104.3" r="2.3" fill="#383838"/>
<circle cx="493.9" cy="116.5" r="2.4" fill="#2b2b2b"/>
<circle cx="425.8" cy="63.9" r="2.3" fill="#303030"/>
<circle cx="515.2" cy="31.6" r="1.6" fill="#232323"/>
<circle cx="470.0" cy="90.0" r="2.2" fill="#363636"/>
<circle cx="490.3" cy="63.6" r="1.6" fill="#303030"/>
<circle cx="429.2" cy="70.9" r="1.9" fill="#353535"/>
<circle cx="518.8" cy="82.0" r="1.5" fill="#3b3b3b"/>
<circle cx="520.2" cy="83.2" r="1.7" fill="#292929"/>
<circle cx="480.2" cy="35.3" r="1.6" fill="#3d3d3d"/>
<circle cx="503.6" cy="45.1" r="2.3" fill="#404040"/>
<circle cx="486.9" cy="41.7" r="2.5" fill="#222222"/>
<circle cx="520.7" cy="76.4" r="1.6" fill="#2d2d2d"/>
<circle cx="421.3" cy="85.0" r="2.1" fill="#3d3d3d"/>
<circle cx="491.4" cy="110.6" r="1.5" fill="#434343"/>
<circle cx="515.8" cy="22.3" r="1.7" fill="#353535"/>
<circle cx="429.5" cy="98.8" r="1.5" fill="#343434"/>
<circle cx="503.4" cy="116.7" r="1.5" fill="#2b2b2b"/>
<circle cx="431.6" cy="80.8" r="2.5" fill="#363636"/>
<circle cx="405.3" cy="118.6" r="1.6" fill="#2b2b2b"/>
<circle cx="420.7" cy="90.5" r="1.5" fill="#242424"/>
<circle cx="458.2" cy="123.5" r="1.9" fill="#444444"/>
<circle cx="482.6" cy="37.6" r="1.7" fill="#2e2e2e"/>
<circle cx="453.3" cy="75.2" r="2.5" fill="#404040"/>
<circle cx="518.4" cy="130.1" r="1.9" fill="#404040"/>
<circle cx="429.6" cy="74.6" r="2.3" fill="#292929"/>
<circle cx="521.0" cy="56.5" r="2.0" fill="#3f3f3f"/>
<circle cx="450.2" cy="78.1" r="2.2" fill="#222222"/>
<circle cx="409.8" cy="129.9" r="1.8" fill="#393939"/>
<circle cx="442.1" cy="97.5" r="2.1" fill="#2e2e2e"/>
<circle cx="442.6" cy="102.1" r="2.2" fill="#2c2c2c"/>
<circle cx="407.3" cy="111.2" r="2.2" fill="#2d2d2d"/>
<circle cx="400.0" cy="111.0" r="2.5" fill="#2e2e2e"/>
<circle cx="464.6" cy="85.7" r="2.3" fill="#222222"/>
<circle cx="468.1" cy="38.0" r="1.9" fill="#303030"/>
<circle cx="503.3" cy="110.1" r="1.5" fill="#262626"/>
<circle cx="427.1" cy="120.9" r="1.8" fill="#282828"/>
<circle cx="446.1" cy="78.9" r="1.7" fill="#434343"/>
<circle cx="490.8" cy="112.7" r="1.9" fill="#3f3f3f"/>
<circle cx="458.7" cy="116.7" r="1.7" fill="#3e3e3e"/>
<circle cx="455.2" cy="133.7" r="2.6" fill="#292929"/>
<ellipse cx="455" cy="52" rx="3" ry="2.5" fill="#e6e6e6"/>
<ellipse cx="480" cy="62" rx="2.5" ry="2" fill="#e6e6e6"/>
<ellipse cx="499" cy="66" rx="2" ry="2" fill="#e6e6e6"/>
<ellipse cx="436" cy="81" rx="2.5" ry="2" fill="#e6e6e6"/>
<ellipse cx="468" cy="83" rx="3" ry="2.5" fill="#e6e6e6"/>
<ellipse cx="512" cy="79" rx="2" ry="2" fill="#e6e6e6"/>
<ellipse cx="505" cy="95" rx="4" ry="3" fill="#e6e6e6"/>
<ellipse cx="412" cy="57" rx="3" ry="2" fill="#e6e6e6"/>
<line x1="408.0" y1="34.1" x2="482.0" y2="34.1" stroke="#555" stroke-width="0.8"/>
<line x1="408.0" y1="32.6" x2="408.0" y2="35.6" stroke="#555" stroke-width="0.8"/>
<line x1="482.0" y1="32.6" x2="482.0" y2="35.6" stroke="#555" stroke-width="0.8"/>
<text x="436" y="32" font-size="5" fill="#666">100 µm</text>
</g></g>
<rect x="398.5" y="23.8" width="121" height="108.7" fill="none" stroke="#777" stroke-width="1"/>
<clipPath id="cD"><rect x="521" y="23.3" width="119" height="109.7"/></clipPath>
<g clip-path="url(#cD)"><g filter="url(#bl)">
<rect x="518" y="20.3" width="125" height="115.7" fill="#ebebeb"/>
<circle cx="547.7" cy="30.2" r="0.53" fill="#b8b8b8"/>
<circle cx="619.8" cy="119.7" r="0.59" fill="#b8b8b8"/>
<circle cx="570.6" cy="70.0" r="0.51" fill="#b8b8b8"/>
<circle cx="628.7" cy="56.5" r="0.41" fill="#b8b8b8"/>
<circle cx="593.0" cy="129.3" r="0.37" fill="#b8b8b8"/>
<circle cx="524.6" cy="36.0" r="0.53" fill="#b8b8b8"/>
<circle cx="592.8" cy="43.5" r="0.38" fill="#b8b8b8"/>
<circle cx="591.7" cy="94.2" r="0.58" fill="#b8b8b8"/>
<circle cx="607.7" cy="30.0" r="0.49" fill="#b8b8b8"/>
<circle cx="620.3" cy="128.3" r="0.43" fill="#b8b8b8"/>
<circle cx="622.2" cy="94.1" r="0.67" fill="#b8b8b8"/>
<circle cx="548.3" cy="99.7" r="0.64" fill="#b8b8b8"/>
<circle cx="577.7" cy="34.4" r="0.38" fill="#b8b8b8"/>
<circle cx="539.6" cy="33.5" r="0.36" fill="#b8b8b8"/>
<circle cx="594.3" cy="34.8" r="0.60" fill="#b8b8b8"/>
<circle cx="608.6" cy="112.9" r="0.62" fill="#b8b8b8"/>
<circle cx="605.9" cy="124.7" r="0.68" fill="#b8b8b8"/>
<circle cx="595.4" cy="129.2" r="0.34" fill="#b8b8b8"/>
<circle cx="533.2" cy="30.4" r="0.38" fill="#b8b8b8"/>
<circle cx="565.6" cy="73.6" r="0.57" fill="#b8b8b8"/>
<circle cx="609.4" cy="32.5" r="0.46" fill="#b8b8b8"/>
<circle cx="585.7" cy="64.5" r="0.35" fill="#b8b8b8"/>
<circle cx="592.1" cy="64.4" r="0.57" fill="#b8b8b8"/>
<circle cx="580.0" cy="128.9" r="0.68" fill="#b8b8b8"/>
<circle cx="529.6" cy="106.6" r="0.59" fill="#b8b8b8"/>
<circle cx="556.2" cy="36.1" r="0.49" fill="#b8b8b8"/>
<circle cx="563.1" cy="104.2" r="0.67" fill="#b8b8b8"/>
<circle cx="566.5" cy="55.2" r="0.50" fill="#b8b8b8"/>
<circle cx="603.9" cy="109.9" r="0.53" fill="#b8b8b8"/>
<circle cx="556.2" cy="60.3" r="0.64" fill="#b8b8b8"/>
<circle cx="582.8" cy="28.8" r="0.47" fill="#b8b8b8"/>
<circle cx="549.3" cy="96.4" r="0.33" fill="#b8b8b8"/>
<circle cx="553.3" cy="33.8" r="0.49" fill="#b8b8b8"/>
<circle cx="638.2" cy="82.7" r="0.45" fill="#b8b8b8"/>
<circle cx="632.1" cy="33.4" r="0.44" fill="#b8b8b8"/>
<circle cx="617.5" cy="23.9" r="0.61" fill="#b8b8b8"/>
<circle cx="564.0" cy="25.1" r="0.40" fill="#b8b8b8"/>
<circle cx="575.5" cy="65.3" r="0.51" fill="#b8b8b8"/>
<circle cx="527.3" cy="47.3" r="0.69" fill="#b8b8b8"/>
<circle cx="573.7" cy="75.1" r="0.33" fill="#b8b8b8"/>
<circle cx="554.2" cy="128.0" r="0.57" fill="#b8b8b8"/>
<circle cx="581.4" cy="29.1" r="0.46" fill="#b8b8b8"/>
<circle cx="613.6" cy="71.0" r="0.54" fill="#b8b8b8"/>
<circle cx="628.4" cy="94.1" r="0.55" fill="#b8b8b8"/>
<circle cx="525.3" cy="25.9" r="0.61" fill="#b8b8b8"/>
<circle cx="570.2" cy="119.2" r="0.63" fill="#b8b8b8"/>
<circle cx="629.9" cy="64.8" r="0.70" fill="#b8b8b8"/>
<circle cx="611.0" cy="121.1" r="0.36" fill="#b8b8b8"/>
<circle cx="613.9" cy="69.6" r="0.69" fill="#b8b8b8"/>
<circle cx="639.3" cy="47.1" r="0.47" fill="#b8b8b8"/>
<circle cx="553.2" cy="74.8" r="0.41" fill="#b8b8b8"/>
<circle cx="600.3" cy="36.8" r="0.37" fill="#b8b8b8"/>
<circle cx="575.5" cy="31.4" r="0.45" fill="#b8b8b8"/>
<circle cx="627.8" cy="120.4" r="0.38" fill="#b8b8b8"/>
<circle cx="523.2" cy="114.2" r="0.68" fill="#b8b8b8"/>
<circle cx="592.3" cy="38.3" r="0.39" fill="#b8b8b8"/>
<circle cx="630.5" cy="126.2" r="0.31" fill="#b8b8b8"/>
<circle cx="543.0" cy="70.4" r="0.41" fill="#b8b8b8"/>
<circle cx="610.7" cy="64.2" r="0.61" fill="#b8b8b8"/>
<circle cx="539.1" cy="80.2" r="0.69" fill="#b8b8b8"/>
<circle cx="604.5" cy="33.2" r="0.34" fill="#b8b8b8"/>
<circle cx="597.6" cy="64.4" r="0.45" fill="#b8b8b8"/>
<circle cx="577.8" cy="87.1" r="0.69" fill="#b8b8b8"/>
<circle cx="549.7" cy="85.7" r="0.41" fill="#b8b8b8"/>
<circle cx="585.9" cy="103.5" r="0.35" fill="#b8b8b8"/>
<circle cx="578.3" cy="100.7" r="0.30" fill="#b8b8b8"/>
<circle cx="612.8" cy="69.2" r="0.50" fill="#b8b8b8"/>
<circle cx="593.7" cy="110.3" r="0.32" fill="#b8b8b8"/>
<circle cx="580.6" cy="27.5" r="0.45" fill="#b8b8b8"/>
<circle cx="562.1" cy="25.6" r="0.42" fill="#b8b8b8"/>
<circle cx="574.6" cy="95.1" r="0.67" fill="#b8b8b8"/>
<circle cx="565.1" cy="81.4" r="0.59" fill="#b8b8b8"/>
<circle cx="632.5" cy="127.5" r="0.70" fill="#b8b8b8"/>
<circle cx="556.9" cy="41.6" r="0.67" fill="#b8b8b8"/>
<circle cx="530.2" cy="72.5" r="0.59" fill="#b8b8b8"/>
<circle cx="583.9" cy="65.9" r="0.67" fill="#b8b8b8"/>
<circle cx="556.6" cy="83.8" r="0.63" fill="#b8b8b8"/>
<circle cx="537.4" cy="61.8" r="0.50" fill="#b8b8b8"/>
<circle cx="588.3" cy="46.0" r="0.48" fill="#b8b8b8"/>
<circle cx="528.1" cy="32.9" r="0.44" fill="#b8b8b8"/>
<circle cx="538.1" cy="129.4" r="0.41" fill="#b8b8b8"/>
<circle cx="553.8" cy="109.3" r="0.60" fill="#b8b8b8"/>
<circle cx="552.2" cy="114.3" r="0.55" fill="#b8b8b8"/>
<circle cx="567.2" cy="92.3" r="0.40" fill="#b8b8b8"/>
<circle cx="552.3" cy="119.5" r="0.48" fill="#b8b8b8"/>
<circle cx="627.8" cy="42.7" r="0.35" fill="#b8b8b8"/>
<circle cx="527.2" cy="104.4" r="0.52" fill="#b8b8b8"/>
<circle cx="522.1" cy="28.0" r="0.63" fill="#b8b8b8"/>
<circle cx="579.8" cy="118.9" r="0.32" fill="#b8b8b8"/>
<circle cx="591.1" cy="36.2" r="0.59" fill="#b8b8b8"/>
<circle cx="593.7" cy="90.4" r="0.39" fill="#b8b8b8"/>
<circle cx="633.9" cy="35.5" r="0.33" fill="#b8b8b8"/>
<circle cx="602.4" cy="33.5" r="0.33" fill="#b8b8b8"/>
<circle cx="575.8" cy="94.5" r="0.66" fill="#b8b8b8"/>
<circle cx="606.8" cy="30.9" r="0.56" fill="#b8b8b8"/>
<circle cx="621.4" cy="36.5" r="0.60" fill="#b8b8b8"/>
<circle cx="551.8" cy="56.1" r="0.30" fill="#b8b8b8"/>
<circle cx="611.2" cy="79.9" r="0.66" fill="#b8b8b8"/>
<circle cx="576.4" cy="40.3" r="0.39" fill="#b8b8b8"/>
<circle cx="552.3" cy="127.2" r="0.38" fill="#b8b8b8"/>
<circle cx="531.5" cy="62.0" r="0.33" fill="#b8b8b8"/>
<circle cx="571.6" cy="91.5" r="0.56" fill="#b8b8b8"/>
<circle cx="541.8" cy="38.5" r="0.50" fill="#b8b8b8"/>
<circle cx="602.8" cy="72.4" r="0.53" fill="#b8b8b8"/>
<circle cx="629.5" cy="39.2" r="0.41" fill="#b8b8b8"/>
<circle cx="579.8" cy="82.1" r="0.66" fill="#b8b8b8"/>
<circle cx="587.1" cy="96.0" r="0.47" fill="#b8b8b8"/>
<circle cx="614.3" cy="115.0" r="0.42" fill="#b8b8b8"/>
<circle cx="533.8" cy="51.7" r="0.44" fill="#b8b8b8"/>
<circle cx="626.9" cy="52.3" r="0.55" fill="#b8b8b8"/>
<circle cx="597.2" cy="128.2" r="0.35" fill="#b8b8b8"/>
<circle cx="612.6" cy="60.2" r="0.34" fill="#b8b8b8"/>
<circle cx="596.2" cy="115.9" r="0.53" fill="#b8b8b8"/>
<circle cx="526.9" cy="129.9" r="0.45" fill="#b8b8b8"/>
<circle cx="596.7" cy="102.7" r="0.40" fill="#b8b8b8"/>
<circle cx="569.6" cy="59.4" r="0.34" fill="#b8b8b8"/>
<circle cx="528.7" cy="101.9" r="0.46" fill="#b8b8b8"/>
<circle cx="624.5" cy="30.2" r="0.42" fill="#b8b8b8"/>
<circle cx="542.4" cy="126.8" r="0.62" fill="#b8b8b8"/>
<circle cx="627.7" cy="78.8" r="0.34" fill="#b8b8b8"/>
<circle cx="570.5" cy="48.1" r="0.31" fill="#b8b8b8"/>
<circle cx="588.2" cy="55.1" r="0.34" fill="#b8b8b8"/>
<circle cx="581.9" cy="125.7" r="0.68" fill="#b8b8b8"/>
<circle cx="576.5" cy="34.6" r="0.61" fill="#b8b8b8"/>
<circle cx="534.7" cy="82.3" r="0.33" fill="#b8b8b8"/>
<circle cx="638.5" cy="82.8" r="0.47" fill="#b8b8b8"/>
<circle cx="553.4" cy="83.7" r="0.69" fill="#b8b8b8"/>
<circle cx="571.9" cy="46.3" r="0.51" fill="#b8b8b8"/>
<circle cx="630.3" cy="65.2" r="0.55" fill="#b8b8b8"/>
<circle cx="630.3" cy="59.0" r="0.62" fill="#b8b8b8"/>
<circle cx="584.0" cy="38.6" r="0.32" fill="#b8b8b8"/>
<circle cx="632.7" cy="74.4" r="0.48" fill="#b8b8b8"/>
<circle cx="630.2" cy="86.3" r="0.50" fill="#b8b8b8"/>
<circle cx="554.8" cy="104.9" r="0.40" fill="#b8b8b8"/>
<circle cx="577.0" cy="106.5" r="0.54" fill="#b8b8b8"/>
<circle cx="537.0" cy="45.5" r="0.58" fill="#b8b8b8"/>
<circle cx="607.8" cy="34.6" r="0.70" fill="#b8b8b8"/>
<circle cx="536.9" cy="41.7" r="0.34" fill="#b8b8b8"/>
<circle cx="574.1" cy="91.3" r="0.64" fill="#b8b8b8"/>
<circle cx="540.4" cy="100.0" r="0.34" fill="#b8b8b8"/>
<circle cx="590.1" cy="50.9" r="0.44" fill="#b8b8b8"/>
<circle cx="527.2" cy="102.4" r="0.35" fill="#b8b8b8"/>
<circle cx="611.9" cy="60.2" r="0.54" fill="#b8b8b8"/>
<circle cx="597.1" cy="76.9" r="0.65" fill="#b8b8b8"/>
<circle cx="630.4" cy="54.2" r="0.43" fill="#b8b8b8"/>
<circle cx="625.4" cy="37.9" r="0.47" fill="#b8b8b8"/>
<circle cx="570.3" cy="130.4" r="0.35" fill="#b8b8b8"/>
<circle cx="599.0" cy="106.3" r="0.59" fill="#b8b8b8"/>
<circle cx="521.1" cy="126.8" r="0.42" fill="#b8b8b8"/>
<circle cx="622.5" cy="95.8" r="0.47" fill="#b8b8b8"/>
<circle cx="620.7" cy="97.4" r="0.44" fill="#b8b8b8"/>
<circle cx="608.1" cy="78.7" r="0.58" fill="#b8b8b8"/>
<circle cx="594.1" cy="110.6" r="0.36" fill="#b8b8b8"/>
<circle cx="579.9" cy="23.4" r="0.62" fill="#b8b8b8"/>
<circle cx="612.8" cy="115.1" r="0.32" fill="#b8b8b8"/>
<circle cx="584.7" cy="75.8" r="0.35" fill="#b8b8b8"/>
<circle cx="545.1" cy="130.2" r="0.64" fill="#b8b8b8"/>
<circle cx="549.3" cy="114.3" r="0.56" fill="#b8b8b8"/>
<circle cx="566.8" cy="94.0" r="0.39" fill="#b8b8b8"/>
<circle cx="553.6" cy="24.4" r="0.56" fill="#b8b8b8"/>
<circle cx="590.2" cy="104.9" r="0.50" fill="#b8b8b8"/>
<circle cx="572.7" cy="56.9" r="0.59" fill="#b8b8b8"/>
<circle cx="565.4" cy="88.8" r="0.60" fill="#b8b8b8"/>
<circle cx="573.9" cy="98.6" r="0.32" fill="#b8b8b8"/>
<circle cx="552.0" cy="115.5" r="0.36" fill="#b8b8b8"/>
<circle cx="527.8" cy="24.9" r="0.61" fill="#b8b8b8"/>
<circle cx="533.6" cy="73.6" r="0.48" fill="#b8b8b8"/>
<circle cx="616.5" cy="75.6" r="0.51" fill="#b8b8b8"/>
<circle cx="524.0" cy="110.5" r="0.61" fill="#b8b8b8"/>
<circle cx="595.2" cy="114.9" r="0.55" fill="#b8b8b8"/>
<ellipse cx="546" cy="78" rx="9" ry="15" fill="#dadada" opacity="0.8" filter="url(#bl2)"/>
<circle cx="621" cy="44.2" r="1.8" fill="#1a1a1a"/>
<circle cx="623.9" cy="45.8" r="1.8" fill="#1a1a1a"/>
<circle cx="555.6" cy="109.6" r="1.8" fill="#1a1a1a"/>
<circle cx="558.4" cy="108.7" r="1.8" fill="#1a1a1a"/>
<circle cx="562.5" cy="107.1" r="1.8" fill="#1a1a1a"/>
<circle cx="606.7" cy="110.4" r="1.8" fill="#1a1a1a"/>
<circle cx="568.2" cy="123.9" r="1.8" fill="#1a1a1a"/>
<circle cx="594.4" cy="120.2" r="1.8" fill="#1a1a1a"/>
<circle cx="533.1" cy="130" r="1.8" fill="#1a1a1a"/>
<line x1="531.0" y1="34.0" x2="604.0" y2="34.0" stroke="#777" stroke-width="0.8"/>
<line x1="531.0" y1="32.5" x2="531.0" y2="35.5" stroke="#777" stroke-width="0.8"/>
<line x1="604.0" y1="32.5" x2="604.0" y2="35.5" stroke="#777" stroke-width="0.8"/>
<text x="567" y="31.5" font-size="5" fill="#888">100 µm</text>
</g></g>
<rect x="521.5" y="23.8" width="118" height="108.7" fill="none" stroke="#777" stroke-width="1"/>
<text x="2.5" y="162.0" font-size="17" font-weight="bold" text-anchor="start" fill="#000">b</text>
<text x="265.2" y="164.9" font-size="13.3" font-style="italic" text-anchor="start" fill="#000" textLength="96.4" lengthAdjust="spacingAndGlyphs">DOX treatment</text>
<line x1="48.0" y1="171.5" x2="620.0" y2="171.5" stroke="#333" stroke-width="1"/>
<line x1="48.0" y1="298.5" x2="285.7" y2="298.5" stroke="#333" stroke-width="1"/>
<line x1="362.5" y1="298.5" x2="620.0" y2="298.5" stroke="#333" stroke-width="1"/>
<text x="297.2" y="303.0" font-size="13.5" text-anchor="start" fill="#000" textLength="51.4" lengthAdjust="spacingAndGlyphs">Time (d)</text>
<text transform="translate(9.4,237.5) rotate(-90)" font-size="11.2" font-weight="bold" text-anchor="middle" textLength="78" lengthAdjust="spacingAndGlyphs">Cycle Stages</text>
<text x="45.3" y="207.1" font-size="11.3" text-anchor="end" fill="#000" textLength="19.0" lengthAdjust="spacingAndGlyphs">DIE</text>
<text x="45.3" y="228.9" font-size="11.3" text-anchor="end" fill="#000" textLength="24.9" lengthAdjust="spacingAndGlyphs">MET</text>
<text x="45.3" y="249.5" font-size="11.3" text-anchor="end" fill="#000" textLength="24.0" lengthAdjust="spacingAndGlyphs">EST</text>
<text x="45.3" y="269.1" font-size="11.3" text-anchor="end" fill="#000" textLength="25.4" lengthAdjust="spacingAndGlyphs">PRO</text>
<text x="52.0" y="190.2" font-size="11.6" text-anchor="start" fill="#000" textLength="26.0" lengthAdjust="spacingAndGlyphs">PRO</text>
<rect x="48.6" y="194.5" width="138.8" height="81.5" fill="none" stroke="#555" stroke-width="1.1"/>
<line x1="48.6" y1="265.1" x2="51.4" y2="265.1" stroke="#777" stroke-width="1"/>
<line x1="48.6" y1="245.0" x2="51.4" y2="245.0" stroke="#777" stroke-width="1"/>
<line x1="48.6" y1="224.9" x2="51.4" y2="224.9" stroke="#777" stroke-width="1"/>
<line x1="48.6" y1="204.8" x2="51.4" y2="204.8" stroke="#777" stroke-width="1"/>
<text x="48.6" y="287.8" font-size="10.2" text-anchor="middle" fill="#000">0</text>
<line x1="79.6" y1="276.0" x2="79.6" y2="272.5" stroke="#555" stroke-width="1"/>
<text x="79.6" y="287.8" font-size="10.2" text-anchor="middle" fill="#000">3</text>
<line x1="110.5" y1="276.0" x2="110.5" y2="272.5" stroke="#555" stroke-width="1"/>
<text x="110.5" y="287.8" font-size="10.2" text-anchor="middle" fill="#000">6</text>
<line x1="141.5" y1="276.0" x2="141.5" y2="272.5" stroke="#555" stroke-width="1"/>
<text x="141.5" y="287.8" font-size="10.2" text-anchor="middle" fill="#000">9</text>
<line x1="172.4" y1="276.0" x2="172.4" y2="272.5" stroke="#555" stroke-width="1"/>
<text x="172.4" y="287.8" font-size="10.2" text-anchor="middle" fill="#000">12</text>
<polyline points="48.6,265.1 79.6,204.8 89.9,265.1 120.8,204.8 131.2,265.1 162.1,204.8 172.4,265.1 182.8,245.0" fill="none" stroke="#000" stroke-width="1.7" stroke-linejoin="miter"/>
<polyline points="48.6,265.1 79.6,204.8 89.9,204.8 100.2,265.1 131.2,204.8 182.8,204.8" fill="none" stroke="#0000ff" stroke-width="1.7" stroke-linejoin="miter" stroke-dasharray="1.4 2.6"/>
<polyline points="48.6,265.1 79.6,204.8 182.8,204.8" fill="none" stroke="#ff0000" stroke-width="2.0" stroke-linejoin="miter" stroke-dasharray="4.2 2.8"/>
<line x1="80.1" y1="194.5" x2="80.1" y2="198.0" stroke="#000" stroke-width="1.2"/>
<path d="M77.3 197.3 L82.9 197.3 L80.1 203.3 Z" fill="#000"/>
<text x="194.0" y="190.2" font-size="11.6" text-anchor="start" fill="#000" textLength="23.4" lengthAdjust="spacingAndGlyphs">EST</text>
<rect x="192.6" y="194.5" width="138.8" height="81.5" fill="none" stroke="#555" stroke-width="1.1"/>
<line x1="192.6" y1="265.1" x2="195.4" y2="265.1" stroke="#777" stroke-width="1"/>
<line x1="192.6" y1="245.0" x2="195.4" y2="245.0" stroke="#777" stroke-width="1"/>
<line x1="192.6" y1="224.9" x2="195.4" y2="224.9" stroke="#777" stroke-width="1"/>
<line x1="192.6" y1="204.8" x2="195.4" y2="204.8" stroke="#777" stroke-width="1"/>
<text x="192.6" y="287.8" font-size="10.2" text-anchor="middle" fill="#000">0</text>
<line x1="223.6" y1="276.0" x2="223.6" y2="272.5" stroke="#555" stroke-width="1"/>
<text x="223.6" y="287.8" font-size="10.2" text-anchor="middle" fill="#000">3</text>
<line x1="254.5" y1="276.0" x2="254.5" y2="272.5" stroke="#555" stroke-width="1"/>
<text x="254.5" y="287.8" font-size="10.2" text-anchor="middle" fill="#000">6</text>
<line x1="285.5" y1="276.0" x2="285.5" y2="272.5" stroke="#555" stroke-width="1"/>
<text x="285.5" y="287.8" font-size="10.2" text-anchor="middle" fill="#000">9</text>
<line x1="316.4" y1="276.0" x2="316.4" y2="272.5" stroke="#555" stroke-width="1"/>
<text x="316.4" y="287.8" font-size="10.2" text-anchor="middle" fill="#000">12</text>
<polyline points="192.6,245.0 213.2,204.8 223.6,265.1 254.5,204.8 264.8,265.1 295.8,204.8 306.1,265.1 326.8,224.9" fill="none" stroke="#000" stroke-width="1.7" stroke-linejoin="miter"/>
<polyline points="192.6,245.0 213.2,204.8 223.6,265.1 254.5,204.8 264.8,204.8 275.2,224.9 283.4,204.8 326.8,204.8" fill="none" stroke="#0000ff" stroke-width="1.7" stroke-linejoin="miter" stroke-dasharray="1.4 2.6"/>
<polyline points="192.6,245.0 213.2,204.8 223.6,265.1 226.1,255.1 228.7,245.0 231.3,233.9 233.9,224.9 237.0,215.9 240.1,208.8 244.2,204.8 326.8,204.8" fill="none" stroke="#ff0000" stroke-width="2.0" stroke-linejoin="miter" stroke-dasharray="4.2 2.8"/>
<line x1="246.3" y1="194.5" x2="246.3" y2="198.0" stroke="#000" stroke-width="1.2"/>
<path d="M243.5 197.3 L249.1 197.3 L246.3 203.3 Z" fill="#000"/>
<text x="338.8" y="190.2" font-size="11.6" text-anchor="start" fill="#000" textLength="24.8" lengthAdjust="spacingAndGlyphs">MET</text>
<rect x="336.6" y="194.5" width="138.9" height="81.5" fill="none" stroke="#555" stroke-width="1.1"/>
<line x1="336.6" y1="265.1" x2="339.4" y2="265.1" stroke="#777" stroke-width="1"/>
<line x1="336.6" y1="245.0" x2="339.4" y2="245.0" stroke="#777" stroke-width="1"/>
<line x1="336.6" y1="224.9" x2="339.4" y2="224.9" stroke="#777" stroke-width="1"/>
<line x1="336.6" y1="204.8" x2="339.4" y2="204.8" stroke="#777" stroke-width="1"/>
<text x="336.6" y="287.8" font-size="10.2" text-anchor="middle" fill="#000">0</text>
<line x1="367.6" y1="276.0" x2="367.6" y2="272.5" stroke="#555" stroke-width="1"/>
<text x="367.6" y="287.8" font-size="10.2" text-anchor="middle" fill="#000">3</text>
<line x1="398.5" y1="276.0" x2="398.5" y2="272.5" stroke="#555" stroke-width="1"/>
<text x="398.5" y="287.8" font-size="10.2" text-anchor="middle" fill="#000">6</text>
<line x1="429.5" y1="276.0" x2="429.5" y2="272.5" stroke="#555" stroke-width="1"/>
<text x="429.5" y="287.8" font-size="10.2" text-anchor="middle" fill="#000">9</text>
<line x1="460.4" y1="276.0" x2="460.4" y2="272.5" stroke="#555" stroke-width="1"/>
<text x="460.4" y="287.8" font-size="10.2" text-anchor="middle" fill="#000">12</text>
<polyline points="336.6,224.9 346.9,204.8 357.2,265.1 388.2,204.8 398.5,265.1 429.5,204.8 439.8,265.1 470.8,204.8" fill="none" stroke="#000" stroke-width="1.7" stroke-linejoin="miter"/>
<polyline points="336.6,224.9 346.9,204.8 357.2,265.1 377.9,224.9 389.2,224.9 398.5,204.8 470.8,204.8" fill="none" stroke="#0000ff" stroke-width="1.7" stroke-linejoin="miter" stroke-dasharray="1.4 2.6"/>
<polyline points="336.6,224.9 346.9,204.8 357.2,265.1 377.9,224.9 389.2,224.9 398.5,204.8 470.8,204.8" fill="none" stroke="#ff0000" stroke-width="2.0" stroke-linejoin="miter" stroke-dasharray="4.2 2.8"/>
<line x1="398.0" y1="194.5" x2="398.0" y2="198.0" stroke="#000" stroke-width="1.2"/>
<path d="M395.2 197.3 L400.8 197.3 L398.0 203.3 Z" fill="#000"/>
<text x="481.1" y="190.2" font-size="11.6" text-anchor="start" fill="#000" textLength="18.4" lengthAdjust="spacingAndGlyphs">DIE</text>
<rect x="481.2" y="194.5" width="139.3" height="81.5" fill="none" stroke="#555" stroke-width="1.1"/>
<line x1="481.2" y1="265.1" x2="484.0" y2="265.1" stroke="#777" stroke-width="1"/>
<line x1="481.2" y1="245.0" x2="484.0" y2="245.0" stroke="#777" stroke-width="1"/>
<line x1="481.2" y1="224.9" x2="484.0" y2="224.9" stroke="#777" stroke-width="1"/>
<line x1="481.2" y1="204.8" x2="484.0" y2="204.8" stroke="#777" stroke-width="1"/>
<text x="481.2" y="287.8" font-size="10.2" text-anchor="middle" fill="#000">0</text>
<line x1="512.2" y1="276.0" x2="512.2" y2="272.5" stroke="#555" stroke-width="1"/>
<text x="512.2" y="287.8" font-size="10.2" text-anchor="middle" fill="#000">3</text>
<line x1="543.1" y1="276.0" x2="543.1" y2="272.5" stroke="#555" stroke-width="1"/>
<text x="543.1" y="287.8" font-size="10.2" text-anchor="middle" fill="#000">6</text>
<line x1="574.1" y1="276.0" x2="574.1" y2="272.5" stroke="#555" stroke-width="1"/>
<text x="574.1" y="287.8" font-size="10.2" text-anchor="middle" fill="#000">9</text>
<line x1="605.0" y1="276.0" x2="605.0" y2="272.5" stroke="#555" stroke-width="1"/>
<text x="605.0" y="287.8" font-size="10.2" text-anchor="middle" fill="#000">12</text>
<polyline points="481.2,204.8 491.5,265.1 522.5,204.8 532.8,265.1 563.8,204.8 574.1,265.1 605.0,204.8 615.4,265.1" fill="none" stroke="#000" stroke-width="1.7" stroke-linejoin="miter"/>
<polyline points="481.2,204.8 491.5,265.1 522.5,204.8 532.8,265.1 543.1,224.9 553.4,245.0 563.8,204.8 615.4,204.8" fill="none" stroke="#0000ff" stroke-width="1.7" stroke-linejoin="miter" stroke-dasharray="1.4 2.6"/>
<polyline points="481.2,204.8 491.5,265.1 501.8,245.0 512.2,245.0 532.8,204.8 543.1,265.1 553.4,224.9 563.8,224.9 574.1,204.8 615.4,204.8" fill="none" stroke="#ff0000" stroke-width="2.0" stroke-linejoin="miter" stroke-dasharray="4.2 2.8"/>
<line x1="574.1" y1="194.5" x2="574.1" y2="198.0" stroke="#000" stroke-width="1.2"/>
<path d="M571.3 197.3 L576.9 197.3 L574.1 203.3 Z" fill="#000"/>
<line x1="631.0" y1="197.2" x2="644.0" y2="197.2" stroke="#000" stroke-width="1.8"/>
<text x="651.1" y="201.5" font-size="11.3" text-anchor="start" fill="#000" textLength="32.9" lengthAdjust="spacingAndGlyphs">Saline</text>
<line x1="629.6" y1="219.2" x2="643.2" y2="219.2" stroke="#ff0000" stroke-width="2.4" stroke-dasharray="5.4 2.5"/>
<text x="649.9" y="224.0" font-size="11.3" text-anchor="start" fill="#000" textLength="24.5" lengthAdjust="spacingAndGlyphs">DOX</text>
<line x1="628.1" y1="250.6" x2="641.0" y2="250.6" stroke="#0000ff" stroke-width="1.6" stroke-dasharray="1.4 2.4"/>
<text x="649.9" y="248.9" font-size="11.3" text-anchor="start" fill="#000" textLength="34.1" lengthAdjust="spacingAndGlyphs">DOX +</text>
<text x="649.9" y="262.7" font-size="11.3" text-anchor="start" fill="#000" textLength="22.9" lengthAdjust="spacingAndGlyphs">DRZ</text>
<text x="2.3" y="327.8" font-size="17" font-weight="bold" text-anchor="start" fill="#000">c</text>
<line x1="69.2" y1="324.6" x2="84.3" y2="324.6" stroke="#000" stroke-width="1.5"/>
<circle cx="76.8" cy="324.6" r="3.7" fill="#000"/>
<text x="92.7" y="328.8" font-size="10.6" text-anchor="start" fill="#000" textLength="30.3" lengthAdjust="spacingAndGlyphs">Saline</text>
<line x1="132.5" y1="324.6" x2="147.0" y2="324.6" stroke="#000" stroke-width="1.5"/>
<rect x="135.2" y="320.8" width="8.7" height="7.8" fill="#000"/>
<text x="156.0" y="328.8" font-size="10.6" text-anchor="start" fill="#000" textLength="23.0" lengthAdjust="spacingAndGlyphs">DOX</text>
<line x1="194.5" y1="324.6" x2="209.0" y2="324.6" stroke="#000" stroke-width="1.5"/>
<rect x="197.3" y="321.4" width="8.5" height="6.6" fill="#fff" stroke="#000" stroke-width="1.6"/>
<line x1="194.5" y1="324.6" x2="209.0" y2="324.6" stroke="#000" stroke-width="1.5"/>
<text x="217.6" y="328.8" font-size="10.6" text-anchor="start" fill="#000" textLength="59.4" lengthAdjust="spacingAndGlyphs">DOX + DRZ</text>
<text transform="translate(37.3,413.5) rotate(-90)" font-size="11.4" font-weight="bold" text-anchor="middle" textLength="111" lengthAdjust="spacingAndGlyphs">Tumor Volume (cm<tspan font-size="8" dy="-4.5">3</tspan><tspan dy="4.5">)</tspan></text>
<line x1="62.0" y1="344.5" x2="62.0" y2="484.2" stroke="#000" stroke-width="1.8"/>
<line x1="61.1" y1="483.4" x2="186.8" y2="483.4" stroke="#000" stroke-width="1.8"/>
<line x1="62.0" y1="483.4" x2="64.6" y2="483.4" stroke="#000" stroke-width="1.5"/>
<line x1="62.0" y1="455.6" x2="64.6" y2="455.6" stroke="#000" stroke-width="1.5"/>
<line x1="62.0" y1="427.9" x2="64.6" y2="427.9" stroke="#000" stroke-width="1.5"/>
<line x1="62.0" y1="400.1" x2="64.6" y2="400.1" stroke="#000" stroke-width="1.5"/>
<line x1="62.0" y1="372.4" x2="64.6" y2="372.4" stroke="#000" stroke-width="1.5"/>
<line x1="62.0" y1="344.6" x2="64.6" y2="344.6" stroke="#000" stroke-width="1.5"/>
<text x="57.6" y="486.9" font-size="9.6" font-weight="bold" text-anchor="end" fill="#000">0</text>
<text x="57.6" y="459.1" font-size="9.6" font-weight="bold" text-anchor="end" fill="#000">5</text>
<text x="57.6" y="431.4" font-size="9.6" font-weight="bold" text-anchor="end" fill="#000">10</text>
<text x="57.6" y="403.6" font-size="9.6" font-weight="bold" text-anchor="end" fill="#000">15</text>
<text x="57.6" y="375.9" font-size="9.6" font-weight="bold" text-anchor="end" fill="#000">20</text>
<text x="57.6" y="348.1" font-size="9.6" font-weight="bold" text-anchor="end" fill="#000">25</text>
<text x="68.9" y="359.7" font-size="12.3" text-anchor="start" fill="#000" textLength="27.3" lengthAdjust="spacingAndGlyphs">PRO</text>
<text transform="translate(70.2,494.8) rotate(-45)" font-size="9.6" font-weight="bold" text-anchor="end">5</text>
<text transform="translate(111.9,494.8) rotate(-45)" font-size="9.6" font-weight="bold" text-anchor="end">8</text>
<text transform="translate(153.6,494.8) rotate(-45)" font-size="9.6" font-weight="bold" text-anchor="end">11</text>
<text transform="translate(181.4,494.8) rotate(-45)" font-size="9.6" font-weight="bold" text-anchor="end">13</text>
<polyline points="68.0,483.4 109.7,483.4 151.4,482.8 179.2,479.0" fill="none" stroke="#000" stroke-width="1.0" stroke-linejoin="miter"/>
<polyline points="68.0,483.4 109.7,483.4 151.4,481.7 179.2,475.9" fill="none" stroke="#000" stroke-width="1.8" stroke-linejoin="miter"/>
<polyline points="68.0,483.4 109.7,480.1 151.4,465.6 179.2,394.6" fill="none" stroke="#000" stroke-width="1.8" stroke-linejoin="miter"/>
<rect x="64.8" y="480.2" width="6.4" height="6.4" fill="#fff" stroke="#000" stroke-width="1.6"/>
<rect x="106.5" y="480.2" width="6.4" height="6.4" fill="#fff" stroke="#000" stroke-width="1.6"/>
<rect x="148.2" y="479.6" width="6.4" height="6.4" fill="#fff" stroke="#000" stroke-width="1.6"/>
<rect x="176.0" y="475.8" width="6.4" height="6.4" fill="#fff" stroke="#000" stroke-width="1.6"/>
<rect x="62.9" y="478.3" width="10.2" height="10.2" rx="1.2" fill="#000"/>
<rect x="104.6" y="478.3" width="10.2" height="10.2" rx="1.2" fill="#000"/>
<rect x="146.3" y="476.6" width="10.2" height="10.2" rx="1.2" fill="#000"/>
<rect x="174.1" y="470.8" width="10.2" height="10.2" rx="1.2" fill="#000"/>
<circle cx="68.0" cy="483.4" r="3.9" fill="#000"/>
<circle cx="109.7" cy="480.1" r="3.9" fill="#000"/>
<circle cx="151.4" cy="465.6" r="3.9" fill="#000"/>
<line x1="179.2" y1="375.1" x2="179.2" y2="414.0" stroke="#000" stroke-width="1.6"/>
<line x1="174.7" y1="375.1" x2="183.7" y2="375.1" stroke="#000" stroke-width="1.8"/>
<line x1="174.7" y1="414.0" x2="183.7" y2="414.0" stroke="#000" stroke-width="1.8"/>
<circle cx="179.2" cy="394.6" r="3.9" fill="#000"/>
<text x="179.2" y="373.1" font-size="16" text-anchor="middle" fill="#000">*</text>
<line x1="204.6" y1="344.5" x2="204.6" y2="484.2" stroke="#000" stroke-width="1.8"/>
<line x1="203.7" y1="483.4" x2="330.3" y2="483.4" stroke="#000" stroke-width="1.8"/>
<line x1="204.6" y1="483.4" x2="207.2" y2="483.4" stroke="#000" stroke-width="1.5"/>
<line x1="204.6" y1="455.6" x2="207.2" y2="455.6" stroke="#000" stroke-width="1.5"/>
<line x1="204.6" y1="427.9" x2="207.2" y2="427.9" stroke="#000" stroke-width="1.5"/>
<line x1="204.6" y1="400.1" x2="207.2" y2="400.1" stroke="#000" stroke-width="1.5"/>
<line x1="204.6" y1="372.4" x2="207.2" y2="372.4" stroke="#000" stroke-width="1.5"/>
<line x1="204.6" y1="344.6" x2="207.2" y2="344.6" stroke="#000" stroke-width="1.5"/>
<text x="211.0" y="359.7" font-size="12.3" text-anchor="start" fill="#000" textLength="27.0" lengthAdjust="spacingAndGlyphs">EST</text>
<text transform="translate(213.2,494.8) rotate(-45)" font-size="9.6" font-weight="bold" text-anchor="end">5</text>
<text transform="translate(254.9,494.8) rotate(-45)" font-size="9.6" font-weight="bold" text-anchor="end">8</text>
<text transform="translate(296.6,494.8) rotate(-45)" font-size="9.6" font-weight="bold" text-anchor="end">11</text>
<text transform="translate(324.4,494.8) rotate(-45)" font-size="9.6" font-weight="bold" text-anchor="end">13</text>
<polyline points="211.0,483.4 252.7,483.4 294.4,482.6 322.2,480.6" fill="none" stroke="#000" stroke-width="1.0" stroke-linejoin="miter"/>
<polyline points="211.0,483.4 252.7,483.4 294.4,481.7 322.2,479.0" fill="none" stroke="#000" stroke-width="1.8" stroke-linejoin="miter"/>
<polyline points="211.0,483.4 252.7,476.7 294.4,452.9 322.2,399.0" fill="none" stroke="#000" stroke-width="1.8" stroke-linejoin="miter"/>
<rect x="207.8" y="480.2" width="6.4" height="6.4" fill="#fff" stroke="#000" stroke-width="1.6"/>
<rect x="249.5" y="480.2" width="6.4" height="6.4" fill="#fff" stroke="#000" stroke-width="1.6"/>
<rect x="291.2" y="479.4" width="6.4" height="6.4" fill="#fff" stroke="#000" stroke-width="1.6"/>
<rect x="319.0" y="477.4" width="6.4" height="6.4" fill="#fff" stroke="#000" stroke-width="1.6"/>
<rect x="205.9" y="478.3" width="10.2" height="10.2" rx="1.2" fill="#000"/>
<rect x="247.6" y="478.3" width="10.2" height="10.2" rx="1.2" fill="#000"/>
<rect x="289.3" y="476.6" width="10.2" height="10.2" rx="1.2" fill="#000"/>
<rect x="317.1" y="473.9" width="10.2" height="10.2" rx="1.2" fill="#000"/>
<circle cx="211.0" cy="483.4" r="3.9" fill="#000"/>
<circle cx="252.7" cy="476.7" r="3.9" fill="#000"/>
<circle cx="294.4" cy="452.9" r="3.9" fill="#000"/>
<line x1="322.2" y1="379.0" x2="322.2" y2="419.0" stroke="#000" stroke-width="1.6"/>
<line x1="317.7" y1="379.0" x2="326.7" y2="379.0" stroke="#000" stroke-width="1.8"/>
<line x1="317.7" y1="419.0" x2="326.7" y2="419.0" stroke="#000" stroke-width="1.8"/>
<circle cx="322.2" cy="399.0" r="3.9" fill="#000"/>
<text x="322.2" y="380.7" font-size="16" text-anchor="middle" fill="#000">*</text>
<line x1="345.6" y1="344.5" x2="345.6" y2="484.2" stroke="#000" stroke-width="1.8"/>
<line x1="344.7" y1="483.4" x2="471.3" y2="483.4" stroke="#000" stroke-width="1.8"/>
<line x1="345.6" y1="483.4" x2="348.2" y2="483.4" stroke="#000" stroke-width="1.5"/>
<line x1="345.6" y1="455.6" x2="348.2" y2="455.6" stroke="#000" stroke-width="1.5"/>
<line x1="345.6" y1="427.9" x2="348.2" y2="427.9" stroke="#000" stroke-width="1.5"/>
<line x1="345.6" y1="400.1" x2="348.2" y2="400.1" stroke="#000" stroke-width="1.5"/>
<line x1="345.6" y1="372.4" x2="348.2" y2="372.4" stroke="#000" stroke-width="1.5"/>
<line x1="345.6" y1="344.6" x2="348.2" y2="344.6" stroke="#000" stroke-width="1.5"/>
<text x="352.5" y="359.7" font-size="12.3" text-anchor="start" fill="#000" textLength="28.0" lengthAdjust="spacingAndGlyphs">MET</text>
<text transform="translate(354.8,494.8) rotate(-45)" font-size="9.6" font-weight="bold" text-anchor="end">5</text>
<text transform="translate(396.5,494.8) rotate(-45)" font-size="9.6" font-weight="bold" text-anchor="end">8</text>
<text transform="translate(438.2,494.8) rotate(-45)" font-size="9.6" font-weight="bold" text-anchor="end">11</text>
<text transform="translate(466.0,494.8) rotate(-45)" font-size="9.6" font-weight="bold" text-anchor="end">13</text>
<polyline points="352.6,483.4 394.3,483.4 436.0,482.8 463.8,480.6" fill="none" stroke="#000" stroke-width="1.0" stroke-linejoin="miter"/>
<polyline points="352.6,483.4 394.3,483.4 436.0,482.3 463.8,479.0" fill="none" stroke="#000" stroke-width="1.8" stroke-linejoin="miter"/>
<polyline points="352.6,483.4 394.3,478.4 436.0,458.4 463.8,392.3" fill="none" stroke="#000" stroke-width="1.8" stroke-linejoin="miter"/>
<rect x="349.4" y="480.2" width="6.4" height="6.4" fill="#fff" stroke="#000" stroke-width="1.6"/>
<rect x="391.1" y="480.2" width="6.4" height="6.4" fill="#fff" stroke="#000" stroke-width="1.6"/>
<rect x="432.8" y="479.6" width="6.4" height="6.4" fill="#fff" stroke="#000" stroke-width="1.6"/>
<rect x="460.6" y="477.4" width="6.4" height="6.4" fill="#fff" stroke="#000" stroke-width="1.6"/>
<rect x="347.5" y="478.3" width="10.2" height="10.2" rx="1.2" fill="#000"/>
<rect x="389.2" y="478.3" width="10.2" height="10.2" rx="1.2" fill="#000"/>
<rect x="430.9" y="477.2" width="10.2" height="10.2" rx="1.2" fill="#000"/>
<rect x="458.7" y="473.9" width="10.2" height="10.2" rx="1.2" fill="#000"/>
<circle cx="352.6" cy="483.4" r="3.9" fill="#000"/>
<circle cx="394.3" cy="478.4" r="3.9" fill="#000"/>
<circle cx="436.0" cy="458.4" r="3.9" fill="#000"/>
<line x1="463.8" y1="379.6" x2="463.8" y2="405.1" stroke="#000" stroke-width="1.6"/>
<line x1="459.3" y1="379.6" x2="468.3" y2="379.6" stroke="#000" stroke-width="1.8"/>
<line x1="459.3" y1="405.1" x2="468.3" y2="405.1" stroke="#000" stroke-width="1.8"/>
<circle cx="463.8" cy="392.3" r="3.9" fill="#000"/>
<text x="463.8" y="379.2" font-size="16" text-anchor="middle" fill="#000">*</text>
<line x1="487.4" y1="344.5" x2="487.4" y2="484.2" stroke="#000" stroke-width="1.8"/>
<line x1="486.5" y1="483.4" x2="612.2" y2="483.4" stroke="#000" stroke-width="1.8"/>
<line x1="487.4" y1="483.4" x2="490.0" y2="483.4" stroke="#000" stroke-width="1.5"/>
<line x1="487.4" y1="455.6" x2="490.0" y2="455.6" stroke="#000" stroke-width="1.5"/>
<line x1="487.4" y1="427.9" x2="490.0" y2="427.9" stroke="#000" stroke-width="1.5"/>
<line x1="487.4" y1="400.1" x2="490.0" y2="400.1" stroke="#000" stroke-width="1.5"/>
<line x1="487.4" y1="372.4" x2="490.0" y2="372.4" stroke="#000" stroke-width="1.5"/>
<line x1="487.4" y1="344.6" x2="490.0" y2="344.6" stroke="#000" stroke-width="1.5"/>
<text x="495.0" y="359.7" font-size="12.3" text-anchor="start" fill="#000" textLength="21.5" lengthAdjust="spacingAndGlyphs">DIE</text>
<text transform="translate(495.8,494.8) rotate(-45)" font-size="9.6" font-weight="bold" text-anchor="end">5</text>
<text transform="translate(537.5,494.8) rotate(-45)" font-size="9.6" font-weight="bold" text-anchor="end">8</text>
<text transform="translate(579.2,494.8) rotate(-45)" font-size="9.6" font-weight="bold" text-anchor="end">11</text>
<text transform="translate(607.0,494.8) rotate(-45)" font-size="9.6" font-weight="bold" text-anchor="end">13</text>
<polyline points="493.6,483.4 535.3,483.4 577.0,482.8 604.8,480.1" fill="none" stroke="#000" stroke-width="1.0" stroke-linejoin="miter"/>
<polyline points="493.6,483.4 535.3,483.4 577.0,481.7 604.8,477.8" fill="none" stroke="#000" stroke-width="1.8" stroke-linejoin="miter"/>
<polyline points="493.6,483.4 535.3,477.8 577.0,454.5 604.8,409.0" fill="none" stroke="#000" stroke-width="1.8" stroke-linejoin="miter"/>
<rect x="490.4" y="480.2" width="6.4" height="6.4" fill="#fff" stroke="#000" stroke-width="1.6"/>
<rect x="532.1" y="480.2" width="6.4" height="6.4" fill="#fff" stroke="#000" stroke-width="1.6"/>
<rect x="573.8" y="479.6" width="6.4" height="6.4" fill="#fff" stroke="#000" stroke-width="1.6"/>
<rect x="601.6" y="476.9" width="6.4" height="6.4" fill="#fff" stroke="#000" stroke-width="1.6"/>
<rect x="488.5" y="478.3" width="10.2" height="10.2" rx="1.2" fill="#000"/>
<rect x="530.2" y="478.3" width="10.2" height="10.2" rx="1.2" fill="#000"/>
<rect x="571.9" y="476.6" width="10.2" height="10.2" rx="1.2" fill="#000"/>
<rect x="599.7" y="472.7" width="10.2" height="10.2" rx="1.2" fill="#000"/>
<circle cx="493.6" cy="483.4" r="3.9" fill="#000"/>
<circle cx="535.3" cy="477.8" r="3.9" fill="#000"/>
<circle cx="577.0" cy="454.5" r="3.9" fill="#000"/>
<line x1="604.8" y1="397.3" x2="604.8" y2="420.7" stroke="#000" stroke-width="1.6"/>
<line x1="600.3" y1="397.3" x2="609.3" y2="397.3" stroke="#000" stroke-width="1.8"/>
<line x1="600.3" y1="420.7" x2="609.3" y2="420.7" stroke="#000" stroke-width="1.8"/>
<circle cx="604.8" cy="409.0" r="3.9" fill="#000"/>
<text x="604.8" y="397.9" font-size="16" text-anchor="middle" fill="#000">*</text>
<line x1="67.5" y1="516.5" x2="290.2" y2="516.5" stroke="#222" stroke-width="1"/>
<line x1="368.3" y1="516.5" x2="608.0" y2="516.5" stroke="#222" stroke-width="1"/>
<text x="304.1" y="521.0" font-size="13.6" text-anchor="start" fill="#000" textLength="51.8" lengthAdjust="spacingAndGlyphs">Time (d)</text>
<text x="3.0" y="550.3" font-size="17" font-weight="bold" text-anchor="start" fill="#000">d</text>
<rect x="56.0" y="595.8" width="15.800000000000008" height="8.2" rx="1" fill="#595959" stroke="#000" stroke-width="1.2"/>
<text x="81.8" y="604.2" font-size="12" text-anchor="start" fill="#000" textLength="33.8" lengthAdjust="spacingAndGlyphs">Saline</text>
<rect x="130.6" y="595.8" width="16.3" height="8.2" rx="1" fill="#d3d3d3" stroke="#000" stroke-width="1.2"/>
<text x="156.9" y="604.2" font-size="12" text-anchor="start" fill="#000" textLength="26.4" lengthAdjust="spacingAndGlyphs">DOX</text>
<rect x="197.6" y="595.8" width="16.399999999999995" height="8.2" rx="1" fill="#ffffff" stroke="#000" stroke-width="1.2"/>
<text x="224.0" y="604.2" font-size="12" text-anchor="start" fill="#000" textLength="67.0" lengthAdjust="spacingAndGlyphs">DOX + DRZ</text>
<line x1="51.9" y1="619.2" x2="51.9" y2="776.2" stroke="#000" stroke-width="1.8"/>
<line x1="51.9" y1="619.7" x2="50.0" y2="619.7" stroke="#000" stroke-width="1.5"/>
<line x1="51.9" y1="678.1" x2="50.0" y2="678.1" stroke="#000" stroke-width="1.5"/>
<line x1="51.9" y1="736.5" x2="50.0" y2="736.5" stroke="#000" stroke-width="1.5"/>
<text x="46.7" y="623.7" font-size="10.6" font-weight="bold" text-anchor="end" fill="#000">15</text>
<text x="46.7" y="682.1" font-size="10.6" font-weight="bold" text-anchor="end" fill="#000">0</text>
<text x="46.7" y="740.5" font-size="10.6" font-weight="bold" text-anchor="end" fill="#000">-15</text>
<text transform="translate(19.6,698) rotate(-90)" font-size="13" font-weight="bold" text-anchor="middle" textLength="68" lengthAdjust="spacingAndGlyphs" xml:space="preserve">%  <tspan font-weight="normal">∆</tspan>Weight</text>
<rect x="59.5" y="649.3" width="10.3" height="28.8" fill="#595959" stroke="#000" stroke-width="1.2"/>
<line x1="64.7" y1="643.5" x2="64.7" y2="655.1" stroke="#000" stroke-width="1.4"/>
<line x1="61.9" y1="643.5" x2="67.5" y2="643.5" stroke="#000" stroke-width="1.4"/>
<line x1="61.9" y1="655.1" x2="67.5" y2="655.1" stroke="#000" stroke-width="1.4"/>
<rect x="75.5" y="678.1" width="10.3" height="9.3" fill="#d3d3d3" stroke="#000" stroke-width="1.2"/>
<line x1="80.7" y1="680.4" x2="80.7" y2="694.5" stroke="#000" stroke-width="1.4"/>
<line x1="77.9" y1="680.4" x2="83.5" y2="680.4" stroke="#000" stroke-width="1.4"/>
<line x1="77.9" y1="694.5" x2="83.5" y2="694.5" stroke="#000" stroke-width="1.4"/>
<rect x="91.8" y="678.1" width="10.3" height="38.5" fill="#ffffff" stroke="#000" stroke-width="1.2"/>
<line x1="96.9" y1="712.4" x2="96.9" y2="720.9" stroke="#000" stroke-width="1.4"/>
<line x1="94.1" y1="712.4" x2="99.7" y2="712.4" stroke="#000" stroke-width="1.4"/>
<line x1="94.1" y1="720.9" x2="99.7" y2="720.9" stroke="#000" stroke-width="1.4"/>
<rect x="118.2" y="652.4" width="10.3" height="25.7" fill="#595959" stroke="#000" stroke-width="1.2"/>
<line x1="123.4" y1="640.7" x2="123.4" y2="664.1" stroke="#000" stroke-width="1.4"/>
<line x1="120.6" y1="640.7" x2="126.2" y2="640.7" stroke="#000" stroke-width="1.4"/>
<line x1="120.6" y1="664.1" x2="126.2" y2="664.1" stroke="#000" stroke-width="1.4"/>
<rect x="134.2" y="678.1" width="10.3" height="27.3" fill="#d3d3d3" stroke="#000" stroke-width="1.2"/>
<line x1="139.4" y1="693.7" x2="139.4" y2="717.0" stroke="#000" stroke-width="1.4"/>
<line x1="136.6" y1="693.7" x2="142.2" y2="693.7" stroke="#000" stroke-width="1.4"/>
<line x1="136.6" y1="717.0" x2="142.2" y2="717.0" stroke="#000" stroke-width="1.4"/>
<rect x="150.5" y="678.1" width="10.3" height="21.4" fill="#ffffff" stroke="#000" stroke-width="1.2"/>
<line x1="155.7" y1="696.8" x2="155.7" y2="702.2" stroke="#000" stroke-width="1.4"/>
<line x1="152.9" y1="696.8" x2="158.5" y2="696.8" stroke="#000" stroke-width="1.4"/>
<line x1="152.9" y1="702.2" x2="158.5" y2="702.2" stroke="#000" stroke-width="1.4"/>
<rect x="177.0" y="654.4" width="10.3" height="23.7" fill="#595959" stroke="#000" stroke-width="1.2"/>
<line x1="182.1" y1="642.7" x2="182.1" y2="666.0" stroke="#000" stroke-width="1.4"/>
<line x1="179.3" y1="642.7" x2="184.9" y2="642.7" stroke="#000" stroke-width="1.4"/>
<line x1="179.3" y1="666.0" x2="184.9" y2="666.0" stroke="#000" stroke-width="1.4"/>
<rect x="193.0" y="678.1" width="10.3" height="4.7" fill="#d3d3d3" stroke="#000" stroke-width="1.2"/>
<line x1="198.1" y1="676.2" x2="198.1" y2="689.4" stroke="#000" stroke-width="1.4"/>
<line x1="195.3" y1="676.2" x2="200.9" y2="676.2" stroke="#000" stroke-width="1.4"/>
<line x1="195.3" y1="689.4" x2="200.9" y2="689.4" stroke="#000" stroke-width="1.4"/>
<rect x="209.3" y="678.1" width="10.3" height="4.7" fill="#ffffff" stroke="#000" stroke-width="1.2"/>
<line x1="214.4" y1="676.9" x2="214.4" y2="688.6" stroke="#000" stroke-width="1.4"/>
<line x1="211.6" y1="676.9" x2="217.2" y2="676.9" stroke="#000" stroke-width="1.4"/>
<line x1="211.6" y1="688.6" x2="217.2" y2="688.6" stroke="#000" stroke-width="1.4"/>
<rect x="235.7" y="648.1" width="10.3" height="30.0" fill="#595959" stroke="#000" stroke-width="1.2"/>
<line x1="240.8" y1="644.6" x2="240.8" y2="651.6" stroke="#000" stroke-width="1.4"/>
<line x1="238.0" y1="644.6" x2="243.6" y2="644.6" stroke="#000" stroke-width="1.4"/>
<line x1="238.0" y1="651.6" x2="243.6" y2="651.6" stroke="#000" stroke-width="1.4"/>
<rect x="251.7" y="678.1" width="10.3" height="60.7" fill="#d3d3d3" stroke="#000" stroke-width="1.2"/>
<line x1="256.8" y1="725.2" x2="256.8" y2="752.5" stroke="#000" stroke-width="1.4"/>
<line x1="254.0" y1="725.2" x2="259.6" y2="725.2" stroke="#000" stroke-width="1.4"/>
<line x1="254.0" y1="752.5" x2="259.6" y2="752.5" stroke="#000" stroke-width="1.4"/>
<rect x="268.0" y="678.1" width="10.3" height="23.0" fill="#ffffff" stroke="#000" stroke-width="1.2"/>
<line x1="273.1" y1="694.1" x2="273.1" y2="708.1" stroke="#000" stroke-width="1.4"/>
<line x1="270.3" y1="694.1" x2="275.9" y2="694.1" stroke="#000" stroke-width="1.4"/>
<line x1="270.3" y1="708.1" x2="275.9" y2="708.1" stroke="#000" stroke-width="1.4"/>
<line x1="51.9" y1="678.1" x2="285.3" y2="678.1" stroke="#000" stroke-width="1.5"/>
<line x1="51.0" y1="775.8" x2="285.6" y2="775.8" stroke="#000" stroke-width="1.8"/>
<polyline points="65.0,633.7 65.0,626.7 88.3,626.7 88.3,636.5" fill="none" stroke="#000" stroke-width="1.8" stroke-linejoin="miter"/>
<polyline points="79.4,640.3 79.4,636.5 97.2,636.5 97.2,640.3" fill="none" stroke="#000" stroke-width="1.8" stroke-linejoin="miter"/>
<text x="75.5" y="628.3" font-size="16" text-anchor="middle" fill="#000">*</text>
<polyline points="123.0,636.0 123.0,629.3 146.3,629.3 146.3,637.0" fill="none" stroke="#000" stroke-width="1.8" stroke-linejoin="miter"/>
<polyline points="139.3,640.3 139.3,637.0 155.5,637.0 155.5,640.3" fill="none" stroke="#000" stroke-width="1.8" stroke-linejoin="miter"/>
<text x="134.5" y="629.8" font-size="16" text-anchor="middle" fill="#000">*</text>
<polyline points="240.3,633.7 240.3,627.2 265.0,627.2 265.0,633.7" fill="none" stroke="#000" stroke-width="1.8" stroke-linejoin="miter"/>
<polyline points="258.5,636.5 258.5,633.7 273.0,633.7 273.0,636.5" fill="none" stroke="#000" stroke-width="1.8" stroke-linejoin="miter"/>
<text x="252.4" y="629.6" font-size="16" text-anchor="middle" fill="#000">*</text>
<polyline points="80.6,740.9 80.6,745.4 193.0,745.4 193.0,740.9" fill="none" stroke="#000" stroke-width="1.8" stroke-linejoin="miter"/>
<polyline points="139.4,740.9 139.4,763.9 256.3,763.9 256.3,752.6" fill="none" stroke="#000" stroke-width="1.8" stroke-linejoin="miter"/>
<text x="191.0" y="781.0" font-size="16" text-anchor="middle" fill="#000">*</text>
<text transform="translate(82.8,789.5) rotate(-45)" font-size="12.4" font-weight="bold" text-anchor="end">PRO</text>
<text transform="translate(143.2,789.5) rotate(-45)" font-size="12.4" font-weight="bold" text-anchor="end">EST</text>
<text transform="translate(201.6,789.5) rotate(-45)" font-size="12.4" font-weight="bold" text-anchor="end">MET</text>
<text transform="translate(259.8,789.5) rotate(-45)" font-size="12.4" font-weight="bold" text-anchor="end">DIE</text>
<text x="324.8" y="549.6" font-size="17" font-weight="bold" text-anchor="start" fill="#000">e</text>
<line x1="364.3" y1="541.5" x2="380.3" y2="541.5" stroke="#000" stroke-width="1.5"/>
<circle cx="373.0" cy="541.5" r="4.1" fill="#000"/>
<text x="387.7" y="545.5" font-size="10.6" text-anchor="start" fill="#000" textLength="31.1" lengthAdjust="spacingAndGlyphs">Saline</text>
<line x1="440.3" y1="541.5" x2="455.8" y2="541.5" stroke="#000" stroke-width="1.5"/>
<rect x="443.4" y="537.3" width="9.2" height="8.4" fill="#000"/>
<text x="462.8" y="545.5" font-size="10.6" text-anchor="start" fill="#000" textLength="24.2" lengthAdjust="spacingAndGlyphs">DOX</text>
<line x1="505.7" y1="541.5" x2="518.5" y2="541.5" stroke="#000" stroke-width="1.5"/>
<rect x="507.9" y="537.9" width="8.8" height="7.2" fill="#fff" stroke="#000" stroke-width="1.7"/>
<line x1="505.7" y1="541.5" x2="518.5" y2="541.5" stroke="#000" stroke-width="1.5"/>
<text x="527.9" y="545.5" font-size="10.6" text-anchor="start" fill="#000" textLength="60.3" lengthAdjust="spacingAndGlyphs">DOX + DRZ</text>
<line x1="369.0" y1="561.3" x2="369.0" y2="701.2" stroke="#000" stroke-width="1.6"/>
<line x1="368.2" y1="700.6" x2="495.0" y2="700.6" stroke="#000" stroke-width="1.4"/>
<line x1="369.0" y1="561.8" x2="371.5" y2="561.8" stroke="#000" stroke-width="1.5"/>
<line x1="369.0" y1="601.3" x2="371.5" y2="601.3" stroke="#000" stroke-width="1.5"/>
<line x1="369.0" y1="640.8" x2="371.5" y2="640.8" stroke="#000" stroke-width="1.5"/>
<line x1="369.0" y1="680.3" x2="371.5" y2="680.3" stroke="#000" stroke-width="1.5"/>
<text x="365.8" y="565.4" font-size="10" font-weight="bold" text-anchor="end" fill="#000" textLength="17.6" lengthAdjust="spacingAndGlyphs">220</text>
<text x="365.8" y="604.9" font-size="10" font-weight="bold" text-anchor="end" fill="#000" textLength="17.6" lengthAdjust="spacingAndGlyphs">200</text>
<text x="365.8" y="644.4" font-size="10" font-weight="bold" text-anchor="end" fill="#000" textLength="17.6" lengthAdjust="spacingAndGlyphs">180</text>
<text x="365.8" y="683.9" font-size="10" font-weight="bold" text-anchor="end" fill="#000" textLength="17.6" lengthAdjust="spacingAndGlyphs">160</text>
<text transform="translate(339.3,630.9) rotate(-90)" font-size="11.4" font-weight="bold" text-anchor="middle" textLength="85" lengthAdjust="spacingAndGlyphs">SHR Weight (g)</text>
<text x="375.5" y="575.0" font-size="12.3" text-anchor="start" fill="#000" textLength="28.3" lengthAdjust="spacingAndGlyphs">PRO</text>
<polyline points="372.5,632.1 396.1,643.8 427.4,665.7 451.0,682.1 474.5,674.2 490.2,666.7" fill="none" stroke="#000" stroke-width="1.6" stroke-linejoin="miter"/>
<polyline points="372.5,638.0 396.1,644.9 427.4,659.8 451.0,675.6 474.5,660.7 490.2,646.9" fill="none" stroke="#000" stroke-width="1.6" stroke-linejoin="miter"/>
<polyline points="372.5,616.5 396.1,613.5 427.4,613.5 451.0,610.0 474.5,599.1 490.2,588.3" fill="none" stroke="#000" stroke-width="1.6" stroke-linejoin="miter"/>
<line x1="372.5" y1="627.2" x2="372.5" y2="648.9" stroke="#000" stroke-width="1.4"/>
<line x1="368.6" y1="627.2" x2="376.4" y2="627.2" stroke="#000" stroke-width="1.6"/>
<line x1="368.6" y1="648.9" x2="376.4" y2="648.9" stroke="#000" stroke-width="1.6"/>
<line x1="396.1" y1="633.1" x2="396.1" y2="656.8" stroke="#000" stroke-width="1.4"/>
<line x1="392.2" y1="633.1" x2="399.9" y2="633.1" stroke="#000" stroke-width="1.6"/>
<line x1="392.2" y1="656.8" x2="399.9" y2="656.8" stroke="#000" stroke-width="1.6"/>
<line x1="427.4" y1="648.9" x2="427.4" y2="670.6" stroke="#000" stroke-width="1.4"/>
<line x1="423.6" y1="648.9" x2="431.3" y2="648.9" stroke="#000" stroke-width="1.6"/>
<line x1="423.6" y1="670.6" x2="431.3" y2="670.6" stroke="#000" stroke-width="1.6"/>
<line x1="451.0" y1="664.5" x2="451.0" y2="686.6" stroke="#000" stroke-width="1.4"/>
<line x1="447.1" y1="664.5" x2="454.9" y2="664.5" stroke="#000" stroke-width="1.6"/>
<line x1="447.1" y1="686.6" x2="454.9" y2="686.6" stroke="#000" stroke-width="1.6"/>
<line x1="474.5" y1="653.2" x2="474.5" y2="668.3" stroke="#000" stroke-width="1.4"/>
<line x1="470.6" y1="653.2" x2="478.4" y2="653.2" stroke="#000" stroke-width="1.6"/>
<line x1="470.6" y1="668.3" x2="478.4" y2="668.3" stroke="#000" stroke-width="1.6"/>
<line x1="490.2" y1="637.6" x2="490.2" y2="656.2" stroke="#000" stroke-width="1.4"/>
<line x1="486.4" y1="637.6" x2="494.1" y2="637.6" stroke="#000" stroke-width="1.6"/>
<line x1="486.4" y1="656.2" x2="494.1" y2="656.2" stroke="#000" stroke-width="1.6"/>
<rect x="368.4" y="633.9" width="8.2" height="8.2" rx="0.5" fill="#000"/>
<rect x="391.9" y="640.8" width="8.2" height="8.2" rx="0.5" fill="#000"/>
<rect x="423.3" y="655.7" width="8.2" height="8.2" rx="0.5" fill="#000"/>
<rect x="446.9" y="671.5" width="8.2" height="8.2" rx="0.5" fill="#000"/>
<rect x="470.4" y="656.6" width="8.2" height="8.2" rx="0.5" fill="#000"/>
<rect x="486.1" y="642.8" width="8.2" height="8.2" rx="0.5" fill="#000"/>
<line x1="372.5" y1="626.2" x2="372.5" y2="638.0" stroke="#000" stroke-width="1.4"/>
<line x1="368.6" y1="626.2" x2="376.4" y2="626.2" stroke="#000" stroke-width="1.6"/>
<line x1="368.6" y1="638.0" x2="376.4" y2="638.0" stroke="#000" stroke-width="1.6"/>
<line x1="396.1" y1="635.9" x2="396.1" y2="651.7" stroke="#000" stroke-width="1.4"/>
<line x1="392.2" y1="635.9" x2="399.9" y2="635.9" stroke="#000" stroke-width="1.6"/>
<line x1="392.2" y1="651.7" x2="399.9" y2="651.7" stroke="#000" stroke-width="1.6"/>
<line x1="427.4" y1="660.5" x2="427.4" y2="670.8" stroke="#000" stroke-width="1.4"/>
<line x1="423.6" y1="660.5" x2="431.3" y2="660.5" stroke="#000" stroke-width="1.6"/>
<line x1="423.6" y1="670.8" x2="431.3" y2="670.8" stroke="#000" stroke-width="1.6"/>
<line x1="451.0" y1="677.7" x2="451.0" y2="686.4" stroke="#000" stroke-width="1.4"/>
<line x1="447.1" y1="677.7" x2="454.9" y2="677.7" stroke="#000" stroke-width="1.6"/>
<line x1="447.1" y1="686.4" x2="454.9" y2="686.4" stroke="#000" stroke-width="1.6"/>
<line x1="474.5" y1="664.9" x2="474.5" y2="683.5" stroke="#000" stroke-width="1.4"/>
<line x1="470.6" y1="664.9" x2="478.4" y2="664.9" stroke="#000" stroke-width="1.6"/>
<line x1="470.6" y1="683.5" x2="478.4" y2="683.5" stroke="#000" stroke-width="1.6"/>
<line x1="490.2" y1="662.7" x2="490.2" y2="670.6" stroke="#000" stroke-width="1.4"/>
<line x1="486.4" y1="662.7" x2="494.1" y2="662.7" stroke="#000" stroke-width="1.6"/>
<line x1="486.4" y1="670.6" x2="494.1" y2="670.6" stroke="#000" stroke-width="1.6"/>
<rect x="369.1" y="628.7" width="6.800000000000001" height="6.800000000000001" fill="#fff" stroke="#000" stroke-width="1.6"/>
<rect x="392.7" y="640.4" width="6.800000000000001" height="6.800000000000001" fill="#fff" stroke="#000" stroke-width="1.6"/>
<rect x="424.1" y="662.3" width="6.800000000000001" height="6.800000000000001" fill="#fff" stroke="#000" stroke-width="1.6"/>
<rect x="447.6" y="678.7" width="6.800000000000001" height="6.800000000000001" fill="#fff" stroke="#000" stroke-width="1.6"/>
<rect x="471.1" y="670.8" width="6.800000000000001" height="6.800000000000001" fill="#fff" stroke="#000" stroke-width="1.6"/>
<rect x="486.9" y="663.3" width="6.800000000000001" height="6.800000000000001" fill="#fff" stroke="#000" stroke-width="1.6"/>
<line x1="372.5" y1="611.6" x2="372.5" y2="621.4" stroke="#000" stroke-width="1.4"/>
<line x1="368.6" y1="611.6" x2="376.4" y2="611.6" stroke="#000" stroke-width="1.6"/>
<line x1="368.6" y1="621.4" x2="376.4" y2="621.4" stroke="#000" stroke-width="1.6"/>
<line x1="396.1" y1="608.2" x2="396.1" y2="618.9" stroke="#000" stroke-width="1.4"/>
<line x1="392.2" y1="608.2" x2="399.9" y2="608.2" stroke="#000" stroke-width="1.6"/>
<line x1="392.2" y1="618.9" x2="399.9" y2="618.9" stroke="#000" stroke-width="1.6"/>
<line x1="427.4" y1="608.6" x2="427.4" y2="618.5" stroke="#000" stroke-width="1.4"/>
<line x1="423.6" y1="608.6" x2="431.3" y2="608.6" stroke="#000" stroke-width="1.6"/>
<line x1="423.6" y1="618.5" x2="431.3" y2="618.5" stroke="#000" stroke-width="1.6"/>
<line x1="451.0" y1="604.3" x2="451.0" y2="615.7" stroke="#000" stroke-width="1.4"/>
<line x1="447.1" y1="604.3" x2="454.9" y2="604.3" stroke="#000" stroke-width="1.6"/>
<line x1="447.1" y1="615.7" x2="454.9" y2="615.7" stroke="#000" stroke-width="1.6"/>
<line x1="474.5" y1="594.2" x2="474.5" y2="604.1" stroke="#000" stroke-width="1.4"/>
<line x1="470.6" y1="594.2" x2="478.4" y2="594.2" stroke="#000" stroke-width="1.6"/>
<line x1="470.6" y1="604.1" x2="478.4" y2="604.1" stroke="#000" stroke-width="1.6"/>
<line x1="490.2" y1="582.1" x2="490.2" y2="594.4" stroke="#000" stroke-width="1.4"/>
<line x1="486.4" y1="582.1" x2="494.1" y2="582.1" stroke="#000" stroke-width="1.6"/>
<line x1="486.4" y1="594.4" x2="494.1" y2="594.4" stroke="#000" stroke-width="1.6"/>
<circle cx="372.5" cy="616.5" r="4.2" fill="#000"/>
<circle cx="396.1" cy="613.5" r="4.2" fill="#000"/>
<circle cx="427.4" cy="613.5" r="4.2" fill="#000"/>
<circle cx="451.0" cy="610.0" r="4.2" fill="#000"/>
<circle cx="474.5" cy="599.1" r="4.2" fill="#000"/>
<circle cx="490.2" cy="588.3" r="4.2" fill="#000"/>
<text x="451.0" y="604.6" font-size="16" text-anchor="middle" fill="#000">*</text>
<polyline points="450.1,652.0 450.1,625.7 490.7,625.7 490.7,628.3" fill="none" stroke="#000" stroke-width="1.6" stroke-linejoin="miter"/>
<text x="468.5" y="624.2" font-size="16" font-weight="bold" text-anchor="middle" fill="#000">#</text>
<line x1="505.3" y1="561.6" x2="505.3" y2="701.6" stroke="#000" stroke-width="1.6"/>
<line x1="504.5" y1="701.0" x2="630.3" y2="701.0" stroke="#000" stroke-width="1.4"/>
<line x1="505.3" y1="562.1" x2="507.8" y2="562.1" stroke="#000" stroke-width="1.5"/>
<line x1="505.3" y1="601.6" x2="507.8" y2="601.6" stroke="#000" stroke-width="1.5"/>
<line x1="505.3" y1="641.1" x2="507.8" y2="641.1" stroke="#000" stroke-width="1.5"/>
<line x1="505.3" y1="680.6" x2="507.8" y2="680.6" stroke="#000" stroke-width="1.5"/>
<text x="512.2" y="575.3" font-size="12.3" text-anchor="start" fill="#000" textLength="24.8" lengthAdjust="spacingAndGlyphs">EST</text>
<polyline points="509.3,620.4 532.7,632.6 563.8,645.8 587.1,670.5 610.5,651.8 626.0,638.9" fill="none" stroke="#000" stroke-width="1.6" stroke-linejoin="miter"/>
<polyline points="509.3,619.4 532.7,624.1 563.8,651.8 587.1,670.5 610.5,649.8 626.0,644.5" fill="none" stroke="#000" stroke-width="1.6" stroke-linejoin="miter"/>
<polyline points="509.3,618.4 532.7,619.4 563.8,610.5 587.1,611.1 610.5,597.1 626.0,591.3" fill="none" stroke="#000" stroke-width="1.6" stroke-linejoin="miter"/>
<line x1="509.3" y1="612.5" x2="509.3" y2="626.3" stroke="#000" stroke-width="1.4"/>
<line x1="505.4" y1="612.5" x2="513.2" y2="612.5" stroke="#000" stroke-width="1.6"/>
<line x1="505.4" y1="626.3" x2="513.2" y2="626.3" stroke="#000" stroke-width="1.6"/>
<line x1="532.7" y1="614.2" x2="532.7" y2="634.0" stroke="#000" stroke-width="1.4"/>
<line x1="528.8" y1="614.2" x2="536.6" y2="614.2" stroke="#000" stroke-width="1.6"/>
<line x1="528.8" y1="634.0" x2="536.6" y2="634.0" stroke="#000" stroke-width="1.6"/>
<line x1="563.8" y1="643.3" x2="563.8" y2="660.3" stroke="#000" stroke-width="1.4"/>
<line x1="559.9" y1="643.3" x2="567.7" y2="643.3" stroke="#000" stroke-width="1.6"/>
<line x1="559.9" y1="660.3" x2="567.7" y2="660.3" stroke="#000" stroke-width="1.6"/>
<line x1="587.1" y1="659.7" x2="587.1" y2="681.4" stroke="#000" stroke-width="1.4"/>
<line x1="583.2" y1="659.7" x2="591.0" y2="659.7" stroke="#000" stroke-width="1.6"/>
<line x1="583.2" y1="681.4" x2="591.0" y2="681.4" stroke="#000" stroke-width="1.6"/>
<line x1="610.5" y1="641.9" x2="610.5" y2="657.7" stroke="#000" stroke-width="1.4"/>
<line x1="606.6" y1="641.9" x2="614.4" y2="641.9" stroke="#000" stroke-width="1.6"/>
<line x1="606.6" y1="657.7" x2="614.4" y2="657.7" stroke="#000" stroke-width="1.6"/>
<line x1="626.0" y1="634.6" x2="626.0" y2="654.3" stroke="#000" stroke-width="1.4"/>
<line x1="622.1" y1="634.6" x2="629.9" y2="634.6" stroke="#000" stroke-width="1.6"/>
<line x1="622.1" y1="654.3" x2="629.9" y2="654.3" stroke="#000" stroke-width="1.6"/>
<rect x="505.2" y="615.3" width="8.2" height="8.2" rx="0.5" fill="#000"/>
<rect x="528.6" y="620.0" width="8.2" height="8.2" rx="0.5" fill="#000"/>
<rect x="559.7" y="647.7" width="8.2" height="8.2" rx="0.5" fill="#000"/>
<rect x="583.0" y="666.4" width="8.2" height="8.2" rx="0.5" fill="#000"/>
<rect x="606.4" y="645.7" width="8.2" height="8.2" rx="0.5" fill="#000"/>
<rect x="621.9" y="640.4" width="8.2" height="8.2" rx="0.5" fill="#000"/>
<line x1="509.3" y1="613.5" x2="509.3" y2="627.3" stroke="#000" stroke-width="1.4"/>
<line x1="505.4" y1="613.5" x2="513.2" y2="613.5" stroke="#000" stroke-width="1.6"/>
<line x1="505.4" y1="627.3" x2="513.2" y2="627.3" stroke="#000" stroke-width="1.6"/>
<line x1="532.7" y1="625.3" x2="532.7" y2="639.9" stroke="#000" stroke-width="1.4"/>
<line x1="528.8" y1="625.3" x2="536.6" y2="625.3" stroke="#000" stroke-width="1.6"/>
<line x1="528.8" y1="639.9" x2="536.6" y2="639.9" stroke="#000" stroke-width="1.6"/>
<line x1="563.8" y1="637.9" x2="563.8" y2="653.7" stroke="#000" stroke-width="1.4"/>
<line x1="559.9" y1="637.9" x2="567.7" y2="637.9" stroke="#000" stroke-width="1.6"/>
<line x1="559.9" y1="653.7" x2="567.7" y2="653.7" stroke="#000" stroke-width="1.6"/>
<line x1="587.1" y1="659.7" x2="587.1" y2="681.4" stroke="#000" stroke-width="1.4"/>
<line x1="583.2" y1="659.7" x2="591.0" y2="659.7" stroke="#000" stroke-width="1.6"/>
<line x1="583.2" y1="681.4" x2="591.0" y2="681.4" stroke="#000" stroke-width="1.6"/>
<line x1="610.5" y1="643.9" x2="610.5" y2="659.7" stroke="#000" stroke-width="1.4"/>
<line x1="606.6" y1="643.9" x2="614.4" y2="643.9" stroke="#000" stroke-width="1.6"/>
<line x1="606.6" y1="659.7" x2="614.4" y2="659.7" stroke="#000" stroke-width="1.6"/>
<line x1="626.0" y1="630.0" x2="626.0" y2="647.8" stroke="#000" stroke-width="1.4"/>
<line x1="622.1" y1="630.0" x2="629.9" y2="630.0" stroke="#000" stroke-width="1.6"/>
<line x1="622.1" y1="647.8" x2="629.9" y2="647.8" stroke="#000" stroke-width="1.6"/>
<rect x="505.9" y="617.0" width="6.800000000000001" height="6.800000000000001" fill="#fff" stroke="#000" stroke-width="1.6"/>
<rect x="529.3" y="629.2" width="6.800000000000001" height="6.800000000000001" fill="#fff" stroke="#000" stroke-width="1.6"/>
<rect x="560.4" y="642.4" width="6.800000000000001" height="6.800000000000001" fill="#fff" stroke="#000" stroke-width="1.6"/>
<rect x="583.7" y="667.1" width="6.800000000000001" height="6.800000000000001" fill="#fff" stroke="#000" stroke-width="1.6"/>
<rect x="607.1" y="648.4" width="6.800000000000001" height="6.800000000000001" fill="#fff" stroke="#000" stroke-width="1.6"/>
<rect x="622.6" y="635.5" width="6.800000000000001" height="6.800000000000001" fill="#fff" stroke="#000" stroke-width="1.6"/>
<line x1="509.3" y1="612.5" x2="509.3" y2="624.3" stroke="#000" stroke-width="1.4"/>
<line x1="505.4" y1="612.5" x2="513.2" y2="612.5" stroke="#000" stroke-width="1.6"/>
<line x1="505.4" y1="624.3" x2="513.2" y2="624.3" stroke="#000" stroke-width="1.6"/>
<line x1="532.7" y1="613.5" x2="532.7" y2="625.3" stroke="#000" stroke-width="1.4"/>
<line x1="528.8" y1="613.5" x2="536.6" y2="613.5" stroke="#000" stroke-width="1.6"/>
<line x1="528.8" y1="625.3" x2="536.6" y2="625.3" stroke="#000" stroke-width="1.6"/>
<line x1="563.8" y1="603.4" x2="563.8" y2="617.6" stroke="#000" stroke-width="1.4"/>
<line x1="559.9" y1="603.4" x2="567.7" y2="603.4" stroke="#000" stroke-width="1.6"/>
<line x1="559.9" y1="617.6" x2="567.7" y2="617.6" stroke="#000" stroke-width="1.6"/>
<line x1="587.1" y1="603.6" x2="587.1" y2="618.6" stroke="#000" stroke-width="1.4"/>
<line x1="583.2" y1="603.6" x2="591.0" y2="603.6" stroke="#000" stroke-width="1.6"/>
<line x1="583.2" y1="618.6" x2="591.0" y2="618.6" stroke="#000" stroke-width="1.6"/>
<line x1="610.5" y1="590.1" x2="610.5" y2="604.0" stroke="#000" stroke-width="1.4"/>
<line x1="606.6" y1="590.1" x2="614.4" y2="590.1" stroke="#000" stroke-width="1.6"/>
<line x1="606.6" y1="604.0" x2="614.4" y2="604.0" stroke="#000" stroke-width="1.6"/>
<line x1="626.0" y1="576.7" x2="626.0" y2="605.9" stroke="#000" stroke-width="1.4"/>
<line x1="622.1" y1="576.7" x2="629.9" y2="576.7" stroke="#000" stroke-width="1.6"/>
<line x1="622.1" y1="605.9" x2="629.9" y2="605.9" stroke="#000" stroke-width="1.6"/>
<circle cx="509.3" cy="618.4" r="4.2" fill="#000"/>
<circle cx="532.7" cy="619.4" r="4.2" fill="#000"/>
<circle cx="563.8" cy="610.5" r="4.2" fill="#000"/>
<circle cx="587.1" cy="611.1" r="4.2" fill="#000"/>
<circle cx="610.5" cy="597.1" r="4.2" fill="#000"/>
<circle cx="626.0" cy="591.3" r="4.2" fill="#000"/>
<text x="587.1" y="604.4" font-size="16" text-anchor="middle" fill="#000">*</text>
<polyline points="587.1,651.8 587.1,626.2 626.6,626.2 626.6,628.7" fill="none" stroke="#000" stroke-width="1.6" stroke-linejoin="miter"/>
<text x="605.5" y="624.1" font-size="16" font-weight="bold" text-anchor="middle" fill="#000">#</text>
<line x1="369.0" y1="706.2" x2="369.0" y2="846.2" stroke="#000" stroke-width="1.6"/>
<line x1="368.2" y1="845.6" x2="495.0" y2="845.6" stroke="#000" stroke-width="1.4"/>
<line x1="369.0" y1="706.7" x2="371.5" y2="706.7" stroke="#000" stroke-width="1.5"/>
<line x1="369.0" y1="746.2" x2="371.5" y2="746.2" stroke="#000" stroke-width="1.5"/>
<line x1="369.0" y1="785.7" x2="371.5" y2="785.7" stroke="#000" stroke-width="1.5"/>
<line x1="369.0" y1="825.2" x2="371.5" y2="825.2" stroke="#000" stroke-width="1.5"/>
<text x="365.8" y="710.3" font-size="10" font-weight="bold" text-anchor="end" fill="#000" textLength="17.6" lengthAdjust="spacingAndGlyphs">220</text>
<text x="365.8" y="749.8" font-size="10" font-weight="bold" text-anchor="end" fill="#000" textLength="17.6" lengthAdjust="spacingAndGlyphs">200</text>
<text x="365.8" y="789.3" font-size="10" font-weight="bold" text-anchor="end" fill="#000" textLength="17.6" lengthAdjust="spacingAndGlyphs">180</text>
<text x="365.8" y="828.8" font-size="10" font-weight="bold" text-anchor="end" fill="#000" textLength="17.6" lengthAdjust="spacingAndGlyphs">160</text>
<text transform="translate(339.3,775.8) rotate(-90)" font-size="11.4" font-weight="bold" text-anchor="middle" textLength="85" lengthAdjust="spacingAndGlyphs">SHR Weight (g)</text>
<text x="375.5" y="719.9" font-size="12.3" text-anchor="start" fill="#000" textLength="27.3" lengthAdjust="spacingAndGlyphs">MET</text>
<text transform="translate(373.9,857.5) rotate(-45)" font-size="9.4" font-weight="bold" text-anchor="end">-2</text>
<text transform="translate(397.4,857.5) rotate(-45)" font-size="9.4" font-weight="bold" text-anchor="end">1</text>
<text transform="translate(428.8,857.5) rotate(-45)" font-size="9.4" font-weight="bold" text-anchor="end">5</text>
<text transform="translate(452.4,857.5) rotate(-45)" font-size="9.4" font-weight="bold" text-anchor="end">8</text>
<text transform="translate(475.9,857.5) rotate(-45)" font-size="9.4" font-weight="bold" text-anchor="end">11</text>
<text transform="translate(491.6,857.5) rotate(-45)" font-size="9.4" font-weight="bold" text-anchor="end">13</text>
<polyline points="372.5,774.2 396.1,784.1 427.4,796.0 451.0,807.2 474.5,799.3 490.2,778.4" fill="none" stroke="#000" stroke-width="1.6" stroke-linejoin="miter"/>
<polyline points="372.5,769.3 396.1,775.2 427.4,798.5 451.0,818.7 474.5,799.3 490.2,768.3" fill="none" stroke="#000" stroke-width="1.6" stroke-linejoin="miter"/>
<polyline points="372.5,766.5 396.1,775.8 427.4,772.5 451.0,772.5 474.5,757.3 490.2,751.7" fill="none" stroke="#000" stroke-width="1.6" stroke-linejoin="miter"/>
<line x1="372.5" y1="761.4" x2="372.5" y2="777.2" stroke="#000" stroke-width="1.4"/>
<line x1="368.6" y1="761.4" x2="376.4" y2="761.4" stroke="#000" stroke-width="1.6"/>
<line x1="368.6" y1="777.2" x2="376.4" y2="777.2" stroke="#000" stroke-width="1.6"/>
<line x1="396.1" y1="767.3" x2="396.1" y2="783.1" stroke="#000" stroke-width="1.4"/>
<line x1="392.2" y1="767.3" x2="399.9" y2="767.3" stroke="#000" stroke-width="1.6"/>
<line x1="392.2" y1="783.1" x2="399.9" y2="783.1" stroke="#000" stroke-width="1.6"/>
<line x1="427.4" y1="791.4" x2="427.4" y2="805.6" stroke="#000" stroke-width="1.4"/>
<line x1="423.6" y1="791.4" x2="431.3" y2="791.4" stroke="#000" stroke-width="1.6"/>
<line x1="423.6" y1="805.6" x2="431.3" y2="805.6" stroke="#000" stroke-width="1.6"/>
<line x1="451.0" y1="811.2" x2="451.0" y2="826.2" stroke="#000" stroke-width="1.4"/>
<line x1="447.1" y1="811.2" x2="454.9" y2="811.2" stroke="#000" stroke-width="1.6"/>
<line x1="447.1" y1="826.2" x2="454.9" y2="826.2" stroke="#000" stroke-width="1.6"/>
<line x1="474.5" y1="792.0" x2="474.5" y2="806.6" stroke="#000" stroke-width="1.4"/>
<line x1="470.6" y1="792.0" x2="478.4" y2="792.0" stroke="#000" stroke-width="1.6"/>
<line x1="470.6" y1="806.6" x2="478.4" y2="806.6" stroke="#000" stroke-width="1.6"/>
<line x1="490.2" y1="764.4" x2="490.2" y2="772.3" stroke="#000" stroke-width="1.4"/>
<line x1="486.4" y1="764.4" x2="494.1" y2="764.4" stroke="#000" stroke-width="1.6"/>
<line x1="486.4" y1="772.3" x2="494.1" y2="772.3" stroke="#000" stroke-width="1.6"/>
<rect x="368.4" y="765.2" width="8.2" height="8.2" rx="0.5" fill="#000"/>
<rect x="391.9" y="771.1" width="8.2" height="8.2" rx="0.5" fill="#000"/>
<rect x="423.3" y="794.4" width="8.2" height="8.2" rx="0.5" fill="#000"/>
<rect x="446.9" y="814.6" width="8.2" height="8.2" rx="0.5" fill="#000"/>
<rect x="470.4" y="795.2" width="8.2" height="8.2" rx="0.5" fill="#000"/>
<rect x="486.1" y="764.2" width="8.2" height="8.2" rx="0.5" fill="#000"/>
<line x1="372.5" y1="768.3" x2="372.5" y2="780.2" stroke="#000" stroke-width="1.4"/>
<line x1="368.6" y1="768.3" x2="376.4" y2="768.3" stroke="#000" stroke-width="1.6"/>
<line x1="368.6" y1="780.2" x2="376.4" y2="780.2" stroke="#000" stroke-width="1.6"/>
<line x1="396.1" y1="778.2" x2="396.1" y2="790.0" stroke="#000" stroke-width="1.4"/>
<line x1="392.2" y1="778.2" x2="399.9" y2="778.2" stroke="#000" stroke-width="1.6"/>
<line x1="392.2" y1="790.0" x2="399.9" y2="790.0" stroke="#000" stroke-width="1.6"/>
<line x1="427.4" y1="790.0" x2="427.4" y2="801.9" stroke="#000" stroke-width="1.4"/>
<line x1="423.6" y1="790.0" x2="431.3" y2="790.0" stroke="#000" stroke-width="1.6"/>
<line x1="423.6" y1="801.9" x2="431.3" y2="801.9" stroke="#000" stroke-width="1.6"/>
<line x1="451.0" y1="803.3" x2="451.0" y2="811.2" stroke="#000" stroke-width="1.4"/>
<line x1="447.1" y1="803.3" x2="454.9" y2="803.3" stroke="#000" stroke-width="1.6"/>
<line x1="447.1" y1="811.2" x2="454.9" y2="811.2" stroke="#000" stroke-width="1.6"/>
<line x1="474.5" y1="792.0" x2="474.5" y2="806.6" stroke="#000" stroke-width="1.4"/>
<line x1="470.6" y1="792.0" x2="478.4" y2="792.0" stroke="#000" stroke-width="1.6"/>
<line x1="470.6" y1="806.6" x2="478.4" y2="806.6" stroke="#000" stroke-width="1.6"/>
<line x1="490.2" y1="771.9" x2="490.2" y2="784.9" stroke="#000" stroke-width="1.4"/>
<line x1="486.4" y1="771.9" x2="494.1" y2="771.9" stroke="#000" stroke-width="1.6"/>
<line x1="486.4" y1="784.9" x2="494.1" y2="784.9" stroke="#000" stroke-width="1.6"/>
<rect x="369.1" y="770.8" width="6.800000000000001" height="6.800000000000001" fill="#fff" stroke="#000" stroke-width="1.6"/>
<rect x="392.7" y="780.7" width="6.800000000000001" height="6.800000000000001" fill="#fff" stroke="#000" stroke-width="1.6"/>
<rect x="424.1" y="792.6" width="6.800000000000001" height="6.800000000000001" fill="#fff" stroke="#000" stroke-width="1.6"/>
<rect x="447.6" y="803.8" width="6.800000000000001" height="6.800000000000001" fill="#fff" stroke="#000" stroke-width="1.6"/>
<rect x="471.1" y="795.9" width="6.800000000000001" height="6.800000000000001" fill="#fff" stroke="#000" stroke-width="1.6"/>
<rect x="486.9" y="775.0" width="6.800000000000001" height="6.800000000000001" fill="#fff" stroke="#000" stroke-width="1.6"/>
<line x1="372.5" y1="760.6" x2="372.5" y2="772.5" stroke="#000" stroke-width="1.4"/>
<line x1="368.6" y1="760.6" x2="376.4" y2="760.6" stroke="#000" stroke-width="1.6"/>
<line x1="368.6" y1="772.5" x2="376.4" y2="772.5" stroke="#000" stroke-width="1.6"/>
<line x1="396.1" y1="769.9" x2="396.1" y2="781.8" stroke="#000" stroke-width="1.4"/>
<line x1="392.2" y1="769.9" x2="399.9" y2="769.9" stroke="#000" stroke-width="1.6"/>
<line x1="392.2" y1="781.8" x2="399.9" y2="781.8" stroke="#000" stroke-width="1.6"/>
<line x1="427.4" y1="763.0" x2="427.4" y2="781.9" stroke="#000" stroke-width="1.4"/>
<line x1="423.6" y1="763.0" x2="431.3" y2="763.0" stroke="#000" stroke-width="1.6"/>
<line x1="423.6" y1="781.9" x2="431.3" y2="781.9" stroke="#000" stroke-width="1.6"/>
<line x1="451.0" y1="763.6" x2="451.0" y2="781.4" stroke="#000" stroke-width="1.4"/>
<line x1="447.1" y1="763.6" x2="454.9" y2="763.6" stroke="#000" stroke-width="1.6"/>
<line x1="447.1" y1="781.4" x2="454.9" y2="781.4" stroke="#000" stroke-width="1.6"/>
<line x1="474.5" y1="748.6" x2="474.5" y2="766.0" stroke="#000" stroke-width="1.4"/>
<line x1="470.6" y1="748.6" x2="478.4" y2="748.6" stroke="#000" stroke-width="1.6"/>
<line x1="470.6" y1="766.0" x2="478.4" y2="766.0" stroke="#000" stroke-width="1.6"/>
<line x1="490.2" y1="746.6" x2="490.2" y2="756.9" stroke="#000" stroke-width="1.4"/>
<line x1="486.4" y1="746.6" x2="494.1" y2="746.6" stroke="#000" stroke-width="1.6"/>
<line x1="486.4" y1="756.9" x2="494.1" y2="756.9" stroke="#000" stroke-width="1.6"/>
<circle cx="372.5" cy="766.5" r="4.2" fill="#000"/>
<circle cx="396.1" cy="775.8" r="4.2" fill="#000"/>
<circle cx="427.4" cy="772.5" r="4.2" fill="#000"/>
<circle cx="451.0" cy="772.5" r="4.2" fill="#000"/>
<circle cx="474.5" cy="757.3" r="4.2" fill="#000"/>
<circle cx="490.2" cy="751.7" r="4.2" fill="#000"/>
<text x="451.0" y="764.0" font-size="16" text-anchor="middle" fill="#000">*</text>
<polyline points="452.7,829.1 452.7,833.5 491.1,833.5 491.1,791.1" fill="none" stroke="#000" stroke-width="1.6" stroke-linejoin="miter"/>
<text x="471.4" y="832.0" font-size="16" font-weight="bold" text-anchor="middle" fill="#000">#</text>
<line x1="506.5" y1="707.2" x2="506.5" y2="847.2" stroke="#000" stroke-width="1.6"/>
<line x1="505.7" y1="846.6" x2="631.5" y2="846.6" stroke="#000" stroke-width="1.4"/>
<line x1="506.5" y1="707.7" x2="509.0" y2="707.7" stroke="#000" stroke-width="1.5"/>
<line x1="506.5" y1="747.2" x2="509.0" y2="747.2" stroke="#000" stroke-width="1.5"/>
<line x1="506.5" y1="786.7" x2="509.0" y2="786.7" stroke="#000" stroke-width="1.5"/>
<line x1="506.5" y1="826.2" x2="509.0" y2="826.2" stroke="#000" stroke-width="1.5"/>
<text x="512.8" y="720.9" font-size="12.3" text-anchor="start" fill="#000" textLength="22.7" lengthAdjust="spacingAndGlyphs">DIE</text>
<text transform="translate(513.3,858.5) rotate(-45)" font-size="9.4" font-weight="bold" text-anchor="end">-2</text>
<text transform="translate(536.7,858.5) rotate(-45)" font-size="9.4" font-weight="bold" text-anchor="end">1</text>
<text transform="translate(567.8,858.5) rotate(-45)" font-size="9.4" font-weight="bold" text-anchor="end">5</text>
<text transform="translate(591.1,858.5) rotate(-45)" font-size="9.4" font-weight="bold" text-anchor="end">8</text>
<text transform="translate(614.5,858.5) rotate(-45)" font-size="9.4" font-weight="bold" text-anchor="end">11</text>
<text transform="translate(630.0,858.5) rotate(-45)" font-size="9.4" font-weight="bold" text-anchor="end">13</text>
<polyline points="510.7,775.2 534.1,783.5 565.2,796.0 588.5,805.7 611.9,806.6 627.4,796.6" fill="none" stroke="#000" stroke-width="1.6" stroke-linejoin="miter"/>
<polyline points="510.7,758.5 534.1,775.2 565.2,800.7 588.5,826.4 611.9,807.6 627.4,804.7" fill="none" stroke="#000" stroke-width="1.6" stroke-linejoin="miter"/>
<polyline points="510.7,758.5 534.1,757.9 565.2,760.4 588.5,755.1 611.9,741.7 627.4,731.2" fill="none" stroke="#000" stroke-width="1.6" stroke-linejoin="miter"/>
<line x1="510.7" y1="751.5" x2="510.7" y2="765.4" stroke="#000" stroke-width="1.4"/>
<line x1="506.8" y1="751.5" x2="514.6" y2="751.5" stroke="#000" stroke-width="1.6"/>
<line x1="506.8" y1="765.4" x2="514.6" y2="765.4" stroke="#000" stroke-width="1.6"/>
<line x1="534.1" y1="769.3" x2="534.1" y2="781.2" stroke="#000" stroke-width="1.4"/>
<line x1="530.2" y1="769.3" x2="538.0" y2="769.3" stroke="#000" stroke-width="1.6"/>
<line x1="530.2" y1="781.2" x2="538.0" y2="781.2" stroke="#000" stroke-width="1.6"/>
<line x1="565.2" y1="790.8" x2="565.2" y2="810.6" stroke="#000" stroke-width="1.4"/>
<line x1="561.3" y1="790.8" x2="569.1" y2="790.8" stroke="#000" stroke-width="1.6"/>
<line x1="561.3" y1="810.6" x2="569.1" y2="810.6" stroke="#000" stroke-width="1.6"/>
<line x1="588.5" y1="815.1" x2="588.5" y2="837.7" stroke="#000" stroke-width="1.4"/>
<line x1="584.6" y1="815.1" x2="592.4" y2="815.1" stroke="#000" stroke-width="1.6"/>
<line x1="584.6" y1="837.7" x2="592.4" y2="837.7" stroke="#000" stroke-width="1.6"/>
<line x1="611.9" y1="793.0" x2="611.9" y2="822.2" stroke="#000" stroke-width="1.4"/>
<line x1="608.0" y1="793.0" x2="615.8" y2="793.0" stroke="#000" stroke-width="1.6"/>
<line x1="608.0" y1="822.2" x2="615.8" y2="822.2" stroke="#000" stroke-width="1.6"/>
<line x1="627.4" y1="790.8" x2="627.4" y2="818.5" stroke="#000" stroke-width="1.4"/>
<line x1="623.5" y1="790.8" x2="631.3" y2="790.8" stroke="#000" stroke-width="1.6"/>
<line x1="623.5" y1="818.5" x2="631.3" y2="818.5" stroke="#000" stroke-width="1.6"/>
<rect x="506.6" y="754.4" width="8.2" height="8.2" rx="0.5" fill="#000"/>
<rect x="530.0" y="771.1" width="8.2" height="8.2" rx="0.5" fill="#000"/>
<rect x="561.1" y="796.6" width="8.2" height="8.2" rx="0.5" fill="#000"/>
<rect x="584.4" y="822.3" width="8.2" height="8.2" rx="0.5" fill="#000"/>
<rect x="607.8" y="803.5" width="8.2" height="8.2" rx="0.5" fill="#000"/>
<rect x="623.3" y="800.6" width="8.2" height="8.2" rx="0.5" fill="#000"/>
<line x1="510.7" y1="765.8" x2="510.7" y2="784.7" stroke="#000" stroke-width="1.4"/>
<line x1="506.8" y1="765.8" x2="514.6" y2="765.8" stroke="#000" stroke-width="1.6"/>
<line x1="506.8" y1="784.7" x2="514.6" y2="784.7" stroke="#000" stroke-width="1.6"/>
<line x1="534.1" y1="772.1" x2="534.1" y2="795.0" stroke="#000" stroke-width="1.4"/>
<line x1="530.2" y1="772.1" x2="538.0" y2="772.1" stroke="#000" stroke-width="1.6"/>
<line x1="530.2" y1="795.0" x2="538.0" y2="795.0" stroke="#000" stroke-width="1.6"/>
<line x1="565.2" y1="784.5" x2="565.2" y2="807.4" stroke="#000" stroke-width="1.4"/>
<line x1="561.3" y1="784.5" x2="569.1" y2="784.5" stroke="#000" stroke-width="1.6"/>
<line x1="561.3" y1="807.4" x2="569.1" y2="807.4" stroke="#000" stroke-width="1.6"/>
<line x1="588.5" y1="794.4" x2="588.5" y2="816.9" stroke="#000" stroke-width="1.4"/>
<line x1="584.6" y1="794.4" x2="592.4" y2="794.4" stroke="#000" stroke-width="1.6"/>
<line x1="584.6" y1="816.9" x2="592.4" y2="816.9" stroke="#000" stroke-width="1.6"/>
<line x1="611.9" y1="794.8" x2="611.9" y2="818.5" stroke="#000" stroke-width="1.4"/>
<line x1="608.0" y1="794.8" x2="615.8" y2="794.8" stroke="#000" stroke-width="1.6"/>
<line x1="608.0" y1="818.5" x2="615.8" y2="818.5" stroke="#000" stroke-width="1.6"/>
<line x1="627.4" y1="784.7" x2="627.4" y2="808.4" stroke="#000" stroke-width="1.4"/>
<line x1="623.5" y1="784.7" x2="631.3" y2="784.7" stroke="#000" stroke-width="1.6"/>
<line x1="623.5" y1="808.4" x2="631.3" y2="808.4" stroke="#000" stroke-width="1.6"/>
<rect x="507.3" y="771.8" width="6.800000000000001" height="6.800000000000001" fill="#fff" stroke="#000" stroke-width="1.6"/>
<rect x="530.7" y="780.1" width="6.800000000000001" height="6.800000000000001" fill="#fff" stroke="#000" stroke-width="1.6"/>
<rect x="561.8" y="792.6" width="6.800000000000001" height="6.800000000000001" fill="#fff" stroke="#000" stroke-width="1.6"/>
<rect x="585.1" y="802.3" width="6.800000000000001" height="6.800000000000001" fill="#fff" stroke="#000" stroke-width="1.6"/>
<rect x="608.5" y="803.2" width="6.800000000000001" height="6.800000000000001" fill="#fff" stroke="#000" stroke-width="1.6"/>
<rect x="624.0" y="793.2" width="6.800000000000001" height="6.800000000000001" fill="#fff" stroke="#000" stroke-width="1.6"/>
<line x1="510.7" y1="751.5" x2="510.7" y2="765.4" stroke="#000" stroke-width="1.4"/>
<line x1="506.8" y1="751.5" x2="514.6" y2="751.5" stroke="#000" stroke-width="1.6"/>
<line x1="506.8" y1="765.4" x2="514.6" y2="765.4" stroke="#000" stroke-width="1.6"/>
<line x1="534.1" y1="753.1" x2="534.1" y2="762.6" stroke="#000" stroke-width="1.4"/>
<line x1="530.2" y1="753.1" x2="538.0" y2="753.1" stroke="#000" stroke-width="1.6"/>
<line x1="530.2" y1="762.6" x2="538.0" y2="762.6" stroke="#000" stroke-width="1.6"/>
<line x1="565.2" y1="754.5" x2="565.2" y2="766.4" stroke="#000" stroke-width="1.4"/>
<line x1="561.3" y1="754.5" x2="569.1" y2="754.5" stroke="#000" stroke-width="1.6"/>
<line x1="561.3" y1="766.4" x2="569.1" y2="766.4" stroke="#000" stroke-width="1.6"/>
<line x1="588.5" y1="749.6" x2="588.5" y2="760.6" stroke="#000" stroke-width="1.4"/>
<line x1="584.6" y1="749.6" x2="592.4" y2="749.6" stroke="#000" stroke-width="1.6"/>
<line x1="584.6" y1="760.6" x2="592.4" y2="760.6" stroke="#000" stroke-width="1.6"/>
<line x1="611.9" y1="735.5" x2="611.9" y2="747.8" stroke="#000" stroke-width="1.4"/>
<line x1="608.0" y1="735.5" x2="615.8" y2="735.5" stroke="#000" stroke-width="1.6"/>
<line x1="608.0" y1="747.8" x2="615.8" y2="747.8" stroke="#000" stroke-width="1.6"/>
<line x1="627.4" y1="725.5" x2="627.4" y2="736.9" stroke="#000" stroke-width="1.4"/>
<line x1="623.5" y1="725.5" x2="631.3" y2="725.5" stroke="#000" stroke-width="1.6"/>
<line x1="623.5" y1="736.9" x2="631.3" y2="736.9" stroke="#000" stroke-width="1.6"/>
<circle cx="510.7" cy="758.5" r="4.2" fill="#000"/>
<circle cx="534.1" cy="757.9" r="4.2" fill="#000"/>
<circle cx="565.2" cy="760.4" r="4.2" fill="#000"/>
<circle cx="588.5" cy="755.1" r="4.2" fill="#000"/>
<circle cx="611.9" cy="741.7" r="4.2" fill="#000"/>
<circle cx="627.4" cy="731.2" r="4.2" fill="#000"/>
<text x="588.5" y="751.5" font-size="16" text-anchor="middle" fill="#000">*</text>
<line x1="369.8" y1="878.5" x2="467.3" y2="878.5" stroke="#222" stroke-width="1"/>
<line x1="531.3" y1="878.5" x2="628.6" y2="878.5" stroke="#222" stroke-width="1"/>
<text x="475.0" y="883.2" font-size="13.8" text-anchor="start" fill="#000" textLength="51.7" lengthAdjust="spacingAndGlyphs">Time (d)</text>
</svg>
</body></html>
